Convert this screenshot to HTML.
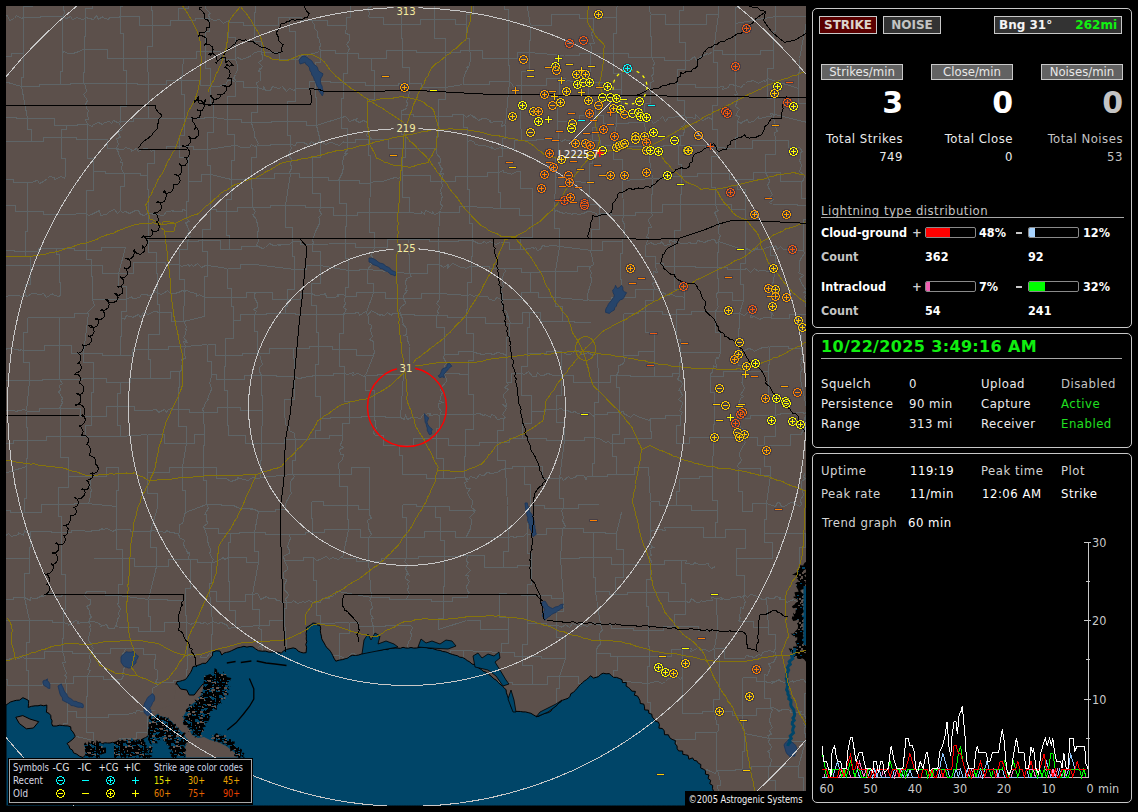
<!DOCTYPE html>
<html><head><meta charset="utf-8"><title>Lightning</title><style>
html,body{margin:0;padding:0;background:#000;width:1138px;height:812px;overflow:hidden}

.box{position:absolute;left:812px;width:318px;border:1px solid #c8c8c8;border-radius:5px;box-sizing:content-box}
.btn{position:absolute;border:1px solid #c8c8c8;white-space:nowrap;overflow:hidden}
.t{position:absolute;white-space:nowrap}
.bar{position:absolute;width:49px;height:9px;border:1px solid #8a8a8a;border-radius:2px;background:#000;overflow:hidden}
.bar div{height:9px}

</style></head><body>
<svg width="1138" height="812" viewBox="0 0 1138 812" style="position:absolute;left:0;top:0"><defs><clipPath id="mc"><rect x="6" y="6" width="800" height="800"/></clipPath><pattern id="marsh" width="24" height="24" patternUnits="userSpaceOnUse"><rect width="24" height="24" fill="#000"/><rect x="7" y="18" width="1" height="1" fill="#004568"/><rect x="15" y="20" width="1" height="2" fill="#004568"/><rect x="15" y="8" width="1" height="1" fill="#6a5a52"/><rect x="15" y="17" width="3" height="1" fill="#6a5a52"/><rect x="4" y="7" width="1" height="2" fill="#004568"/><rect x="23" y="0" width="1" height="1" fill="#5c504b"/><rect x="18" y="1" width="2" height="1" fill="#5c504b"/><rect x="8" y="15" width="3" height="2" fill="#5c504b"/><rect x="13" y="12" width="3" height="1" fill="#004568"/><rect x="3" y="1" width="1" height="1" fill="#004568"/><rect x="8" y="21" width="3" height="2" fill="#5c504b"/><rect x="9" y="13" width="3" height="2" fill="#004568"/><rect x="17" y="18" width="3" height="2" fill="#004568"/><rect x="10" y="21" width="1" height="1" fill="#004568"/><rect x="21" y="22" width="1" height="2" fill="#5c504b"/><rect x="10" y="17" width="1" height="2" fill="#6a5a52"/><rect x="6" y="20" width="2" height="1" fill="#004568"/><rect x="2" y="15" width="3" height="1" fill="#004568"/><rect x="2" y="13" width="1" height="1" fill="#004568"/><rect x="13" y="13" width="1" height="1" fill="#004568"/><rect x="19" y="1" width="3" height="2" fill="#004568"/><rect x="10" y="17" width="2" height="2" fill="#004568"/><rect x="1" y="9" width="1" height="1" fill="#004568"/><rect x="19" y="17" width="1" height="1" fill="#004568"/><rect x="9" y="19" width="2" height="1" fill="#6a5a52"/><rect x="1" y="10" width="2" height="1" fill="#004568"/><rect x="12" y="12" width="3" height="2" fill="#004568"/><rect x="20" y="19" width="1" height="2" fill="#5c504b"/><rect x="16" y="8" width="3" height="2" fill="#6a5a52"/><rect x="22" y="7" width="2" height="1" fill="#004568"/><rect x="16" y="9" width="2" height="1" fill="#5c504b"/><rect x="13" y="18" width="2" height="1" fill="#004568"/><rect x="19" y="18" width="1" height="1" fill="#6a5a52"/><rect x="20" y="10" width="3" height="1" fill="#6a5a52"/><rect x="11" y="19" width="2" height="2" fill="#004568"/><rect x="0" y="18" width="1" height="2" fill="#004568"/><rect x="11" y="8" width="3" height="1" fill="#004568"/><rect x="19" y="10" width="1" height="1" fill="#004568"/><rect x="10" y="11" width="2" height="1" fill="#5c504b"/><rect x="12" y="3" width="1" height="2" fill="#6a5a52"/><rect x="23" y="4" width="2" height="2" fill="#004568"/><rect x="20" y="8" width="1" height="1" fill="#004568"/><rect x="21" y="13" width="1" height="1" fill="#004568"/><rect x="10" y="10" width="1" height="1" fill="#5c504b"/><rect x="5" y="2" width="2" height="2" fill="#6a5a52"/><rect x="6" y="18" width="3" height="1" fill="#004568"/><rect x="3" y="1" width="1" height="1" fill="#5c504b"/><rect x="18" y="5" width="2" height="1" fill="#5c504b"/><rect x="20" y="2" width="2" height="2" fill="#004568"/><rect x="13" y="9" width="2" height="1" fill="#004568"/><rect x="20" y="13" width="2" height="1" fill="#004568"/><rect x="13" y="1" width="3" height="1" fill="#004568"/><rect x="0" y="15" width="3" height="2" fill="#6a5a52"/><rect x="7" y="1" width="3" height="2" fill="#6a5a52"/><rect x="16" y="9" width="2" height="1" fill="#5c504b"/><rect x="2" y="18" width="2" height="1" fill="#5c504b"/><rect x="7" y="1" width="1" height="2" fill="#004568"/><rect x="6" y="13" width="1" height="1" fill="#004568"/><rect x="23" y="3" width="1" height="2" fill="#004568"/><rect x="7" y="21" width="1" height="2" fill="#004568"/><rect x="13" y="1" width="1" height="1" fill="#004568"/><rect x="8" y="17" width="3" height="1" fill="#004568"/><rect x="7" y="6" width="1" height="2" fill="#5c504b"/><rect x="3" y="5" width="1" height="1" fill="#5c504b"/><rect x="4" y="0" width="3" height="2" fill="#004568"/><rect x="12" y="1" width="2" height="1" fill="#004568"/><rect x="19" y="16" width="3" height="1" fill="#004568"/><rect x="10" y="0" width="1" height="1" fill="#004568"/><rect x="3" y="1" width="1" height="1" fill="#004568"/><rect x="22" y="2" width="3" height="1" fill="#004568"/><rect x="10" y="2" width="2" height="1" fill="#6a5a52"/><rect x="12" y="18" width="2" height="1" fill="#004568"/><rect x="6" y="10" width="3" height="1" fill="#004568"/><rect x="17" y="0" width="3" height="1" fill="#004568"/><rect x="5" y="1" width="2" height="1" fill="#004568"/><rect x="20" y="17" width="3" height="2" fill="#5c504b"/><rect x="1" y="19" width="3" height="1" fill="#004568"/><rect x="20" y="15" width="2" height="1" fill="#6a5a52"/><rect x="13" y="14" width="1" height="1" fill="#004568"/><rect x="17" y="8" width="1" height="1" fill="#004568"/><rect x="13" y="4" width="1" height="1" fill="#004568"/><rect x="17" y="8" width="1" height="1" fill="#6a5a52"/><rect x="3" y="23" width="3" height="2" fill="#004568"/><rect x="23" y="10" width="1" height="2" fill="#6a5a52"/><rect x="0" y="15" width="1" height="1" fill="#5c504b"/><rect x="12" y="1" width="1" height="2" fill="#004568"/><rect x="21" y="12" width="1" height="1" fill="#004568"/><rect x="3" y="0" width="1" height="2" fill="#004568"/><rect x="22" y="9" width="2" height="1" fill="#004568"/><rect x="18" y="16" width="1" height="1" fill="#004568"/></pattern><pattern id="marsh2" width="24" height="24" patternUnits="userSpaceOnUse"><rect width="24" height="24" fill="#000"/><rect x="23" y="3" width="1" height="2" fill="#5c504b"/><rect x="18" y="5" width="1" height="1" fill="#004568"/><rect x="20" y="7" width="2" height="2" fill="#5c504b"/><rect x="11" y="19" width="2" height="2" fill="#5c504b"/><rect x="2" y="12" width="1" height="2" fill="#5c504b"/><rect x="23" y="5" width="2" height="1" fill="#5c504b"/><rect x="20" y="12" width="1" height="1" fill="#004568"/><rect x="15" y="23" width="2" height="1" fill="#5c504b"/><rect x="4" y="8" width="1" height="2" fill="#004568"/><rect x="7" y="22" width="2" height="2" fill="#5c504b"/><rect x="19" y="18" width="2" height="1" fill="#5c504b"/><rect x="9" y="0" width="2" height="2" fill="#5c504b"/><rect x="6" y="5" width="2" height="1" fill="#5c504b"/><rect x="10" y="15" width="2" height="2" fill="#004568"/><rect x="22" y="19" width="2" height="1" fill="#004568"/><rect x="15" y="23" width="2" height="1" fill="#004568"/><rect x="14" y="7" width="1" height="1" fill="#004568"/><rect x="8" y="7" width="2" height="1" fill="#004568"/><rect x="5" y="19" width="2" height="1" fill="#004568"/><rect x="1" y="10" width="2" height="1" fill="#004568"/><rect x="23" y="2" width="1" height="2" fill="#004568"/><rect x="9" y="1" width="2" height="2" fill="#5c504b"/><rect x="0" y="0" width="2" height="2" fill="#5c504b"/><rect x="12" y="15" width="1" height="2" fill="#004568"/><rect x="12" y="4" width="2" height="1" fill="#5c504b"/><rect x="8" y="2" width="1" height="2" fill="#5c504b"/><rect x="16" y="8" width="2" height="2" fill="#004568"/><rect x="14" y="9" width="1" height="2" fill="#5c504b"/><rect x="21" y="18" width="1" height="2" fill="#5c504b"/><rect x="16" y="11" width="2" height="1" fill="#004568"/><rect x="20" y="20" width="1" height="2" fill="#004568"/><rect x="20" y="14" width="1" height="1" fill="#004568"/><rect x="10" y="20" width="2" height="2" fill="#5c504b"/><rect x="20" y="5" width="2" height="2" fill="#5c504b"/><rect x="5" y="22" width="1" height="1" fill="#004568"/><rect x="17" y="17" width="2" height="2" fill="#5c504b"/><rect x="3" y="8" width="2" height="1" fill="#5c504b"/><rect x="4" y="1" width="2" height="1" fill="#5c504b"/><rect x="22" y="16" width="2" height="2" fill="#5c504b"/><rect x="14" y="17" width="2" height="2" fill="#004568"/></pattern><path id="sCp" d="M-1 -4h3v1h-3zM-3 -3h2v1h-2zM2 -3h2v1h-2zM-3 -2h1v1h-1zM0 -2h1v1h-1zM3 -2h1v1h-1zM-4 -1h1v1h-1zM0 -1h1v1h-1zM4 -1h1v1h-1zM-4 0h1v1h-1zM-2 0h5v1h-5zM4 0h1v1h-1zM-4 1h1v1h-1zM0 1h1v1h-1zM4 1h1v1h-1zM-3 2h1v1h-1zM0 2h1v1h-1zM3 2h1v1h-1zM-3 3h2v1h-2zM2 3h2v1h-2zM-1 4h3v1h-3z"/><path id="sCm" d="M-1 -4h3v1h-3zM-3 -3h2v1h-2zM2 -3h2v1h-2zM-3 -2h1v1h-1zM3 -2h1v1h-1zM-4 -1h1v1h-1zM4 -1h1v1h-1zM-4 0h1v1h-1zM-2 0h5v1h-5zM4 0h1v1h-1zM-4 1h1v1h-1zM4 1h1v1h-1zM-3 2h1v1h-1zM3 2h1v1h-1zM-3 3h2v1h-2zM2 3h2v1h-2zM-1 4h3v1h-3z"/><path id="sP" d="M0 -3h1v1h-1zM0 -2h1v1h-1zM0 -1h1v1h-1zM-3 0h7v1h-7zM0 1h1v1h-1zM0 2h1v1h-1zM0 3h1v1h-1z"/><path id="sM" d="M-3 0h7v1h-7z"/></defs><g clip-path="url(#mc)"><rect x="6" y="6" width="800" height="800" fill="#5c504b"/><path d="M-4.5 1.5L32.5 -0.5M-4.5 1.5L-4.5 7.5L-7.5 5.5L-8.5 9.5L-8.5 12.5L-8.5 17.5M-8.5 17.5L-6.5 16.5L-1.5 19.5L3.5 15.5L2.5 16.5L7.5 15.5L9.5 20.5L14.5 18.5L16.5 15.5L21.5 18.5L23.5 17.5M-8.5 17.5V34.5H-1.5V56.5M-1.5 56.5H11.5V53.5H23.5M-1.5 56.5V68.5H-9.5V77.5M-9.5 77.5L21.5 86.5M-3.5 117.5H16.5V118.5H27.5M-3.5 117.5V129.5H-6.5V141.5M-6.5 141.5H20.5V141.5H31.5M-6.5 141.5V165.5H-4.5V179.5M-4.5 179.5H13.5V182.5H27.5M-4.5 179.5V197.5H-8.5V205.5M-8.5 205.5H15.5V211.5H27.5M-8.5 205.5V234.5H-0.5V250.5M-0.5 250.5H14.5V251.5H25.5M-0.5 250.5V262.5H-12.5V268.5M-12.5 268.5H5.5V265.5H30.5M-12.5 268.5V281.5H-4.5V293.5M-4.5 293.5L-2.5 295.5L0.5 294.5L3.5 296.5L6.5 296.5L9.5 295.5L13.5 295.5L19.5 295.5L22.5 297.5L22.5 295.5L25.5 295.5M-4.5 293.5V307.5H-3.5V323.5M-3.5 323.5V339.5H-5.5V348.5M-5.5 348.5L0.5 350.5L-0.5 350.5L3.5 350.5L7.5 348.5L11.5 348.5L16.5 349.5L20.5 350.5L20.5 349.5L23.5 350.5M-5.5 348.5V362.5H-9.5V374.5M-9.5 374.5H4.5V380.5H29.5M-9.5 374.5L-10.5 407.5M-10.5 407.5L-4.5 409.5L-2.5 407.5L-0.5 407.5L0.5 407.5L3.5 410.5L7.5 410.5L12.5 410.5L14.5 410.5L15.5 411.5L19.5 410.5L24.5 409.5L26.5 411.5M-10.5 407.5V420.5H-9.5V443.5M-9.5 443.5H13.5V440.5H27.5M-9.5 443.5L-5.5 476.5M-5.5 476.5L26.5 466.5M-5.5 476.5V500.5H-1.5V510.5M-1.5 510.5H10.5V512.5H24.5M-1.5 510.5V526.5H-11.5V537.5M-11.5 537.5L-5.5 539.5L-3.5 535.5L-2.5 537.5L2.5 535.5L2.5 534.5L4.5 536.5L8.5 533.5L11.5 536.5L18.5 534.5L18.5 532.5L23.5 535.5L24.5 530.5L29.5 534.5L30.5 531.5M-11.5 537.5V548.5H-11.5V565.5M-11.5 565.5H3.5V558.5H29.5M-2.5 599.5H13.5V597.5H24.5M-2.5 599.5V615.5H-7.5V621.5M-7.5 621.5H4.5V620.5H29.5M-7.5 621.5V644.5H-11.5V655.5M-11.5 655.5L-5.5 655.5L-6.5 657.5L-1.5 656.5L3.5 657.5L5.5 659.5L6.5 659.5L12.5 658.5L15.5 657.5L19.5 658.5L22.5 656.5L24.5 658.5L26.5 658.5M-11.5 655.5L-9.5 679.5M-9.5 679.5H7.5V685.5H28.5M-9.5 708.5H0.5V717.5H22.5M-9.5 708.5L-8.5 739.5M-8.5 739.5H18.5V731.5H31.5M-6.5 766.5L-6.5 771.5L-5.5 774.5L-6.5 776.5L-6.5 781.5L-5.5 782.5L-8.5 787.5L-8.5 787.5L-5.5 793.5L-4.5 795.5L-6.5 798.5M-6.5 798.5H8.5V799.5H23.5M-6.5 798.5V818.5H-6.5V826.5M-6.5 826.5H13.5V830.5H31.5M32.5 -0.5L61.5 -8.5M32.5 -0.5V6.5H23.5V17.5M23.5 17.5H40.5V16.5H62.5M23.5 17.5V35.5H23.5V53.5M23.5 53.5V77.5H21.5V86.5M21.5 86.5H39.5V84.5H60.5M21.5 86.5L27.5 118.5M27.5 118.5H54.5V125.5H66.5M27.5 118.5V129.5H31.5V141.5M31.5 141.5H43.5V137.5H61.5M27.5 182.5L32.5 182.5L33.5 181.5L37.5 180.5L39.5 183.5L43.5 181.5L47.5 178.5L49.5 176.5L54.5 177.5L54.5 179.5L61.5 176.5L64.5 178.5L65.5 175.5M27.5 182.5V200.5H27.5V211.5M27.5 211.5H43.5V214.5H65.5M27.5 211.5V231.5H25.5V251.5M25.5 251.5H38.5V248.5H56.5M25.5 251.5V256.5H30.5V265.5M30.5 265.5H42.5V265.5H59.5M30.5 265.5V284.5H25.5V295.5M25.5 295.5L27.5 296.5L31.5 293.5L33.5 293.5L40.5 294.5L43.5 293.5L46.5 297.5L49.5 295.5L52.5 293.5L52.5 294.5L58.5 296.5L60.5 295.5M27.5 317.5H48.5V317.5H59.5M27.5 317.5V332.5H23.5V350.5M23.5 350.5H44.5V345.5H59.5M23.5 350.5V362.5H29.5V380.5M29.5 380.5H42.5V379.5H59.5M29.5 380.5L26.5 411.5M26.5 411.5H39.5V408.5H60.5M26.5 411.5V427.5H27.5V440.5M27.5 440.5H46.5V436.5H60.5M27.5 440.5V458.5H26.5V466.5M26.5 466.5V498.5H24.5V512.5M24.5 512.5H41.5V504.5H58.5M30.5 531.5H51.5V532.5H61.5M30.5 531.5V547.5H29.5V558.5M29.5 558.5V573.5H24.5V597.5M24.5 597.5L30.5 600.5L30.5 597.5L33.5 598.5L36.5 598.5L42.5 595.5L42.5 596.5L45.5 595.5L48.5 593.5L52.5 593.5L54.5 596.5L60.5 596.5L62.5 595.5L65.5 593.5M24.5 597.5L29.5 620.5M29.5 620.5H52.5V622.5H63.5M29.5 620.5V642.5H26.5V658.5M26.5 658.5H44.5V651.5H62.5M26.5 658.5V670.5H28.5V685.5M28.5 685.5H42.5V683.5H66.5M28.5 685.5V705.5H22.5V717.5M22.5 717.5V722.5H31.5V731.5M31.5 731.5H47.5V733.5H63.5M31.5 731.5V751.5H27.5V770.5M27.5 770.5L33.5 770.5L34.5 770.5L38.5 769.5L41.5 770.5L42.5 769.5L44.5 769.5L48.5 771.5L51.5 768.5L56.5 768.5L60.5 770.5L63.5 769.5L64.5 770.5M23.5 799.5H41.5V795.5H61.5M23.5 799.5L31.5 830.5M31.5 830.5H44.5V830.5H65.5M61.5 -8.5L92.5 -5.5M61.5 -8.5L60.5 -2.5L64.5 -2.5L59.5 0.5L62.5 2.5L63.5 9.5L64.5 11.5L64.5 13.5L62.5 16.5M62.5 16.5L66.5 18.5L70.5 16.5L72.5 19.5L77.5 17.5L78.5 18.5L83.5 19.5L85.5 17.5M62.5 16.5V29.5H62.5V52.5M62.5 52.5L64.5 51.5L67.5 53.5L73.5 53.5L75.5 52.5L79.5 51.5L82.5 49.5L84.5 49.5M62.5 52.5V71.5H60.5V84.5M60.5 84.5H70.5V83.5H83.5M66.5 125.5H77.5V124.5H87.5M66.5 125.5V129.5H61.5V137.5M61.5 137.5H76.5V139.5H87.5M61.5 137.5V158.5H65.5V175.5M65.5 214.5L86.5 213.5M56.5 248.5H74.5V250.5H86.5M56.5 248.5V254.5H59.5V265.5M59.5 265.5H80.5V265.5H91.5M59.5 265.5V282.5H60.5V295.5M59.5 317.5H74.5V313.5H88.5M59.5 317.5V330.5H59.5V345.5M59.5 345.5H71.5V353.5H83.5M59.5 345.5V358.5H59.5V379.5M59.5 379.5H82.5V378.5H93.5M59.5 379.5L62.5 383.5L59.5 385.5L60.5 390.5L58.5 391.5L62.5 398.5L61.5 400.5L62.5 402.5L59.5 408.5L60.5 408.5M60.5 408.5H80.5V416.5H91.5M60.5 408.5V424.5H60.5V436.5M60.5 436.5H76.5V436.5H85.5M60.5 436.5V457.5H68.5V476.5M68.5 476.5H82.5V476.5H92.5M68.5 476.5V487.5H58.5V504.5M58.5 504.5H74.5V503.5H87.5M58.5 504.5V516.5H61.5V532.5M61.5 532.5H71.5V530.5H83.5M61.5 532.5V546.5H61.5V562.5M61.5 562.5V574.5H65.5V593.5M65.5 593.5V609.5H63.5V622.5M63.5 622.5L69.5 624.5L68.5 625.5L75.5 620.5L78.5 621.5L77.5 623.5L83.5 622.5L87.5 622.5L89.5 621.5M63.5 622.5V638.5H62.5V651.5M62.5 651.5H72.5V653.5H90.5M62.5 651.5L64.5 657.5L64.5 658.5L65.5 662.5L62.5 662.5L64.5 668.5L66.5 673.5L64.5 675.5L66.5 676.5L65.5 682.5L66.5 683.5M66.5 683.5H73.5V676.5H87.5M66.5 683.5V695.5H67.5V711.5M67.5 711.5H76.5V717.5H86.5M67.5 711.5V723.5H63.5V733.5M63.5 733.5L93.5 740.5M63.5 733.5V753.5H64.5V770.5M64.5 770.5L66.5 770.5L72.5 770.5L72.5 769.5L77.5 765.5L78.5 765.5L80.5 766.5L85.5 764.5M64.5 770.5V779.5H61.5V795.5M61.5 795.5H73.5V801.5H86.5M61.5 795.5V807.5H65.5V830.5M65.5 830.5H74.5V823.5H93.5M92.5 -5.5L94.5 -5.5L96.5 -6.5L103.5 -5.5L103.5 -3.5L107.5 -6.5L112.5 -2.5L115.5 -6.5L118.5 -4.5L120.5 -3.5L122.5 -4.5M92.5 -5.5V8.5H85.5V17.5M85.5 17.5L89.5 18.5L93.5 19.5L96.5 15.5L98.5 19.5L102.5 16.5L102.5 17.5L108.5 19.5L109.5 17.5L115.5 17.5L118.5 17.5L120.5 16.5M85.5 17.5V36.5H84.5V49.5M84.5 49.5H107.5V58.5H123.5M84.5 49.5V72.5H83.5V83.5M83.5 83.5H111.5V83.5H126.5M83.5 83.5L85.5 85.5L86.5 91.5L84.5 93.5L83.5 94.5L87.5 100.5L85.5 104.5L85.5 103.5L86.5 108.5L88.5 110.5L87.5 113.5L88.5 119.5L85.5 119.5L87.5 124.5M87.5 124.5L92.5 126.5L92.5 125.5L95.5 123.5L98.5 122.5L102.5 124.5L104.5 122.5L109.5 121.5L111.5 123.5L113.5 120.5L117.5 122.5L120.5 121.5M87.5 124.5V130.5H87.5V139.5M87.5 139.5H107.5V148.5H116.5M87.5 139.5V158.5H93.5V171.5M93.5 171.5H105.5V173.5H124.5M93.5 171.5V190.5H86.5V213.5M86.5 213.5L88.5 215.5L91.5 214.5L95.5 212.5L99.5 210.5L100.5 215.5L106.5 214.5L107.5 213.5L109.5 211.5L114.5 209.5L117.5 213.5L120.5 210.5M86.5 213.5V232.5H86.5V250.5M86.5 250.5H101.5V247.5H125.5M86.5 250.5V259.5H91.5V265.5M91.5 265.5H102.5V273.5H118.5M91.5 265.5V276.5H92.5V299.5M92.5 299.5H114.5V299.5H126.5M92.5 299.5L94.5 305.5L92.5 307.5L87.5 312.5L88.5 313.5M88.5 313.5L83.5 353.5M83.5 353.5H102.5V355.5H120.5M83.5 353.5V362.5H93.5V378.5M93.5 378.5H106.5V382.5H120.5M93.5 378.5V392.5H91.5V416.5M91.5 416.5H106.5V406.5H117.5M91.5 416.5V425.5H85.5V436.5M85.5 436.5H106.5V436.5H120.5M92.5 476.5H106.5V467.5H118.5M92.5 476.5L90.5 481.5L90.5 485.5L89.5 485.5L90.5 488.5L91.5 489.5L90.5 493.5L90.5 496.5L88.5 503.5L87.5 503.5M87.5 503.5L116.5 506.5M83.5 530.5L86.5 531.5L90.5 531.5L92.5 530.5L95.5 530.5L98.5 530.5L102.5 528.5L102.5 529.5L107.5 528.5L112.5 531.5L116.5 529.5L116.5 529.5M93.5 558.5L122.5 558.5M86.5 591.5H105.5V595.5H118.5M86.5 591.5L84.5 595.5L88.5 599.5L90.5 599.5L90.5 604.5L86.5 606.5L89.5 610.5L89.5 613.5L91.5 617.5L89.5 618.5L89.5 621.5M89.5 621.5L92.5 621.5L97.5 622.5L101.5 625.5L100.5 626.5L106.5 624.5L108.5 628.5L114.5 628.5L115.5 625.5L118.5 627.5M89.5 621.5L90.5 626.5L89.5 626.5L90.5 629.5L89.5 634.5L88.5 637.5L88.5 640.5L92.5 645.5L91.5 646.5L93.5 648.5L90.5 653.5M90.5 653.5H110.5V648.5H124.5M90.5 653.5L89.5 656.5L90.5 660.5L89.5 666.5L87.5 669.5L90.5 670.5L87.5 675.5L87.5 676.5M87.5 676.5H103.5V679.5H121.5M87.5 676.5V696.5H86.5V717.5M86.5 717.5H108.5V714.5H126.5M86.5 717.5V732.5H93.5V740.5M93.5 740.5L92.5 743.5L92.5 748.5L90.5 748.5L90.5 754.5L88.5 753.5L89.5 758.5L86.5 761.5L85.5 764.5M85.5 764.5H100.5V772.5H125.5M85.5 764.5L87.5 767.5L87.5 769.5L86.5 773.5L87.5 775.5L84.5 779.5L87.5 785.5L87.5 784.5L88.5 787.5L87.5 790.5L86.5 795.5L85.5 800.5L86.5 801.5M86.5 801.5H108.5V792.5H124.5M86.5 801.5V811.5H93.5V823.5M93.5 823.5L96.5 822.5L101.5 823.5L103.5 827.5L104.5 823.5L112.5 828.5L111.5 827.5L114.5 828.5L119.5 826.5M122.5 -4.5V6.5H120.5V16.5M120.5 16.5H139.5V25.5H152.5M120.5 16.5V33.5H123.5V58.5M123.5 58.5L147.5 58.5M123.5 58.5V70.5H126.5V83.5M126.5 83.5H137.5V84.5H148.5M126.5 83.5V106.5H120.5V121.5M120.5 121.5H133.5V118.5H148.5M120.5 121.5L119.5 124.5L122.5 129.5L121.5 130.5L117.5 131.5L120.5 137.5L116.5 138.5L118.5 144.5L116.5 147.5L116.5 148.5M116.5 148.5L120.5 149.5L123.5 149.5L125.5 147.5L131.5 149.5L131.5 151.5L136.5 148.5L138.5 151.5L143.5 148.5L146.5 148.5L149.5 149.5L151.5 151.5L154.5 149.5M116.5 148.5L118.5 152.5L118.5 154.5L121.5 159.5L120.5 162.5L122.5 162.5L121.5 169.5L123.5 172.5L124.5 173.5M124.5 173.5H140.5V175.5H147.5M124.5 173.5V186.5H120.5V210.5M120.5 210.5L122.5 212.5L125.5 211.5L129.5 213.5L135.5 210.5L138.5 210.5L140.5 214.5L144.5 215.5L148.5 212.5L148.5 213.5M125.5 247.5L118.5 273.5M118.5 273.5H133.5V262.5H156.5M118.5 273.5V286.5H126.5V299.5M126.5 299.5L131.5 296.5L132.5 298.5L134.5 298.5L139.5 297.5L141.5 294.5L145.5 294.5L149.5 295.5L153.5 293.5L154.5 291.5L157.5 292.5M126.5 299.5V311.5H121.5V317.5M121.5 317.5L124.5 319.5L126.5 315.5L133.5 317.5L132.5 317.5L138.5 314.5L140.5 317.5L143.5 312.5L148.5 314.5L151.5 312.5L154.5 311.5L155.5 311.5L159.5 312.5M121.5 317.5V336.5H120.5V355.5M120.5 355.5H132.5V349.5H148.5M120.5 382.5H130.5V378.5H150.5M120.5 382.5V393.5H117.5V406.5M117.5 406.5H134.5V410.5H150.5M117.5 406.5V425.5H120.5V436.5M120.5 436.5L147.5 434.5M118.5 467.5V490.5H116.5V506.5M116.5 506.5V517.5H116.5V529.5M116.5 529.5H130.5V531.5H150.5M116.5 529.5V549.5H122.5V558.5M122.5 558.5H134.5V566.5H156.5M122.5 558.5V584.5H118.5V595.5M118.5 595.5L148.5 599.5M118.5 595.5L118.5 600.5L118.5 602.5L117.5 604.5L120.5 608.5L118.5 613.5L119.5 616.5L118.5 617.5L117.5 619.5L116.5 625.5L118.5 627.5M118.5 627.5H138.5V631.5H150.5M124.5 648.5H143.5V654.5H155.5M124.5 648.5L125.5 649.5L122.5 654.5L126.5 657.5L125.5 659.5L124.5 666.5L124.5 666.5L123.5 670.5L122.5 674.5L123.5 675.5L121.5 679.5M126.5 714.5L127.5 714.5L134.5 712.5L135.5 713.5L136.5 710.5L143.5 711.5L146.5 712.5L147.5 710.5M118.5 738.5H136.5V732.5H147.5M118.5 738.5V749.5H125.5V772.5M125.5 772.5H139.5V768.5H158.5M125.5 772.5L125.5 778.5L123.5 779.5L127.5 784.5L123.5 787.5L123.5 788.5L124.5 792.5M124.5 792.5L126.5 792.5L133.5 793.5L132.5 794.5L139.5 796.5L140.5 794.5L145.5 794.5L145.5 792.5L149.5 794.5M124.5 792.5V811.5H119.5V826.5M119.5 826.5H141.5V822.5H152.5M151.5 -0.5H169.5V-4.5H188.5M151.5 -0.5V10.5H152.5V25.5M152.5 25.5H170.5V20.5H178.5M152.5 25.5V46.5H147.5V58.5M147.5 58.5H166.5V58.5H183.5M147.5 58.5L148.5 84.5M148.5 84.5H166.5V80.5H181.5M148.5 84.5V101.5H148.5V118.5M148.5 118.5H161.5V118.5H184.5M154.5 149.5H166.5V146.5H179.5M154.5 149.5V163.5H147.5V175.5M147.5 175.5V189.5H148.5V213.5M148.5 213.5L150.5 213.5L154.5 214.5L156.5 214.5L163.5 215.5L166.5 211.5L168.5 211.5L173.5 210.5L172.5 211.5L177.5 211.5L182.5 211.5L182.5 209.5L186.5 210.5M148.5 213.5V228.5H148.5V241.5M148.5 241.5H176.5V241.5H187.5M148.5 241.5V252.5H156.5V262.5M156.5 262.5H165.5V264.5H179.5M156.5 262.5V273.5H157.5V292.5M157.5 292.5L160.5 294.5L163.5 293.5L167.5 290.5L170.5 293.5L172.5 293.5L174.5 293.5L178.5 292.5L182.5 290.5L184.5 291.5M157.5 292.5V304.5H159.5V312.5M159.5 312.5H171.5V321.5H183.5M159.5 312.5V334.5H148.5V349.5M148.5 349.5H168.5V346.5H185.5M148.5 349.5V359.5H150.5V378.5M150.5 378.5H170.5V371.5H179.5M150.5 410.5L155.5 409.5L157.5 410.5L158.5 412.5L164.5 409.5L166.5 412.5L167.5 410.5L170.5 408.5L174.5 409.5L178.5 409.5M147.5 434.5H164.5V443.5H186.5M147.5 434.5V457.5H147.5V472.5M147.5 472.5H169.5V467.5H182.5M147.5 472.5V493.5H157.5V507.5M157.5 507.5L150.5 531.5M150.5 531.5L152.5 530.5L157.5 531.5L159.5 531.5L165.5 532.5L166.5 530.5L170.5 532.5L173.5 532.5L175.5 533.5L178.5 533.5M150.5 531.5V547.5H156.5V566.5M156.5 566.5H168.5V559.5H190.5M156.5 566.5L148.5 599.5M148.5 599.5H167.5V600.5H185.5M148.5 599.5V616.5H150.5V631.5M150.5 631.5H164.5V622.5H186.5M155.5 654.5L155.5 657.5L154.5 661.5L154.5 663.5L154.5 668.5L157.5 670.5L157.5 674.5L157.5 677.5L157.5 678.5L155.5 682.5M155.5 682.5H173.5V680.5H186.5M155.5 682.5L157.5 685.5L152.5 688.5L152.5 692.5L152.5 695.5L151.5 696.5L150.5 700.5L148.5 702.5L149.5 707.5L147.5 710.5M147.5 710.5H174.5V713.5H188.5M147.5 710.5V725.5H147.5V732.5M147.5 732.5L151.5 734.5L156.5 734.5L156.5 731.5L158.5 732.5L162.5 731.5L166.5 733.5L169.5 734.5L169.5 733.5L177.5 731.5L176.5 731.5L182.5 733.5L183.5 732.5L187.5 734.5L189.5 732.5M147.5 732.5V754.5H158.5V768.5M158.5 768.5L160.5 770.5L164.5 765.5L166.5 767.5L170.5 763.5L174.5 763.5L178.5 763.5M158.5 768.5V779.5H149.5V794.5M149.5 794.5L184.5 799.5M149.5 794.5L151.5 797.5L148.5 801.5L149.5 805.5L153.5 807.5L150.5 811.5L153.5 813.5L153.5 815.5L154.5 819.5L152.5 822.5M152.5 822.5H176.5V821.5H189.5M188.5 -4.5H195.5V-4.5H201.5M188.5 -4.5V8.5H178.5V20.5M178.5 20.5H195.5V18.5H209.5M183.5 58.5H196.5V51.5H205.5M183.5 58.5L181.5 80.5M181.5 80.5H200.5V85.5H210.5M181.5 80.5V94.5H184.5V118.5M184.5 118.5H204.5V117.5H213.5M184.5 118.5V135.5H179.5V146.5M179.5 146.5H193.5V149.5H207.5M179.5 146.5V157.5H188.5V181.5M188.5 181.5H201.5V174.5H210.5M188.5 181.5V201.5H186.5V210.5M186.5 210.5L186.5 212.5L186.5 218.5L189.5 221.5L185.5 222.5L187.5 226.5L188.5 229.5L189.5 231.5L186.5 235.5L190.5 236.5L187.5 241.5M187.5 241.5H198.5V240.5H202.5M187.5 241.5V249.5H179.5V264.5M179.5 264.5L181.5 266.5L188.5 264.5L189.5 266.5L191.5 264.5L193.5 266.5L197.5 263.5L201.5 267.5L205.5 265.5L207.5 265.5M179.5 264.5V279.5H184.5V291.5M184.5 291.5L186.5 290.5L191.5 292.5L196.5 293.5L196.5 296.5L199.5 294.5L204.5 297.5M184.5 291.5L183.5 321.5M183.5 321.5L204.5 316.5M183.5 321.5L186.5 326.5L185.5 329.5L186.5 329.5L184.5 336.5L183.5 337.5L187.5 342.5L183.5 341.5L185.5 346.5M185.5 346.5L207.5 344.5M185.5 346.5L184.5 349.5L184.5 353.5L185.5 358.5L181.5 359.5L182.5 361.5L181.5 368.5L181.5 370.5L179.5 371.5M179.5 371.5V387.5H178.5V409.5M178.5 409.5H189.5V412.5H203.5M178.5 409.5V426.5H186.5V443.5M186.5 443.5H194.5V434.5H204.5M186.5 443.5L182.5 467.5M182.5 467.5H196.5V467.5H203.5M182.5 467.5V490.5H185.5V512.5M185.5 512.5L206.5 504.5M185.5 512.5L184.5 514.5L183.5 520.5L182.5 523.5L179.5 524.5L179.5 526.5L179.5 532.5L178.5 533.5M178.5 533.5L179.5 537.5L184.5 540.5L183.5 543.5L184.5 547.5L186.5 549.5L187.5 553.5L189.5 552.5L188.5 559.5L190.5 559.5M190.5 559.5H197.5V562.5H211.5M190.5 559.5V588.5H185.5V600.5M185.5 600.5V615.5H186.5V622.5M186.5 622.5L191.5 624.5L191.5 623.5L196.5 622.5L199.5 622.5L201.5 623.5L205.5 622.5L207.5 624.5L212.5 621.5M186.5 622.5V640.5H187.5V654.5M187.5 654.5L190.5 656.5L193.5 654.5L197.5 654.5L201.5 654.5L200.5 657.5L206.5 657.5L209.5 653.5L211.5 655.5M187.5 654.5V669.5H186.5V680.5M186.5 680.5L189.5 680.5L192.5 680.5L197.5 679.5L199.5 681.5L201.5 678.5L206.5 677.5M186.5 680.5V693.5H188.5V713.5M188.5 713.5L208.5 713.5M188.5 713.5L190.5 718.5L188.5 722.5L191.5 725.5L191.5 724.5L190.5 731.5L189.5 732.5M189.5 732.5H203.5V731.5H211.5M189.5 732.5V748.5H178.5V763.5M178.5 763.5H191.5V769.5H202.5M178.5 763.5V783.5H184.5V799.5M184.5 799.5H193.5V798.5H205.5M184.5 799.5L185.5 804.5L184.5 805.5L186.5 811.5L187.5 811.5L188.5 814.5L188.5 820.5L189.5 821.5M189.5 821.5L206.5 821.5M201.5 -4.5L202.5 -4.5L210.5 -2.5L211.5 -4.5L214.5 -2.5L219.5 -4.5L221.5 -5.5L223.5 -6.5L226.5 -4.5L230.5 -3.5L229.5 -6.5L234.5 -6.5M201.5 -4.5L202.5 -0.5L202.5 0.5L205.5 7.5L205.5 6.5L205.5 8.5L210.5 13.5L208.5 14.5L209.5 18.5M209.5 18.5L214.5 20.5L214.5 20.5L219.5 19.5L223.5 23.5L228.5 20.5L228.5 22.5M209.5 18.5V31.5H205.5V51.5M205.5 51.5H220.5V59.5H235.5M205.5 51.5V68.5H210.5V85.5M210.5 85.5L212.5 86.5L217.5 86.5L222.5 85.5L224.5 84.5L225.5 85.5L227.5 80.5L231.5 80.5L235.5 81.5M210.5 85.5V103.5H213.5V117.5M213.5 117.5L227.5 119.5M213.5 117.5V132.5H207.5V149.5M207.5 149.5L234.5 145.5M207.5 149.5V165.5H210.5V174.5M210.5 174.5L231.5 179.5M210.5 174.5V187.5H210.5V209.5M210.5 209.5H216.5V211.5H226.5M210.5 209.5V229.5H202.5V240.5M202.5 240.5H220.5V249.5H229.5M202.5 240.5V251.5H207.5V265.5M207.5 265.5L227.5 268.5M207.5 265.5V276.5H204.5V297.5M204.5 297.5L231.5 297.5M204.5 297.5V307.5H204.5V316.5M207.5 344.5H215.5V355.5H225.5M207.5 344.5V361.5H211.5V374.5M211.5 374.5H216.5V379.5H224.5M211.5 374.5L211.5 376.5L209.5 383.5L210.5 384.5L211.5 388.5L210.5 392.5L209.5 393.5L207.5 399.5L208.5 399.5L205.5 402.5L203.5 408.5L202.5 408.5L203.5 412.5M203.5 412.5H217.5V407.5H227.5M203.5 412.5L204.5 434.5M204.5 434.5V445.5H203.5V467.5M203.5 467.5H216.5V478.5H226.5M203.5 467.5V480.5H206.5V504.5M206.5 504.5H221.5V505.5H233.5M206.5 504.5L208.5 507.5L206.5 511.5L204.5 514.5L206.5 514.5L206.5 519.5L207.5 523.5L203.5 526.5L204.5 528.5M204.5 528.5H218.5V533.5H230.5M204.5 528.5L206.5 534.5L206.5 535.5L207.5 536.5L207.5 540.5L208.5 544.5L210.5 549.5L210.5 552.5L209.5 552.5L211.5 557.5L213.5 559.5L211.5 562.5M211.5 562.5L213.5 562.5L216.5 561.5L223.5 557.5L224.5 559.5L228.5 557.5M211.5 562.5V583.5H209.5V591.5M209.5 591.5H216.5V601.5H229.5M209.5 591.5L212.5 621.5M212.5 621.5L218.5 623.5L217.5 623.5L221.5 622.5L227.5 625.5L228.5 628.5L233.5 627.5L235.5 627.5M212.5 621.5V634.5H211.5V655.5M211.5 655.5H225.5V652.5H233.5M211.5 655.5V664.5H206.5V677.5M206.5 677.5H216.5V683.5H233.5M206.5 677.5V696.5H208.5V713.5M208.5 713.5H217.5V708.5H235.5M208.5 713.5V723.5H211.5V731.5M211.5 731.5H219.5V732.5H230.5M211.5 731.5V752.5H202.5V769.5M202.5 769.5L207.5 771.5L211.5 770.5L214.5 768.5L216.5 767.5L217.5 770.5L221.5 766.5L226.5 769.5L227.5 769.5L231.5 767.5M202.5 769.5L205.5 798.5M205.5 798.5L210.5 797.5L211.5 799.5L217.5 798.5L218.5 798.5L222.5 799.5L226.5 799.5L228.5 799.5L231.5 797.5M205.5 798.5V810.5H206.5V821.5M206.5 821.5H217.5V822.5H228.5M234.5 -6.5H247.5V0.5H255.5M228.5 22.5H243.5V25.5H254.5M228.5 22.5V37.5H235.5V59.5M235.5 59.5L237.5 57.5L241.5 59.5L247.5 57.5L249.5 56.5L251.5 55.5L254.5 52.5L260.5 51.5L261.5 52.5M235.5 59.5L237.5 65.5L237.5 63.5L237.5 69.5L235.5 74.5L233.5 78.5L234.5 77.5L235.5 81.5M235.5 81.5H243.5V87.5H257.5M235.5 81.5V96.5H227.5V119.5M227.5 119.5H241.5V122.5H251.5M227.5 119.5V134.5H234.5V145.5M234.5 145.5L237.5 145.5L240.5 147.5L242.5 147.5L249.5 147.5L251.5 144.5L254.5 146.5L256.5 145.5M234.5 145.5V160.5H231.5V179.5M231.5 179.5H245.5V178.5H251.5M231.5 179.5V199.5H226.5V211.5M226.5 211.5H237.5V207.5H252.5M226.5 211.5V235.5H229.5V249.5M229.5 249.5H241.5V246.5H258.5M227.5 268.5H240.5V264.5H255.5M227.5 268.5V288.5H231.5V297.5M231.5 297.5H246.5V292.5H255.5M231.5 297.5V306.5H233.5V320.5M233.5 320.5H240.5V314.5H254.5M233.5 320.5V338.5H225.5V355.5M225.5 355.5H242.5V353.5H257.5M225.5 355.5V366.5H224.5V379.5M224.5 379.5H244.5V375.5H261.5M224.5 379.5V390.5H227.5V407.5M227.5 407.5H240.5V410.5H262.5M227.5 407.5V425.5H228.5V435.5M228.5 435.5H245.5V443.5H261.5M226.5 478.5L230.5 481.5L234.5 480.5L238.5 478.5L237.5 477.5L243.5 479.5L248.5 480.5L249.5 479.5L252.5 477.5L256.5 478.5L259.5 478.5L260.5 477.5M233.5 505.5L237.5 507.5L240.5 508.5L244.5 508.5L247.5 508.5L252.5 508.5L250.5 509.5L254.5 509.5L258.5 511.5M230.5 533.5H239.5V532.5H254.5M230.5 533.5V542.5H228.5V557.5M228.5 557.5H246.5V562.5H258.5M228.5 557.5V581.5H229.5V601.5M229.5 601.5H245.5V594.5H252.5M229.5 601.5V610.5H235.5V627.5M235.5 627.5L259.5 625.5M233.5 652.5H243.5V656.5H260.5M233.5 683.5H242.5V675.5H258.5M233.5 683.5V691.5H235.5V708.5M235.5 708.5L234.5 712.5L234.5 716.5L235.5 716.5L232.5 722.5L232.5 722.5L232.5 727.5L232.5 732.5L230.5 732.5M230.5 732.5L233.5 730.5L236.5 732.5L239.5 730.5L245.5 732.5L244.5 734.5L249.5 732.5L253.5 733.5L255.5 732.5M230.5 732.5L231.5 767.5M231.5 767.5H251.5V765.5H260.5M231.5 767.5V781.5H231.5V797.5M231.5 797.5H247.5V797.5H253.5M231.5 797.5V813.5H228.5V822.5M228.5 822.5H247.5V827.5H262.5M255.5 0.5H272.5V-9.5H286.5M255.5 0.5V12.5H254.5V25.5M254.5 25.5H278.5V17.5H289.5M254.5 25.5V41.5H261.5V52.5M261.5 52.5H279.5V59.5H295.5M261.5 52.5L262.5 56.5L262.5 59.5L258.5 62.5L262.5 66.5L258.5 71.5L259.5 69.5L260.5 73.5L260.5 80.5L259.5 81.5L256.5 82.5L257.5 87.5M257.5 87.5L263.5 89.5L263.5 86.5L265.5 90.5L270.5 90.5L272.5 86.5L278.5 88.5L281.5 87.5L282.5 86.5L286.5 91.5L289.5 88.5L294.5 90.5L295.5 88.5M257.5 87.5V112.5H251.5V122.5M251.5 122.5H271.5V121.5H287.5M251.5 122.5L252.5 126.5L253.5 129.5L254.5 132.5L254.5 135.5L254.5 136.5L258.5 143.5L256.5 145.5M256.5 145.5H270.5V144.5H290.5M256.5 145.5V157.5H251.5V178.5M251.5 178.5H274.5V173.5H290.5M251.5 178.5V188.5H252.5V207.5M252.5 207.5H270.5V205.5H285.5M252.5 207.5L255.5 211.5L253.5 214.5L252.5 214.5L256.5 219.5L256.5 221.5L257.5 223.5L258.5 230.5L257.5 232.5L257.5 237.5L258.5 238.5L258.5 240.5L256.5 245.5L258.5 246.5M258.5 246.5L262.5 248.5L265.5 247.5L269.5 243.5L269.5 243.5L273.5 245.5L280.5 244.5L278.5 245.5L283.5 244.5L289.5 244.5L290.5 243.5L292.5 241.5M255.5 264.5L294.5 269.5M255.5 292.5H272.5V299.5H287.5M255.5 292.5L254.5 294.5L254.5 297.5L257.5 303.5L257.5 307.5L253.5 309.5L256.5 311.5L254.5 314.5M254.5 314.5H266.5V313.5H285.5M254.5 314.5V331.5H257.5V353.5M257.5 353.5H269.5V348.5H293.5M257.5 353.5L260.5 356.5L260.5 358.5L262.5 364.5L259.5 367.5L259.5 371.5L259.5 371.5L261.5 375.5M261.5 375.5H276.5V376.5H294.5M261.5 375.5V395.5H262.5V410.5M262.5 410.5L261.5 443.5M261.5 443.5H284.5V439.5H295.5M261.5 443.5V460.5H260.5V477.5M260.5 477.5L292.5 474.5M258.5 511.5H275.5V509.5H285.5M258.5 511.5L254.5 532.5M254.5 532.5H265.5V534.5H289.5M254.5 532.5V551.5H258.5V562.5M258.5 562.5L252.5 594.5M252.5 594.5L257.5 593.5L259.5 596.5L260.5 599.5L266.5 596.5L267.5 597.5L269.5 598.5L275.5 598.5L276.5 600.5L279.5 600.5L281.5 602.5L286.5 602.5M252.5 594.5V609.5H259.5V625.5M259.5 625.5H269.5V620.5H284.5M259.5 625.5L258.5 628.5L261.5 629.5L261.5 634.5L261.5 636.5L261.5 643.5L259.5 646.5L261.5 645.5L262.5 649.5L261.5 652.5L260.5 656.5M260.5 656.5L265.5 659.5L265.5 656.5L271.5 659.5L271.5 659.5L276.5 657.5L278.5 658.5L282.5 658.5L284.5 659.5L287.5 657.5M258.5 675.5H272.5V681.5H286.5M256.5 717.5L255.5 732.5M260.5 765.5H272.5V764.5H285.5M260.5 765.5V777.5H253.5V797.5M253.5 797.5H273.5V793.5H294.5M253.5 797.5V809.5H262.5V827.5M262.5 827.5L287.5 822.5M286.5 -9.5H296.5V1.5H315.5M289.5 17.5H301.5V20.5H311.5M289.5 17.5V31.5H295.5V59.5M295.5 59.5L298.5 59.5L300.5 55.5L306.5 56.5L308.5 54.5L313.5 53.5L316.5 52.5L319.5 51.5L320.5 50.5M295.5 59.5V71.5H295.5V88.5M295.5 88.5H309.5V81.5H315.5M295.5 88.5V101.5H287.5V121.5M287.5 121.5H306.5V125.5H316.5M287.5 121.5V135.5H290.5V144.5M290.5 144.5L295.5 145.5L296.5 142.5L300.5 142.5L303.5 142.5L307.5 144.5L308.5 145.5L311.5 141.5L315.5 144.5L319.5 140.5L320.5 141.5M290.5 144.5L291.5 148.5L289.5 151.5L289.5 157.5L291.5 158.5L291.5 161.5L290.5 162.5L291.5 168.5L289.5 172.5L290.5 173.5M290.5 173.5H299.5V177.5H312.5M290.5 173.5L285.5 205.5M285.5 205.5H305.5V207.5H320.5M285.5 205.5V227.5H292.5V241.5M292.5 241.5H300.5V244.5H312.5M292.5 241.5V256.5H294.5V269.5M294.5 269.5H306.5V265.5H320.5M294.5 269.5V289.5H287.5V299.5M287.5 299.5H300.5V293.5H311.5M287.5 299.5V306.5H285.5V313.5M285.5 313.5H295.5V314.5H316.5M293.5 348.5H309.5V346.5H318.5M293.5 348.5V358.5H294.5V376.5M294.5 376.5L298.5 378.5L298.5 378.5L304.5 377.5L307.5 376.5L312.5 376.5L312.5 375.5L315.5 375.5M294.5 376.5V399.5H284.5V417.5M284.5 417.5L285.5 418.5L285.5 424.5L286.5 425.5L289.5 427.5L289.5 430.5L294.5 433.5L294.5 436.5L295.5 439.5M295.5 439.5H309.5V438.5H315.5M295.5 439.5V460.5H292.5V474.5M292.5 474.5L314.5 474.5M292.5 474.5L294.5 476.5L290.5 481.5L290.5 482.5L290.5 490.5L291.5 493.5L289.5 495.5L289.5 496.5L286.5 501.5L286.5 501.5L285.5 504.5L285.5 509.5M289.5 534.5H305.5V532.5H312.5M289.5 534.5L290.5 538.5L289.5 540.5L287.5 546.5L289.5 550.5L289.5 553.5L284.5 555.5L283.5 556.5L284.5 560.5M284.5 560.5H303.5V557.5H313.5M284.5 560.5L285.5 563.5L287.5 566.5L287.5 569.5L283.5 572.5L283.5 578.5L286.5 579.5L286.5 580.5L284.5 584.5L284.5 590.5L284.5 589.5L288.5 594.5L287.5 597.5L285.5 598.5L286.5 602.5M286.5 602.5L291.5 602.5L293.5 600.5L293.5 600.5L297.5 603.5L303.5 601.5L304.5 602.5L309.5 600.5L312.5 602.5L315.5 601.5L316.5 602.5M286.5 602.5V608.5H284.5V620.5M284.5 620.5L287.5 657.5M287.5 657.5V670.5H286.5V681.5M286.5 681.5L289.5 683.5L295.5 680.5L296.5 679.5L299.5 679.5L304.5 679.5L304.5 676.5L309.5 678.5L309.5 677.5L312.5 675.5L316.5 673.5L319.5 674.5M286.5 681.5V698.5H293.5V713.5M293.5 713.5H305.5V710.5H315.5M293.5 713.5V732.5H288.5V740.5M288.5 740.5H306.5V742.5H321.5M288.5 740.5V757.5H285.5V764.5M285.5 764.5L290.5 766.5L290.5 767.5L293.5 766.5L295.5 770.5L300.5 771.5L302.5 769.5L305.5 771.5L309.5 771.5L312.5 773.5M285.5 764.5L286.5 766.5L289.5 772.5L288.5 773.5L289.5 775.5L289.5 778.5L290.5 780.5L289.5 785.5L292.5 786.5L295.5 791.5L294.5 793.5M294.5 793.5H303.5V794.5H311.5M294.5 793.5L287.5 822.5M287.5 822.5H310.5V825.5H320.5M315.5 1.5L320.5 3.5L320.5 2.5L323.5 0.5L330.5 -1.5L329.5 -1.5L333.5 -0.5L337.5 -0.5L339.5 -2.5L342.5 -0.5L347.5 -0.5L350.5 -2.5M311.5 20.5H327.5V25.5H346.5M311.5 20.5L313.5 23.5L314.5 24.5L314.5 28.5L317.5 31.5L317.5 37.5L318.5 37.5L319.5 40.5L320.5 44.5L319.5 48.5L320.5 50.5M320.5 50.5H335.5V53.5H347.5M320.5 50.5V62.5H315.5V81.5M315.5 81.5H330.5V82.5H343.5M315.5 81.5V97.5H316.5V125.5M316.5 125.5L341.5 117.5M316.5 125.5L320.5 141.5M320.5 141.5L324.5 143.5L325.5 144.5L330.5 142.5L331.5 142.5L336.5 144.5L339.5 145.5L343.5 141.5L343.5 142.5L347.5 142.5M320.5 141.5V157.5H312.5V177.5M312.5 177.5H328.5V180.5H339.5M312.5 177.5V193.5H320.5V207.5M320.5 207.5H333.5V215.5H346.5M320.5 207.5L319.5 210.5L321.5 214.5L318.5 217.5L319.5 218.5L319.5 223.5L317.5 227.5L315.5 231.5L315.5 231.5L314.5 234.5L312.5 240.5L313.5 242.5L312.5 244.5M312.5 244.5L345.5 243.5M312.5 244.5V251.5H320.5V265.5M320.5 265.5L348.5 270.5M320.5 265.5V283.5H311.5V293.5M311.5 293.5L315.5 295.5L316.5 295.5L323.5 294.5L325.5 293.5L326.5 297.5L331.5 297.5L333.5 297.5L338.5 296.5L337.5 294.5L343.5 294.5L345.5 296.5M311.5 293.5V305.5H316.5V314.5M316.5 314.5H333.5V314.5H343.5M316.5 314.5V332.5H318.5V346.5M318.5 346.5H332.5V349.5H339.5M318.5 346.5V364.5H315.5V375.5M315.5 375.5H333.5V373.5H344.5M315.5 375.5V396.5H320.5V418.5M320.5 418.5H330.5V417.5H349.5M320.5 418.5V430.5H315.5V438.5M315.5 438.5H329.5V435.5H342.5M314.5 474.5H327.5V474.5H339.5M311.5 501.5H323.5V505.5H347.5M311.5 501.5V518.5H312.5V532.5M312.5 532.5H324.5V529.5H348.5M313.5 557.5L316.5 560.5L320.5 559.5L321.5 558.5L326.5 556.5L329.5 559.5L332.5 557.5L338.5 559.5L341.5 556.5L342.5 558.5M313.5 557.5V580.5H316.5V602.5M316.5 602.5L320.5 602.5L320.5 601.5L322.5 598.5L329.5 598.5L328.5 597.5L334.5 595.5L336.5 592.5L338.5 591.5M316.5 602.5V615.5H320.5V623.5M320.5 623.5L349.5 622.5M320.5 623.5L320.5 624.5L317.5 627.5L318.5 634.5L317.5 634.5L316.5 639.5L318.5 639.5L316.5 641.5L313.5 649.5L315.5 651.5L314.5 650.5L311.5 655.5M311.5 655.5H326.5V655.5H339.5M311.5 655.5V668.5H319.5V674.5M319.5 674.5H335.5V679.5H342.5M319.5 674.5V692.5H315.5V710.5M315.5 710.5H323.5V707.5H338.5M315.5 710.5V725.5H321.5V742.5M321.5 742.5H331.5V742.5H344.5M321.5 742.5L322.5 746.5L320.5 748.5L320.5 752.5L320.5 755.5L315.5 758.5L318.5 759.5L313.5 763.5L314.5 765.5L315.5 770.5L312.5 773.5M312.5 773.5H324.5V763.5H340.5M312.5 773.5V784.5H311.5V794.5M311.5 794.5H325.5V800.5H347.5M311.5 794.5V816.5H320.5V825.5M350.5 -2.5H357.5V-6.5H369.5M350.5 -2.5V17.5H346.5V25.5M346.5 25.5L346.5 27.5L345.5 33.5L349.5 34.5L349.5 40.5L349.5 40.5L346.5 44.5L349.5 48.5L348.5 50.5L347.5 53.5M347.5 53.5H358.5V58.5H371.5M347.5 53.5V73.5H343.5V82.5M343.5 82.5H365.5V85.5H374.5M343.5 82.5V98.5H341.5V117.5M341.5 117.5L345.5 116.5L347.5 118.5L349.5 121.5L357.5 118.5L355.5 120.5L359.5 122.5L363.5 120.5L367.5 122.5M341.5 117.5V128.5H347.5V142.5M347.5 142.5H355.5V139.5H368.5M347.5 142.5L347.5 148.5L348.5 148.5L344.5 153.5L347.5 153.5L343.5 156.5L342.5 164.5L343.5 165.5L343.5 169.5L342.5 169.5L342.5 172.5L338.5 180.5L339.5 180.5M339.5 180.5H359.5V183.5H370.5M339.5 180.5V203.5H346.5V215.5M346.5 215.5H357.5V212.5H369.5M346.5 215.5V226.5H345.5V243.5M345.5 243.5H355.5V247.5H374.5M345.5 243.5V258.5H348.5V270.5M348.5 270.5H359.5V269.5H367.5M348.5 270.5V287.5H345.5V296.5M345.5 296.5H356.5V292.5H373.5M345.5 296.5L344.5 299.5L345.5 303.5L343.5 307.5L344.5 308.5L346.5 309.5L343.5 314.5M343.5 314.5L345.5 313.5L352.5 313.5L352.5 313.5L358.5 312.5L359.5 315.5L365.5 311.5L366.5 312.5M343.5 314.5V333.5H339.5V349.5M339.5 349.5H356.5V355.5H373.5M339.5 349.5V366.5H344.5V373.5M344.5 373.5L347.5 374.5L353.5 372.5L352.5 375.5L357.5 373.5L358.5 373.5L363.5 376.5L365.5 375.5M344.5 373.5V401.5H349.5V417.5M349.5 417.5H361.5V416.5H374.5M349.5 417.5V423.5H342.5V435.5M342.5 435.5L342.5 440.5L341.5 441.5L340.5 445.5L343.5 447.5L339.5 449.5L340.5 454.5L343.5 454.5L342.5 459.5L338.5 463.5L338.5 466.5L339.5 471.5L339.5 470.5L339.5 474.5M339.5 474.5H351.5V467.5H369.5M339.5 474.5V486.5H347.5V505.5M347.5 505.5H358.5V509.5H369.5M347.5 505.5V519.5H348.5V529.5M348.5 529.5H360.5V537.5H368.5M348.5 529.5L342.5 558.5M342.5 558.5H356.5V561.5H368.5M338.5 591.5L371.5 597.5M349.5 622.5H358.5V626.5H373.5M349.5 622.5V633.5H339.5V655.5M339.5 655.5L344.5 658.5L347.5 657.5L351.5 653.5L353.5 653.5L357.5 655.5L360.5 656.5L363.5 653.5L365.5 654.5L368.5 653.5L373.5 653.5L374.5 654.5M339.5 655.5V667.5H342.5V679.5M342.5 679.5H362.5V683.5H376.5M342.5 679.5V689.5H338.5V707.5M338.5 707.5L343.5 708.5L344.5 707.5L347.5 711.5L349.5 711.5L352.5 713.5L357.5 714.5L360.5 715.5L365.5 714.5L364.5 717.5L368.5 718.5L371.5 718.5L375.5 717.5M338.5 707.5V724.5H344.5V742.5M344.5 742.5L349.5 740.5L349.5 743.5L354.5 741.5L358.5 738.5L358.5 741.5L362.5 737.5L364.5 738.5L367.5 738.5L372.5 736.5M340.5 763.5H354.5V764.5H367.5M340.5 763.5L340.5 768.5L340.5 772.5L340.5 774.5L341.5 778.5L342.5 779.5L345.5 782.5L345.5 783.5L345.5 788.5L345.5 790.5L346.5 796.5L345.5 797.5L347.5 800.5M347.5 800.5L349.5 803.5L352.5 800.5L358.5 802.5L358.5 801.5L364.5 802.5L367.5 799.5L368.5 800.5L371.5 800.5M347.5 800.5V813.5H344.5V829.5M344.5 829.5H357.5V821.5H370.5M369.5 -6.5H382.5V-2.5H402.5M369.5 -6.5L368.5 -3.5L371.5 -2.5L369.5 2.5L371.5 6.5L367.5 8.5L368.5 11.5L369.5 12.5L368.5 17.5M368.5 17.5H383.5V24.5H401.5M371.5 58.5H386.5V50.5H402.5M371.5 58.5V70.5H374.5V85.5M374.5 85.5H398.5V83.5H409.5M374.5 85.5V99.5H367.5V122.5M367.5 122.5L367.5 124.5L368.5 129.5L366.5 135.5L371.5 138.5L368.5 139.5M368.5 139.5H388.5V148.5H405.5M368.5 139.5V155.5H370.5V183.5M370.5 183.5L373.5 181.5L376.5 181.5L380.5 181.5L382.5 181.5L388.5 179.5L391.5 178.5L395.5 177.5L398.5 178.5L401.5 176.5L402.5 175.5M370.5 183.5L369.5 212.5M369.5 212.5H390.5V212.5H409.5M369.5 212.5V232.5H374.5V247.5M374.5 247.5H387.5V239.5H408.5M374.5 247.5L372.5 252.5L370.5 255.5L372.5 256.5L373.5 261.5L369.5 261.5L371.5 264.5L367.5 269.5M367.5 269.5L409.5 273.5M367.5 269.5V283.5H373.5V292.5M373.5 292.5H385.5V298.5H403.5M373.5 292.5L366.5 312.5M366.5 312.5L367.5 315.5L371.5 310.5L376.5 313.5L380.5 315.5L380.5 314.5L384.5 315.5L387.5 312.5L391.5 315.5L392.5 313.5L399.5 313.5L400.5 314.5M366.5 312.5L368.5 317.5L368.5 318.5L368.5 323.5L371.5 325.5L371.5 326.5L370.5 330.5L372.5 336.5L369.5 339.5L373.5 341.5L373.5 341.5L373.5 344.5L373.5 347.5L374.5 351.5L373.5 355.5M373.5 355.5L365.5 375.5M365.5 375.5H377.5V374.5H403.5M365.5 375.5V390.5H374.5V416.5M374.5 416.5H385.5V417.5H400.5M374.5 416.5L374.5 417.5L375.5 423.5L375.5 424.5L376.5 428.5L373.5 431.5L374.5 435.5M374.5 435.5H383.5V445.5H399.5M369.5 467.5V489.5H369.5V509.5M369.5 509.5L369.5 514.5L371.5 518.5L370.5 518.5L367.5 520.5L368.5 525.5L368.5 528.5L370.5 532.5L371.5 534.5L368.5 537.5M368.5 537.5H387.5V537.5H406.5M368.5 537.5L368.5 561.5M368.5 561.5H381.5V558.5H406.5M368.5 561.5L371.5 597.5M371.5 597.5H389.5V599.5H406.5M371.5 597.5L369.5 600.5L371.5 602.5L372.5 608.5L370.5 609.5L370.5 614.5L373.5 618.5L371.5 618.5L372.5 624.5L373.5 626.5M373.5 626.5H385.5V625.5H410.5M373.5 626.5V643.5H374.5V654.5M374.5 654.5L376.5 656.5L380.5 652.5L385.5 653.5L387.5 655.5L389.5 653.5L393.5 652.5L396.5 652.5L399.5 651.5L403.5 655.5L407.5 652.5L409.5 653.5M374.5 654.5V673.5H376.5V683.5M376.5 683.5L375.5 717.5M375.5 717.5L381.5 717.5L382.5 717.5L382.5 716.5L388.5 715.5L389.5 717.5L396.5 716.5L394.5 718.5L399.5 714.5L402.5 715.5M375.5 717.5V724.5H372.5V736.5M372.5 736.5L409.5 732.5M372.5 736.5V755.5H367.5V764.5M367.5 764.5L371.5 764.5L372.5 764.5L374.5 765.5L382.5 765.5L383.5 764.5L383.5 765.5L390.5 768.5L390.5 764.5L393.5 764.5L395.5 766.5L401.5 766.5L403.5 767.5M371.5 800.5L374.5 801.5L378.5 801.5L382.5 803.5L383.5 801.5L387.5 802.5L393.5 804.5L393.5 802.5L398.5 801.5L401.5 804.5L404.5 804.5L405.5 804.5L409.5 802.5M371.5 800.5L369.5 801.5L370.5 808.5L372.5 811.5L372.5 812.5L370.5 814.5L371.5 816.5L370.5 821.5M370.5 821.5H384.5V828.5H401.5M402.5 -2.5L403.5 -2.5L411.5 -3.5L409.5 -0.5L412.5 -0.5L419.5 -2.5L421.5 -3.5L422.5 -4.5L426.5 -1.5L428.5 0.5L431.5 -1.5L433.5 0.5L439.5 -4.5L441.5 -2.5M402.5 -2.5L401.5 24.5M401.5 24.5H420.5V19.5H434.5M401.5 24.5V38.5H402.5V50.5M402.5 50.5H416.5V52.5H445.5M402.5 50.5V67.5H409.5V83.5M409.5 83.5H421.5V87.5H445.5M409.5 83.5L409.5 88.5L409.5 91.5L409.5 92.5L408.5 96.5L406.5 101.5L407.5 103.5L406.5 107.5L405.5 109.5L401.5 110.5L401.5 114.5M401.5 114.5H413.5V116.5H438.5M401.5 114.5V134.5H405.5V148.5M405.5 148.5H417.5V148.5H436.5M405.5 148.5V157.5H402.5V175.5M402.5 175.5H430.5V181.5H441.5M402.5 175.5V197.5H409.5V212.5M409.5 212.5L413.5 212.5L414.5 213.5L421.5 213.5L421.5 211.5L424.5 214.5L425.5 210.5L432.5 213.5L432.5 211.5L434.5 214.5L439.5 212.5M408.5 239.5H429.5V241.5H438.5M408.5 239.5V254.5H409.5V273.5M409.5 273.5H427.5V264.5H439.5M409.5 273.5L411.5 276.5L406.5 278.5L405.5 282.5L406.5 286.5L405.5 290.5L407.5 290.5L403.5 295.5L403.5 298.5M403.5 298.5H421.5V293.5H439.5M403.5 298.5L405.5 302.5L405.5 303.5L401.5 306.5L399.5 309.5L400.5 314.5M400.5 314.5H414.5V315.5H436.5M400.5 314.5L402.5 318.5L402.5 322.5L404.5 325.5L402.5 324.5L406.5 328.5L406.5 334.5L404.5 335.5L407.5 336.5L407.5 341.5L408.5 341.5L409.5 346.5M409.5 346.5V364.5H403.5V374.5M403.5 374.5L400.5 417.5M400.5 417.5L404.5 419.5L405.5 415.5L407.5 419.5L411.5 417.5L415.5 417.5L420.5 418.5L422.5 415.5L423.5 414.5L430.5 413.5L429.5 415.5L436.5 414.5L439.5 415.5L439.5 414.5M399.5 445.5H413.5V438.5H436.5M399.5 445.5V455.5H402.5V474.5M402.5 474.5H426.5V478.5H443.5M402.5 504.5H416.5V506.5H435.5M402.5 504.5V517.5H406.5V537.5M406.5 537.5H424.5V531.5H440.5M406.5 537.5L406.5 558.5M406.5 558.5H418.5V556.5H444.5M406.5 558.5L404.5 561.5L407.5 564.5L405.5 568.5L408.5 574.5L406.5 573.5L405.5 578.5L409.5 581.5L407.5 583.5L408.5 586.5L407.5 590.5L409.5 593.5L408.5 594.5L406.5 599.5M406.5 599.5H431.5V601.5H443.5M410.5 625.5L412.5 627.5L410.5 632.5L411.5 634.5L410.5 639.5L408.5 641.5L407.5 646.5L408.5 648.5L407.5 651.5L409.5 653.5M409.5 653.5H423.5V652.5H443.5M409.5 653.5V670.5H410.5V680.5M410.5 680.5H422.5V676.5H435.5M410.5 680.5L402.5 715.5M402.5 715.5L405.5 715.5L408.5 715.5L410.5 713.5L413.5 712.5L419.5 715.5L422.5 713.5L425.5 712.5L428.5 714.5L430.5 713.5L434.5 714.5L437.5 712.5L438.5 713.5L442.5 711.5L445.5 710.5M402.5 715.5V721.5H409.5V732.5M409.5 732.5L412.5 735.5L415.5 733.5L420.5 732.5L421.5 734.5L426.5 734.5L429.5 733.5L429.5 733.5L433.5 734.5L436.5 733.5L443.5 730.5L443.5 732.5M409.5 732.5L407.5 734.5L409.5 739.5L405.5 740.5L407.5 746.5L405.5 749.5L406.5 753.5L404.5 754.5L405.5 760.5L405.5 760.5L404.5 765.5L403.5 767.5M403.5 767.5V780.5H409.5V802.5M409.5 802.5H428.5V794.5H442.5M409.5 802.5V813.5H401.5V828.5M401.5 828.5H425.5V829.5H442.5M441.5 -2.5H454.5V-6.5H473.5M441.5 -2.5V5.5H434.5V19.5M434.5 19.5H455.5V24.5H466.5M434.5 19.5V38.5H445.5V52.5M445.5 52.5H460.5V50.5H469.5M445.5 52.5V71.5H445.5V87.5M445.5 87.5L462.5 84.5M445.5 87.5V99.5H438.5V116.5M438.5 116.5H452.5V114.5H463.5M438.5 116.5V136.5H436.5V148.5M436.5 148.5L436.5 150.5L436.5 153.5L440.5 158.5L440.5 162.5L438.5 162.5L441.5 168.5L442.5 168.5L439.5 174.5L443.5 173.5L441.5 179.5L441.5 181.5M441.5 181.5H455.5V176.5H467.5M441.5 181.5L442.5 186.5L440.5 189.5L441.5 193.5L440.5 193.5L442.5 196.5L441.5 198.5L440.5 204.5L442.5 205.5L440.5 210.5L439.5 212.5M439.5 212.5H459.5V206.5H469.5M439.5 212.5L438.5 241.5M438.5 241.5H458.5V240.5H472.5M438.5 241.5V250.5H439.5V264.5M439.5 264.5L443.5 267.5L448.5 264.5L447.5 268.5L452.5 263.5L457.5 265.5L460.5 267.5L464.5 267.5L465.5 268.5L470.5 266.5L471.5 266.5M439.5 264.5V283.5H439.5V293.5M439.5 293.5L467.5 295.5M439.5 293.5L439.5 297.5L439.5 299.5L436.5 303.5L439.5 306.5L437.5 311.5L438.5 313.5L436.5 315.5M436.5 315.5H447.5V317.5H466.5M436.5 315.5V327.5H444.5V354.5M444.5 354.5H458.5V351.5H473.5M444.5 354.5L443.5 357.5L446.5 363.5L447.5 362.5L444.5 365.5L443.5 372.5L444.5 373.5M444.5 373.5H459.5V374.5H468.5M444.5 373.5L444.5 375.5L446.5 378.5L446.5 381.5L441.5 387.5L440.5 390.5L442.5 392.5L441.5 394.5L439.5 401.5L443.5 402.5L438.5 403.5L438.5 407.5L441.5 411.5L439.5 414.5M439.5 414.5H455.5V414.5H473.5M439.5 414.5V428.5H436.5V438.5M436.5 438.5H448.5V445.5H465.5M436.5 438.5V458.5H443.5V478.5M443.5 478.5H455.5V477.5H464.5M435.5 506.5H449.5V510.5H473.5M435.5 506.5V517.5H440.5V531.5M440.5 531.5H455.5V537.5H465.5M440.5 531.5V540.5H444.5V556.5M444.5 556.5H459.5V555.5H467.5M444.5 556.5V586.5H443.5V601.5M443.5 601.5H452.5V597.5H467.5M443.5 601.5V618.5H438.5V629.5M438.5 629.5L466.5 620.5M443.5 652.5H450.5V650.5H463.5M443.5 652.5V668.5H435.5V676.5M435.5 676.5H452.5V676.5H465.5M435.5 676.5V689.5H445.5V710.5M445.5 710.5L447.5 713.5L454.5 710.5L455.5 711.5L461.5 713.5L464.5 714.5L468.5 712.5L468.5 715.5M445.5 710.5V718.5H443.5V732.5M443.5 732.5H451.5V737.5H468.5M443.5 732.5V750.5H443.5V764.5M443.5 764.5H456.5V766.5H464.5M443.5 764.5V780.5H442.5V794.5M442.5 794.5H450.5V796.5H465.5M442.5 794.5V816.5H442.5V829.5M442.5 829.5H450.5V832.5H465.5M473.5 -6.5H489.5V-4.5H504.5M473.5 -6.5V14.5H466.5V24.5M466.5 24.5V38.5H469.5V50.5M469.5 50.5H482.5V58.5H508.5M469.5 50.5L470.5 53.5L470.5 58.5L470.5 59.5L469.5 65.5L466.5 67.5L468.5 67.5L465.5 72.5L463.5 78.5L463.5 78.5L463.5 84.5L462.5 84.5M462.5 84.5H489.5V81.5H509.5M463.5 114.5L466.5 117.5L470.5 114.5L475.5 118.5L474.5 116.5L478.5 120.5L482.5 118.5L485.5 118.5L490.5 120.5L489.5 121.5L491.5 122.5L494.5 121.5L502.5 121.5L501.5 126.5L505.5 124.5M463.5 114.5V127.5H467.5V141.5M467.5 141.5L470.5 140.5L473.5 141.5L475.5 144.5L480.5 145.5L484.5 145.5L487.5 146.5L492.5 148.5L491.5 146.5L494.5 149.5L500.5 147.5L502.5 148.5M467.5 141.5V158.5H467.5V176.5M467.5 176.5H487.5V172.5H498.5M467.5 176.5V189.5H469.5V206.5M469.5 206.5L500.5 208.5M469.5 206.5V223.5H472.5V240.5M472.5 240.5L478.5 243.5L481.5 243.5L482.5 242.5L484.5 241.5L486.5 243.5L489.5 241.5L496.5 244.5L497.5 243.5L500.5 242.5M472.5 240.5V256.5H471.5V266.5M471.5 266.5H489.5V268.5H504.5M471.5 266.5V282.5H467.5V295.5M467.5 295.5L470.5 294.5L473.5 296.5L476.5 295.5L481.5 296.5L482.5 296.5L487.5 296.5L489.5 299.5L494.5 300.5L495.5 299.5L496.5 297.5L501.5 299.5M467.5 295.5V309.5H466.5V317.5M466.5 317.5H485.5V323.5H509.5M466.5 317.5V333.5H473.5V351.5M473.5 351.5L474.5 352.5L482.5 354.5L482.5 354.5L487.5 353.5L487.5 353.5L489.5 353.5L493.5 354.5L497.5 352.5L502.5 353.5L502.5 353.5L506.5 355.5M473.5 351.5V360.5H468.5V374.5M468.5 374.5V394.5H473.5V414.5M473.5 414.5L478.5 413.5L479.5 413.5L483.5 415.5L485.5 414.5L490.5 417.5L491.5 414.5L494.5 415.5L497.5 419.5L502.5 418.5L503.5 418.5M473.5 414.5V429.5H465.5V445.5M465.5 445.5H479.5V442.5H497.5M465.5 445.5V456.5H464.5V477.5M464.5 477.5L468.5 479.5L470.5 476.5L476.5 478.5L479.5 474.5L482.5 475.5L484.5 475.5L485.5 473.5L487.5 472.5L491.5 473.5L497.5 472.5L501.5 469.5L503.5 469.5L505.5 468.5M464.5 477.5L467.5 481.5L464.5 482.5L466.5 488.5L470.5 488.5L467.5 492.5L469.5 497.5L472.5 500.5L472.5 502.5L471.5 507.5L475.5 510.5L473.5 510.5M473.5 510.5L474.5 512.5L469.5 517.5L471.5 519.5L471.5 522.5L470.5 527.5L469.5 531.5L469.5 530.5L466.5 536.5L465.5 537.5M465.5 537.5H480.5V537.5H508.5M467.5 555.5H484.5V567.5H503.5M467.5 555.5L466.5 561.5L468.5 562.5L467.5 563.5L466.5 566.5L470.5 570.5L465.5 575.5L468.5 575.5L467.5 578.5L469.5 581.5L466.5 586.5L467.5 591.5L469.5 592.5L467.5 595.5L467.5 597.5M466.5 620.5H480.5V629.5H508.5M463.5 650.5L501.5 652.5M463.5 650.5V661.5H465.5V676.5M465.5 676.5L502.5 682.5M465.5 676.5V696.5H468.5V715.5M468.5 715.5H480.5V713.5H498.5M468.5 715.5L466.5 717.5L468.5 719.5L466.5 725.5L469.5 728.5L467.5 733.5L471.5 735.5L468.5 737.5M468.5 737.5V751.5H464.5V766.5M464.5 766.5H483.5V764.5H498.5M464.5 766.5V782.5H465.5V796.5M465.5 796.5H476.5V796.5H500.5M465.5 832.5L505.5 827.5M504.5 -4.5H517.5V-4.5H525.5M504.5 -4.5V9.5H508.5V21.5M508.5 21.5V34.5H508.5V58.5M508.5 58.5H517.5V52.5H529.5M508.5 58.5V65.5H509.5V81.5M509.5 81.5L511.5 83.5L513.5 86.5L518.5 85.5L521.5 85.5M509.5 81.5L505.5 124.5M505.5 124.5V138.5H502.5V148.5M502.5 148.5H514.5V140.5H521.5M502.5 148.5V156.5H498.5V172.5M498.5 172.5L503.5 170.5L503.5 172.5L510.5 173.5L511.5 174.5L514.5 172.5L517.5 171.5L520.5 171.5M498.5 172.5V192.5H500.5V208.5M500.5 208.5H519.5V215.5H532.5M500.5 242.5H509.5V249.5H520.5M504.5 268.5H521.5V272.5H530.5M504.5 268.5L505.5 271.5L503.5 273.5L502.5 279.5L503.5 282.5L502.5 282.5L503.5 286.5L500.5 289.5L502.5 294.5L502.5 298.5L501.5 299.5M501.5 299.5H521.5V292.5H530.5M501.5 299.5L502.5 303.5L502.5 304.5L503.5 309.5L506.5 311.5L508.5 317.5L506.5 315.5L510.5 322.5L509.5 323.5M509.5 323.5H522.5V312.5H529.5M509.5 323.5V337.5H506.5V355.5M506.5 355.5V373.5H506.5V382.5M506.5 382.5H511.5V373.5H521.5M506.5 382.5L508.5 384.5L504.5 387.5L508.5 389.5L503.5 394.5L503.5 397.5L505.5 399.5L506.5 406.5L502.5 404.5L506.5 408.5L502.5 414.5L505.5 417.5L503.5 418.5M503.5 418.5V430.5H497.5V442.5M497.5 442.5H509.5V438.5H522.5M497.5 442.5V460.5H505.5V468.5M505.5 468.5H512.5V466.5H524.5M505.5 468.5L507.5 505.5M507.5 505.5V528.5H508.5V537.5M508.5 537.5L511.5 536.5L515.5 537.5L517.5 536.5L523.5 536.5L526.5 533.5L527.5 534.5M508.5 537.5V551.5H503.5V567.5M503.5 567.5H517.5V565.5H531.5M499.5 593.5L527.5 595.5M499.5 593.5V617.5H508.5V629.5M508.5 629.5V643.5H501.5V652.5M501.5 652.5H514.5V656.5H522.5M502.5 682.5H512.5V684.5H532.5M502.5 682.5V694.5H498.5V713.5M498.5 713.5L504.5 714.5L507.5 714.5L508.5 714.5L512.5 715.5L516.5 714.5L518.5 717.5L521.5 715.5M498.5 713.5V730.5H505.5V739.5M505.5 739.5V752.5H498.5V764.5M498.5 764.5H516.5V767.5H525.5M498.5 764.5V777.5H500.5V796.5M500.5 796.5L503.5 797.5L507.5 794.5L512.5 793.5L515.5 796.5L513.5 796.5L517.5 793.5L520.5 792.5L522.5 795.5L527.5 796.5L530.5 793.5M500.5 796.5V812.5H505.5V827.5M505.5 827.5H513.5V822.5H524.5M525.5 -4.5H547.5V-5.5H561.5M525.5 -4.5L530.5 25.5M530.5 25.5H551.5V14.5H563.5M530.5 25.5V40.5H529.5V52.5M529.5 52.5L564.5 55.5M529.5 52.5V71.5H521.5V85.5M521.5 85.5H546.5V78.5H559.5M521.5 85.5L520.5 116.5M520.5 116.5L521.5 140.5M521.5 140.5H536.5V139.5H558.5M520.5 171.5V188.5H532.5V215.5M532.5 215.5V237.5H520.5V249.5M520.5 249.5L523.5 249.5L529.5 248.5L532.5 247.5L534.5 248.5L535.5 247.5L537.5 250.5L540.5 249.5L542.5 245.5L546.5 246.5L551.5 245.5L553.5 245.5L559.5 246.5L559.5 246.5M530.5 272.5H539.5V271.5H555.5M530.5 272.5V283.5H530.5V292.5M530.5 292.5H538.5V297.5H555.5M529.5 312.5H540.5V321.5H562.5M529.5 312.5V327.5H527.5V353.5M527.5 353.5H546.5V351.5H561.5M527.5 353.5V366.5H521.5V373.5M521.5 373.5L524.5 374.5L528.5 371.5L532.5 376.5L536.5 376.5L537.5 372.5L540.5 375.5L543.5 375.5L547.5 373.5L551.5 374.5L552.5 375.5L553.5 375.5L561.5 375.5L561.5 375.5M521.5 373.5V395.5H531.5V411.5M531.5 411.5H545.5V409.5H556.5M531.5 411.5V423.5H522.5V438.5M522.5 438.5H546.5V440.5H564.5M524.5 466.5H542.5V478.5H559.5M524.5 466.5V484.5H530.5V505.5M530.5 505.5H544.5V508.5H563.5M530.5 505.5V523.5H527.5V534.5M527.5 534.5H546.5V528.5H562.5M527.5 534.5V553.5H531.5V565.5M531.5 565.5V584.5H527.5V595.5M527.5 595.5H551.5V598.5H563.5M527.5 595.5V607.5H527.5V623.5M527.5 623.5H546.5V625.5H556.5M527.5 623.5V644.5H522.5V656.5M522.5 656.5H541.5V658.5H565.5M522.5 656.5V665.5H532.5V684.5M532.5 684.5H547.5V676.5H559.5M521.5 715.5L523.5 717.5L526.5 713.5L531.5 716.5L534.5 716.5L539.5 715.5L543.5 714.5L544.5 712.5L547.5 714.5L552.5 712.5L556.5 713.5L556.5 712.5M521.5 715.5L522.5 720.5L526.5 720.5L523.5 725.5L524.5 727.5L528.5 733.5L525.5 736.5L530.5 736.5L529.5 740.5M529.5 740.5H541.5V737.5H555.5M529.5 740.5V759.5H525.5V767.5M525.5 767.5H540.5V767.5H560.5M525.5 767.5V777.5H530.5V793.5M530.5 793.5H545.5V795.5H563.5M530.5 793.5V811.5H524.5V822.5M524.5 822.5L525.5 824.5L528.5 823.5L532.5 824.5L536.5 823.5L540.5 824.5L544.5 823.5L546.5 825.5L546.5 824.5L552.5 823.5L553.5 823.5L559.5 826.5L561.5 825.5L563.5 824.5M561.5 -5.5H582.5V-3.5H597.5M563.5 14.5H579.5V18.5H593.5M564.5 55.5H579.5V53.5H590.5M559.5 78.5L565.5 78.5L565.5 81.5L568.5 80.5L575.5 82.5L576.5 80.5L577.5 80.5L580.5 81.5L583.5 82.5L588.5 82.5M559.5 78.5V107.5H557.5V121.5M557.5 121.5H579.5V115.5H595.5M557.5 121.5L558.5 139.5M558.5 139.5L561.5 141.5L565.5 139.5L566.5 140.5L572.5 141.5L572.5 140.5L579.5 141.5L580.5 140.5L583.5 143.5L584.5 139.5L588.5 139.5L592.5 140.5M558.5 139.5V157.5H555.5V177.5M555.5 177.5L589.5 183.5M555.5 177.5L554.5 211.5M554.5 211.5L556.5 210.5L560.5 212.5L564.5 213.5L565.5 212.5L572.5 214.5L572.5 213.5L575.5 213.5L578.5 214.5L583.5 213.5L583.5 213.5L587.5 211.5L590.5 211.5L596.5 213.5L597.5 216.5L599.5 213.5M554.5 211.5V228.5H559.5V246.5M559.5 246.5L591.5 250.5M559.5 246.5L555.5 271.5M555.5 271.5H577.5V266.5H590.5M555.5 271.5L555.5 297.5M555.5 297.5L588.5 300.5M555.5 297.5V306.5H562.5V321.5M562.5 321.5H574.5V322.5H590.5M561.5 351.5L566.5 354.5L569.5 354.5L572.5 353.5L574.5 350.5L578.5 350.5L581.5 354.5L585.5 353.5L586.5 353.5L587.5 352.5L593.5 355.5L592.5 355.5L597.5 353.5M561.5 351.5V363.5H561.5V375.5M561.5 375.5H573.5V382.5H598.5M561.5 375.5V395.5H556.5V409.5M556.5 409.5L561.5 408.5L563.5 410.5L567.5 410.5L571.5 412.5L575.5 411.5L575.5 412.5L581.5 414.5L583.5 414.5L583.5 412.5L589.5 412.5L593.5 416.5L594.5 414.5M556.5 409.5V422.5H564.5V440.5M564.5 440.5H584.5V437.5H594.5M564.5 440.5L559.5 478.5M559.5 478.5L561.5 477.5L563.5 480.5L568.5 476.5L570.5 478.5L575.5 477.5L576.5 475.5L583.5 475.5L586.5 479.5L585.5 479.5L587.5 476.5L592.5 476.5M559.5 478.5V498.5H563.5V508.5M563.5 508.5H578.5V504.5H598.5M563.5 508.5L561.5 510.5L563.5 517.5L562.5 520.5L562.5 520.5L565.5 526.5L562.5 528.5M562.5 528.5H583.5V532.5H593.5M562.5 528.5L560.5 558.5M560.5 558.5H579.5V557.5H593.5M560.5 558.5L563.5 598.5M563.5 598.5V611.5H556.5V625.5M556.5 625.5L561.5 626.5L561.5 627.5L565.5 624.5L569.5 627.5L572.5 623.5L575.5 624.5L581.5 626.5L579.5 623.5L587.5 626.5L589.5 624.5L591.5 624.5L593.5 622.5L595.5 624.5L600.5 624.5M556.5 625.5V637.5H565.5V658.5M565.5 658.5L559.5 676.5M559.5 676.5H578.5V683.5H596.5M559.5 676.5V688.5H556.5V712.5M556.5 712.5L560.5 712.5L562.5 711.5L567.5 710.5L568.5 711.5L572.5 708.5L576.5 710.5L579.5 711.5L582.5 710.5L581.5 709.5L584.5 711.5L589.5 708.5M556.5 712.5L559.5 717.5L558.5 717.5L556.5 723.5L554.5 725.5L557.5 726.5L556.5 729.5L555.5 732.5L555.5 737.5M555.5 737.5V749.5H560.5V767.5M560.5 767.5L591.5 769.5M560.5 767.5V786.5H563.5V795.5M563.5 795.5L567.5 794.5L572.5 797.5L572.5 797.5L575.5 797.5L577.5 796.5L580.5 796.5L584.5 797.5L586.5 794.5L590.5 796.5M563.5 795.5V810.5H563.5V824.5M563.5 824.5L567.5 827.5L571.5 823.5L574.5 827.5L575.5 825.5L577.5 826.5L583.5 828.5L584.5 828.5L589.5 830.5L591.5 831.5L594.5 829.5M597.5 -3.5H606.5V-2.5H617.5M593.5 18.5H601.5V17.5H616.5M593.5 18.5L593.5 23.5L593.5 22.5L593.5 29.5L591.5 33.5L592.5 37.5L592.5 37.5L594.5 43.5L589.5 43.5L591.5 46.5L591.5 49.5L590.5 53.5M590.5 53.5H603.5V53.5H613.5M590.5 53.5V71.5H588.5V82.5M588.5 82.5H608.5V89.5H621.5M588.5 82.5V100.5H595.5V115.5M595.5 115.5H603.5V123.5H616.5M595.5 115.5V127.5H592.5V140.5M592.5 140.5H600.5V145.5H613.5M592.5 140.5V163.5H589.5V183.5M589.5 183.5V204.5H599.5V213.5M599.5 213.5H611.5V215.5H623.5M599.5 213.5V229.5H591.5V250.5M591.5 250.5H602.5V241.5H622.5M591.5 250.5L590.5 251.5L592.5 258.5L592.5 259.5L593.5 264.5L590.5 266.5M590.5 266.5L589.5 268.5L591.5 273.5L590.5 274.5L591.5 280.5L591.5 281.5L589.5 287.5L589.5 288.5L588.5 290.5L587.5 295.5L587.5 298.5L588.5 300.5M588.5 300.5H611.5V297.5H621.5M597.5 353.5L598.5 382.5M598.5 382.5H610.5V375.5H616.5M598.5 382.5V402.5H594.5V414.5M594.5 414.5H607.5V412.5H619.5M594.5 414.5L594.5 437.5M594.5 437.5L597.5 438.5L599.5 438.5L605.5 442.5L608.5 441.5L610.5 443.5L612.5 443.5M594.5 437.5V463.5H592.5V476.5M592.5 476.5H607.5V474.5H616.5M593.5 532.5H605.5V533.5H616.5M593.5 532.5V543.5H593.5V557.5M593.5 557.5H611.5V564.5H623.5M593.5 557.5V577.5H595.5V591.5M595.5 591.5H609.5V594.5H615.5M595.5 591.5L600.5 624.5M600.5 624.5H611.5V628.5H619.5M600.5 624.5L602.5 630.5L600.5 631.5L599.5 634.5L599.5 637.5L600.5 641.5L600.5 644.5L598.5 645.5L596.5 649.5L596.5 653.5M596.5 653.5H610.5V656.5H617.5M596.5 653.5V673.5H596.5V683.5M596.5 683.5H606.5V680.5H613.5M589.5 708.5L623.5 711.5M589.5 708.5V729.5H599.5V741.5M599.5 741.5V760.5H591.5V769.5M591.5 769.5H602.5V764.5H618.5M591.5 769.5V788.5H590.5V796.5M590.5 796.5L615.5 794.5M594.5 829.5L598.5 826.5L599.5 827.5L602.5 825.5L605.5 827.5L607.5 824.5L613.5 826.5L614.5 822.5M617.5 -2.5H629.5V2.5H648.5M617.5 -2.5L616.5 17.5M616.5 17.5V33.5H613.5V53.5M613.5 53.5H628.5V57.5H651.5M613.5 53.5V73.5H621.5V89.5M621.5 89.5V112.5H616.5V123.5M616.5 123.5H628.5V122.5H644.5M616.5 123.5L613.5 145.5M613.5 145.5H624.5V146.5H647.5M613.5 145.5V159.5H622.5V180.5M622.5 180.5L652.5 178.5M622.5 180.5L623.5 215.5M623.5 215.5H635.5V212.5H651.5M623.5 215.5L622.5 220.5L624.5 224.5L624.5 226.5L623.5 231.5L624.5 230.5L624.5 237.5L622.5 239.5L622.5 241.5M622.5 241.5V253.5H620.5V270.5M620.5 270.5V279.5H621.5V297.5M621.5 297.5H635.5V289.5H653.5M623.5 313.5H638.5V311.5H645.5M623.5 313.5V329.5H623.5V355.5M623.5 355.5H638.5V351.5H654.5M623.5 355.5L624.5 360.5L623.5 363.5L619.5 365.5L618.5 365.5L618.5 370.5L618.5 371.5L616.5 375.5M616.5 375.5H630.5V376.5H654.5M616.5 375.5V387.5H619.5V412.5M619.5 412.5L623.5 411.5L623.5 413.5L627.5 415.5L630.5 417.5L633.5 414.5L640.5 417.5L643.5 418.5L646.5 419.5L649.5 420.5L650.5 418.5M619.5 412.5V434.5H612.5V443.5M612.5 443.5H624.5V438.5H651.5M612.5 443.5V456.5H616.5V474.5M616.5 474.5H634.5V467.5H648.5M621.5 512.5L616.5 533.5M616.5 533.5V549.5H623.5V564.5M623.5 564.5H634.5V564.5H650.5M623.5 564.5V577.5H615.5V594.5M615.5 594.5H627.5V592.5H646.5M619.5 628.5H633.5V630.5H648.5M617.5 656.5H629.5V656.5H649.5M617.5 656.5V670.5H613.5V680.5M613.5 680.5L647.5 683.5M613.5 680.5V697.5H623.5V711.5M623.5 711.5H634.5V714.5H650.5M623.5 711.5L622.5 715.5L620.5 717.5L622.5 722.5L618.5 723.5L618.5 730.5L619.5 732.5L616.5 733.5L615.5 735.5L615.5 739.5M615.5 739.5H634.5V733.5H651.5M618.5 764.5L623.5 766.5L627.5 763.5L626.5 762.5L631.5 766.5L634.5 764.5L638.5 765.5L641.5 764.5L644.5 764.5L647.5 763.5M618.5 764.5L616.5 769.5L616.5 770.5L615.5 772.5L618.5 776.5L617.5 782.5L618.5 782.5L618.5 788.5L617.5 789.5L615.5 790.5L615.5 794.5M615.5 794.5L620.5 794.5L622.5 797.5L627.5 794.5L626.5 792.5L633.5 795.5L632.5 791.5L637.5 792.5L640.5 792.5L644.5 792.5L647.5 792.5L648.5 794.5L651.5 792.5M615.5 794.5V814.5H614.5V822.5M614.5 822.5L617.5 823.5L620.5 824.5L621.5 827.5L627.5 826.5L627.5 828.5L633.5 828.5L636.5 831.5L639.5 831.5L642.5 828.5L642.5 833.5L645.5 832.5L649.5 832.5M648.5 2.5L649.5 -0.5L656.5 1.5L657.5 -0.5L660.5 -2.5L664.5 -0.5L666.5 -1.5L669.5 -3.5L674.5 -5.5L673.5 -4.5L677.5 -5.5L680.5 -8.5L683.5 -7.5M648.5 2.5L650.5 14.5M650.5 14.5H665.5V24.5H679.5M650.5 14.5V36.5H651.5V57.5M651.5 57.5H664.5V60.5H685.5M651.5 57.5L654.5 62.5L653.5 66.5L652.5 68.5L653.5 68.5L653.5 74.5L651.5 75.5L653.5 81.5L650.5 82.5M650.5 82.5V103.5H644.5V122.5M644.5 122.5L646.5 122.5L651.5 120.5L653.5 123.5L659.5 119.5L659.5 119.5L662.5 116.5L665.5 121.5L668.5 117.5L672.5 117.5L677.5 116.5L679.5 116.5L683.5 115.5L684.5 114.5M644.5 122.5L647.5 146.5M647.5 146.5H663.5V145.5H678.5M647.5 146.5L652.5 178.5M652.5 178.5H663.5V176.5H681.5M652.5 178.5V194.5H651.5V212.5M651.5 212.5H662.5V204.5H680.5M651.5 212.5L652.5 215.5L648.5 219.5L648.5 220.5L651.5 227.5L648.5 227.5L648.5 232.5L646.5 237.5L648.5 237.5L647.5 241.5L645.5 244.5M645.5 244.5L647.5 244.5L650.5 242.5L654.5 244.5L660.5 243.5L661.5 241.5L664.5 245.5L670.5 244.5L669.5 240.5L674.5 241.5M645.5 244.5V256.5H655.5V263.5M655.5 263.5H663.5V266.5H674.5M655.5 263.5L655.5 266.5L657.5 272.5L653.5 271.5L652.5 278.5L656.5 281.5L652.5 283.5L654.5 288.5L653.5 289.5M653.5 289.5L657.5 289.5L661.5 292.5L665.5 293.5L665.5 295.5L667.5 295.5L672.5 294.5L675.5 296.5L681.5 296.5L684.5 297.5L684.5 299.5M653.5 289.5V300.5H645.5V311.5M645.5 311.5H662.5V314.5H676.5M645.5 311.5V332.5H654.5V351.5M654.5 351.5V365.5H654.5V376.5M654.5 376.5H672.5V373.5H679.5M650.5 418.5H665.5V415.5H680.5M650.5 418.5V431.5H651.5V438.5M648.5 467.5L650.5 501.5M650.5 501.5H659.5V505.5H676.5M650.5 501.5V518.5H650.5V531.5M650.5 531.5L652.5 530.5L658.5 529.5L659.5 529.5L665.5 530.5L664.5 527.5L671.5 527.5L674.5 527.5L676.5 527.5M650.5 531.5L650.5 535.5L650.5 539.5L649.5 541.5L651.5 546.5L653.5 547.5L649.5 548.5L651.5 555.5L650.5 554.5L649.5 557.5L651.5 561.5L650.5 564.5M650.5 564.5H664.5V560.5H681.5M650.5 564.5V579.5H646.5V592.5M646.5 592.5H668.5V601.5H685.5M646.5 592.5V606.5H648.5V630.5M648.5 630.5H663.5V626.5H674.5M648.5 630.5V646.5H649.5V656.5M649.5 656.5H671.5V649.5H682.5M649.5 656.5V666.5H647.5V683.5M647.5 683.5L653.5 682.5L654.5 681.5L657.5 681.5L662.5 683.5L665.5 681.5L668.5 678.5L671.5 678.5L674.5 677.5L678.5 677.5L680.5 679.5L682.5 676.5M647.5 683.5V702.5H650.5V714.5M650.5 714.5V722.5H651.5V733.5M651.5 733.5H659.5V739.5H674.5M651.5 733.5V745.5H647.5V763.5M647.5 763.5L653.5 766.5L653.5 767.5L659.5 766.5L660.5 767.5L664.5 771.5L665.5 770.5L671.5 770.5L671.5 772.5L675.5 772.5M647.5 763.5L650.5 767.5L647.5 768.5L650.5 775.5L647.5 779.5L650.5 779.5L652.5 785.5L650.5 787.5L649.5 788.5L651.5 792.5M651.5 792.5H669.5V791.5H682.5M651.5 792.5V819.5H649.5V832.5M649.5 832.5H662.5V824.5H674.5M683.5 -7.5L689.5 -4.5L688.5 -7.5L694.5 -5.5L697.5 -8.5L699.5 -5.5L700.5 -5.5L704.5 -5.5L706.5 -4.5L710.5 -6.5L714.5 -4.5L716.5 -6.5M683.5 -7.5V10.5H679.5V24.5M679.5 24.5H706.5V14.5H718.5M679.5 24.5V42.5H685.5V60.5M685.5 60.5L689.5 60.5L694.5 56.5L696.5 60.5L699.5 57.5L703.5 55.5L707.5 53.5L708.5 54.5L712.5 51.5L713.5 50.5M685.5 60.5V69.5H677.5V84.5M677.5 84.5H695.5V87.5H717.5M677.5 84.5V100.5H684.5V114.5M684.5 114.5L685.5 117.5L690.5 117.5L695.5 118.5L695.5 114.5L700.5 119.5L703.5 120.5L704.5 119.5L708.5 117.5L712.5 119.5M684.5 114.5L686.5 119.5L685.5 121.5L684.5 125.5L681.5 126.5L684.5 129.5L683.5 135.5L679.5 135.5L680.5 137.5L680.5 144.5L678.5 145.5M678.5 145.5H705.5V147.5H717.5M678.5 145.5V164.5H681.5V176.5M681.5 176.5H697.5V173.5H711.5M681.5 176.5V194.5H680.5V204.5M680.5 204.5H702.5V204.5H715.5M680.5 204.5V230.5H674.5V241.5M674.5 241.5L678.5 242.5L681.5 243.5L683.5 243.5L687.5 243.5L688.5 242.5L692.5 243.5L696.5 243.5L697.5 240.5L701.5 241.5L704.5 242.5L708.5 240.5L714.5 239.5L716.5 243.5L718.5 241.5M674.5 241.5V250.5H674.5V266.5M674.5 266.5H695.5V267.5H717.5M674.5 266.5V289.5H684.5V299.5M684.5 299.5V309.5H676.5V314.5M676.5 314.5H691.5V311.5H715.5M676.5 314.5V339.5H680.5V352.5M680.5 352.5H704.5V352.5H720.5M680.5 352.5V362.5H679.5V373.5M679.5 373.5L679.5 375.5L677.5 379.5L681.5 381.5L682.5 384.5L678.5 390.5L679.5 389.5L682.5 395.5L680.5 397.5L678.5 399.5L682.5 402.5L681.5 407.5L679.5 410.5L682.5 412.5L680.5 415.5M680.5 415.5V425.5H676.5V443.5M676.5 443.5H689.5V437.5H713.5M679.5 478.5H699.5V476.5H712.5M679.5 478.5V491.5H676.5V505.5M676.5 505.5H691.5V510.5H717.5M676.5 527.5H703.5V537.5H715.5M681.5 560.5L686.5 560.5L685.5 563.5L693.5 564.5L694.5 562.5L696.5 563.5L699.5 564.5L703.5 564.5L708.5 563.5L708.5 565.5L711.5 568.5L715.5 566.5M681.5 560.5V583.5H685.5V601.5M685.5 601.5L689.5 602.5L691.5 598.5L696.5 602.5L699.5 602.5L701.5 600.5L702.5 601.5L709.5 600.5L712.5 600.5L711.5 597.5L716.5 598.5M685.5 601.5V614.5H674.5V626.5M674.5 626.5H698.5V630.5H717.5M682.5 649.5L684.5 649.5L691.5 648.5L690.5 651.5L697.5 648.5L698.5 647.5L700.5 650.5L704.5 649.5L709.5 651.5L712.5 649.5L714.5 648.5M682.5 649.5V666.5H682.5V676.5M682.5 676.5V698.5H682.5V713.5M682.5 713.5H702.5V711.5H713.5M674.5 739.5H695.5V732.5H716.5M674.5 739.5L676.5 743.5L672.5 748.5L674.5 747.5L673.5 751.5L675.5 752.5L675.5 758.5L676.5 760.5L678.5 762.5L677.5 767.5L677.5 772.5L675.5 772.5M675.5 772.5L679.5 774.5L684.5 773.5L686.5 772.5L687.5 772.5L692.5 770.5L693.5 772.5L699.5 773.5L701.5 773.5L704.5 773.5L706.5 769.5L710.5 771.5L715.5 773.5L716.5 770.5M675.5 772.5V784.5H682.5V791.5M682.5 791.5L720.5 795.5M682.5 791.5V809.5H674.5V824.5M674.5 824.5H690.5V830.5H715.5M716.5 -6.5L720.5 -5.5L723.5 -7.5L728.5 -7.5L727.5 -7.5L734.5 -2.5L736.5 -5.5L739.5 -4.5M716.5 -6.5V4.5H718.5V14.5M718.5 14.5L713.5 50.5M713.5 50.5H722.5V54.5H735.5M713.5 50.5V62.5H717.5V87.5M717.5 87.5L723.5 86.5L722.5 89.5L728.5 87.5L729.5 84.5L731.5 84.5L735.5 85.5M717.5 87.5V105.5H712.5V119.5M712.5 119.5V129.5H717.5V147.5M717.5 147.5H724.5V148.5H735.5M717.5 147.5V156.5H711.5V173.5M711.5 173.5H729.5V179.5H737.5M711.5 173.5V187.5H715.5V204.5M715.5 204.5H731.5V209.5H745.5M715.5 204.5L717.5 210.5L718.5 210.5L714.5 212.5L716.5 216.5L718.5 222.5L719.5 225.5L718.5 227.5L718.5 229.5L718.5 233.5L720.5 235.5L719.5 237.5L718.5 241.5M718.5 241.5L745.5 250.5M718.5 241.5V252.5H717.5V267.5M717.5 267.5H727.5V269.5H740.5M717.5 267.5V278.5H718.5V292.5M718.5 292.5H732.5V300.5H743.5M718.5 292.5L716.5 293.5L717.5 301.5L717.5 301.5L717.5 305.5L718.5 306.5L715.5 311.5M715.5 311.5H725.5V313.5H739.5M715.5 311.5V332.5H720.5V352.5M720.5 352.5L718.5 358.5L716.5 357.5L715.5 360.5L716.5 367.5L713.5 365.5L712.5 372.5L710.5 373.5L710.5 376.5M710.5 376.5H723.5V371.5H744.5M710.5 376.5V392.5H714.5V413.5M714.5 413.5V424.5H713.5V437.5M713.5 437.5H726.5V437.5H743.5M713.5 437.5L712.5 476.5M712.5 476.5V500.5H717.5V510.5M717.5 510.5V522.5H715.5V537.5M715.5 537.5H725.5V529.5H745.5M716.5 598.5L722.5 599.5L720.5 597.5L725.5 599.5L729.5 599.5L731.5 597.5L734.5 597.5L739.5 596.5L741.5 597.5L744.5 594.5M716.5 598.5L717.5 630.5M717.5 630.5L714.5 648.5M714.5 648.5H724.5V658.5H744.5M714.5 648.5V658.5H719.5V674.5M719.5 674.5V699.5H713.5V711.5M713.5 711.5H732.5V715.5H742.5M713.5 711.5L714.5 712.5L715.5 717.5L716.5 722.5L716.5 724.5L718.5 724.5L718.5 730.5L716.5 732.5M716.5 732.5V759.5H716.5V770.5M716.5 770.5H735.5V769.5H742.5M716.5 770.5L718.5 772.5L719.5 778.5L720.5 781.5L720.5 785.5L717.5 785.5L718.5 791.5L719.5 793.5L720.5 795.5M720.5 795.5L715.5 830.5M715.5 830.5H731.5V824.5H737.5M739.5 -4.5L744.5 -5.5L745.5 -3.5L751.5 -4.5L752.5 -6.5L756.5 -6.5L757.5 -6.5L763.5 -4.5L767.5 -4.5L768.5 -7.5L770.5 -7.5L774.5 -8.5M739.5 -4.5V7.5H735.5V23.5M735.5 23.5L775.5 16.5M735.5 23.5V42.5H735.5V54.5M735.5 54.5H760.5V50.5H773.5M735.5 54.5L735.5 85.5M735.5 85.5L741.5 87.5L742.5 85.5L745.5 83.5L747.5 81.5L749.5 81.5L753.5 80.5L758.5 83.5L763.5 80.5L765.5 81.5L767.5 78.5M735.5 85.5L735.5 89.5L737.5 94.5L734.5 94.5L737.5 97.5L737.5 100.5L736.5 102.5L735.5 106.5L739.5 109.5L738.5 110.5L735.5 115.5L739.5 116.5L737.5 121.5M737.5 121.5L741.5 123.5L741.5 122.5L747.5 119.5L748.5 122.5L753.5 121.5L758.5 116.5L758.5 118.5L760.5 118.5L767.5 116.5L771.5 116.5L770.5 113.5L774.5 114.5M737.5 121.5V137.5H735.5V148.5M735.5 148.5H752.5V140.5H775.5M737.5 179.5H753.5V172.5H765.5M737.5 179.5V189.5H745.5V209.5M745.5 209.5V231.5H745.5V250.5M745.5 250.5L746.5 248.5L752.5 251.5L757.5 247.5L756.5 249.5L763.5 249.5L766.5 247.5L767.5 247.5L770.5 246.5M745.5 250.5V263.5H740.5V269.5M740.5 269.5L744.5 269.5L746.5 268.5L750.5 272.5L754.5 268.5L758.5 271.5L759.5 270.5L763.5 270.5L768.5 271.5L770.5 270.5L772.5 269.5L775.5 269.5M740.5 269.5V284.5H743.5V300.5M743.5 300.5L739.5 313.5M739.5 313.5L744.5 315.5L747.5 312.5L751.5 313.5L750.5 317.5L754.5 316.5L759.5 319.5L761.5 318.5L764.5 317.5L770.5 317.5L771.5 318.5M739.5 313.5V328.5H738.5V350.5M738.5 350.5L742.5 350.5L744.5 350.5L748.5 348.5L752.5 349.5L754.5 351.5L759.5 348.5L759.5 348.5L763.5 347.5L766.5 347.5L769.5 346.5M738.5 350.5V365.5H744.5V371.5M744.5 371.5H757.5V371.5H768.5M744.5 371.5L743.5 374.5L742.5 376.5L742.5 382.5L741.5 382.5L744.5 387.5L743.5 390.5L740.5 394.5L743.5 396.5L740.5 398.5L738.5 405.5L741.5 406.5L737.5 408.5L738.5 413.5L737.5 415.5L737.5 418.5M737.5 418.5H750.5V415.5H775.5M737.5 418.5L739.5 424.5L740.5 423.5L740.5 427.5L743.5 429.5L744.5 433.5L743.5 437.5M743.5 437.5H757.5V445.5H764.5M743.5 437.5L743.5 440.5L745.5 442.5L741.5 448.5L741.5 448.5L739.5 453.5L739.5 455.5L741.5 460.5L741.5 460.5L737.5 465.5L738.5 468.5M738.5 468.5H760.5V475.5H770.5M738.5 468.5V491.5H742.5V511.5M742.5 511.5H752.5V503.5H766.5M745.5 529.5V548.5H736.5V558.5M736.5 558.5H761.5V558.5H772.5M736.5 558.5V575.5H744.5V594.5M744.5 594.5L747.5 597.5L750.5 594.5L755.5 595.5L760.5 598.5L762.5 599.5L765.5 599.5L766.5 597.5M744.5 594.5L743.5 598.5L745.5 601.5L744.5 603.5L743.5 608.5L740.5 607.5L740.5 611.5L739.5 617.5L740.5 617.5L738.5 621.5M738.5 621.5H753.5V627.5H768.5M744.5 658.5L746.5 655.5L750.5 656.5L754.5 657.5L758.5 654.5L761.5 655.5L762.5 652.5L765.5 651.5L770.5 650.5L773.5 652.5L775.5 648.5M742.5 677.5H756.5V681.5H764.5M742.5 677.5V700.5H742.5V715.5M742.5 715.5H756.5V708.5H770.5M742.5 715.5L744.5 733.5M744.5 733.5L769.5 738.5M744.5 733.5V751.5H742.5V769.5M742.5 769.5H751.5V766.5H768.5M738.5 796.5H757.5V792.5H775.5M738.5 796.5V807.5H737.5V824.5M774.5 -8.5H790.5V0.5H799.5M774.5 -8.5V5.5H775.5V16.5M775.5 16.5H787.5V16.5H807.5M775.5 16.5V31.5H773.5V50.5M773.5 50.5V68.5H767.5V78.5M767.5 78.5L798.5 88.5M767.5 78.5V98.5H774.5V114.5M774.5 114.5L807.5 122.5M774.5 114.5L773.5 116.5L774.5 122.5L774.5 122.5L776.5 129.5L777.5 131.5L774.5 132.5L775.5 139.5L775.5 140.5M775.5 140.5H788.5V147.5H799.5M775.5 140.5V154.5H765.5V172.5M765.5 172.5H780.5V181.5H801.5M765.5 172.5L766.5 174.5L769.5 180.5L768.5 184.5L767.5 184.5L768.5 187.5L772.5 194.5L769.5 197.5L773.5 199.5L769.5 202.5L772.5 204.5M772.5 204.5H797.5V205.5H807.5M770.5 246.5L772.5 247.5L775.5 245.5L777.5 249.5L780.5 246.5L783.5 249.5L790.5 249.5L790.5 248.5L792.5 251.5L800.5 250.5L801.5 250.5L803.5 250.5M770.5 246.5V255.5H775.5V269.5M775.5 269.5L771.5 290.5M771.5 290.5L770.5 296.5L773.5 294.5L770.5 299.5L772.5 304.5L774.5 305.5L769.5 310.5L773.5 315.5L771.5 313.5L771.5 318.5M771.5 318.5H789.5V314.5H808.5M769.5 346.5H788.5V348.5H801.5M769.5 346.5V364.5H768.5V371.5M768.5 371.5V394.5H775.5V415.5M775.5 415.5L778.5 414.5L782.5 413.5L786.5 413.5L788.5 413.5L794.5 413.5L794.5 414.5L796.5 412.5L803.5 412.5L803.5 413.5L807.5 412.5M775.5 415.5V436.5H764.5V445.5M764.5 445.5H790.5V434.5H801.5M764.5 445.5V466.5H770.5V475.5M770.5 475.5L766.5 503.5M766.5 503.5L772.5 505.5L775.5 506.5L777.5 502.5L779.5 502.5L781.5 506.5L784.5 506.5L790.5 502.5L792.5 502.5L796.5 504.5L799.5 506.5L801.5 504.5M766.5 503.5V519.5H764.5V533.5M764.5 533.5H778.5V533.5H805.5M764.5 533.5V542.5H772.5V558.5M766.5 597.5L770.5 598.5L774.5 598.5L775.5 596.5L780.5 597.5L779.5 599.5L785.5 599.5L786.5 602.5L791.5 600.5L793.5 599.5L799.5 603.5L799.5 601.5L802.5 601.5M766.5 597.5L768.5 627.5M768.5 627.5V634.5H775.5V648.5M775.5 648.5L774.5 650.5L776.5 656.5L775.5 658.5L773.5 662.5L768.5 663.5L770.5 667.5L770.5 667.5L767.5 675.5L764.5 674.5L764.5 680.5L764.5 681.5M764.5 681.5L768.5 682.5L773.5 681.5L771.5 683.5L779.5 679.5L779.5 680.5L781.5 681.5L787.5 683.5L787.5 683.5L792.5 680.5L793.5 682.5L796.5 680.5L803.5 679.5L806.5 683.5L808.5 679.5L810.5 681.5M764.5 681.5V698.5H770.5V708.5M770.5 708.5L772.5 707.5L777.5 709.5L778.5 711.5L782.5 709.5L787.5 709.5L790.5 710.5L790.5 712.5L796.5 712.5L801.5 711.5L799.5 714.5L804.5 714.5M770.5 708.5L772.5 709.5L770.5 714.5L770.5 715.5L769.5 720.5L770.5 724.5L772.5 727.5L769.5 730.5L771.5 734.5L767.5 735.5L769.5 738.5M769.5 738.5H791.5V741.5H805.5M769.5 738.5L768.5 742.5L771.5 746.5L770.5 749.5L767.5 751.5L769.5 752.5L769.5 757.5L771.5 759.5L770.5 765.5L768.5 766.5M768.5 766.5H780.5V766.5H798.5M768.5 766.5V780.5H775.5V792.5M775.5 792.5H790.5V801.5H803.5M775.5 792.5V816.5H767.5V830.5M767.5 830.5L805.5 829.5M807.5 16.5L799.5 58.5M799.5 58.5V72.5H798.5V88.5M798.5 88.5V103.5H807.5V122.5M799.5 147.5L802.5 151.5L800.5 152.5L800.5 158.5L799.5 160.5L800.5 162.5L801.5 165.5L799.5 171.5L803.5 174.5L804.5 175.5L803.5 180.5L801.5 181.5M801.5 181.5V198.5H807.5V205.5M807.5 205.5V219.5H803.5V250.5M803.5 250.5L804.5 253.5L801.5 257.5L799.5 261.5L799.5 265.5L799.5 266.5M799.5 266.5L799.5 271.5L798.5 272.5L803.5 275.5L799.5 278.5L800.5 280.5L801.5 283.5L806.5 290.5L803.5 292.5L807.5 293.5L804.5 296.5L805.5 299.5M805.5 299.5V306.5H808.5V314.5M808.5 314.5V325.5H801.5V348.5M801.5 348.5L802.5 354.5L803.5 355.5L800.5 359.5L802.5 359.5L800.5 365.5L802.5 368.5L800.5 372.5L800.5 374.5L800.5 374.5L800.5 379.5M800.5 379.5L807.5 412.5M807.5 412.5L804.5 418.5L807.5 418.5L803.5 420.5L806.5 425.5L804.5 429.5L802.5 430.5L801.5 434.5M804.5 473.5L803.5 477.5L805.5 478.5L801.5 481.5L801.5 484.5L801.5 487.5L803.5 494.5L802.5 497.5L801.5 497.5L800.5 500.5L801.5 504.5M805.5 533.5V547.5H799.5V556.5M799.5 556.5V586.5H802.5V601.5M802.5 601.5L805.5 629.5M805.5 629.5V643.5H808.5V650.5M810.5 681.5V693.5H804.5V714.5M804.5 714.5L804.5 715.5L806.5 719.5L803.5 723.5L806.5 727.5L804.5 727.5L804.5 731.5L805.5 735.5L806.5 739.5L805.5 741.5M805.5 741.5L798.5 766.5M798.5 766.5V777.5H803.5V801.5M803.5 801.5V819.5H805.5V829.5" fill="none" stroke="#5f6567" stroke-width="1" shape-rendering="crispEdges"/><polygon points="6.0,705.0 8.2,703.6 10.4,702.0 13.3,701.1 16.3,700.3 19.5,700.1 22.9,697.7 26.0,699.1 28.7,700.6 28.5,703.7 28.2,707.4 31.6,706.3 35.1,705.8 38.0,705.8 40.8,705.1 43.8,705.8 46.8,705.0 46.8,708.5 46.4,712.2 49.1,713.4 50.8,715.6 50.9,718.3 52.1,720.8 51.7,723.5 52.7,726.0 56.3,726.0 59.8,725.2 62.4,725.5 65.1,725.8 67.8,725.9 70.7,726.8 71.0,729.8 72.9,731.9 74.3,734.2 75.2,736.3 72.8,739.2 70.0,741.4 67.0,743.6 68.9,745.7 69.8,748.5 72.4,750.0 73.6,752.9 76.7,754.1 79.4,756.1 83.0,757.5 84.9,755.6 86.6,753.2 88.7,751.6 91.3,750.5 93.7,749.2 95.3,746.8 97.8,745.5 99.9,743.4 102.5,743.5 104.9,742.8 107.5,743.0 110.0,743.0 112.5,742.3 115.0,742.9 117.4,741.6 120.0,741.6 122.5,741.4 125.0,741.4 127.5,741.6 130.0,740.8 132.5,741.0 135.1,741.1 137.4,739.7 140.2,740.5 142.7,738.8 145.5,737.6 148.1,736.0 148.4,733.5 148.4,730.9 149.0,728.4 149.5,726.0 149.8,723.0 150.0,720.0 150.3,717.0 151.0,714.1 154.1,713.4 157.1,712.4 160.1,711.5 162.3,709.7 165.1,709.9 167.4,708.3 169.5,707.6 171.3,705.8 173.1,704.1 174.0,701.6 175.6,700.0 176.1,697.5 176.9,695.0 176.6,692.5 176.9,690.0 176.8,687.3 176.3,684.6 177.0,681.5 179.9,681.2 182.7,680.4 185.4,679.6 187.3,677.2 189.0,674.7 190.7,672.3 191.9,669.7 192.9,666.8 197.1,665.5 200.0,664.6 202.7,663.3 206.0,663.3 208.2,660.8 210.1,658.1 212.4,656.0 212.7,652.1 216.2,650.8 219.9,651.0 221.8,655.1 223.8,653.1 226.4,652.4 229.1,651.8 231.5,650.7 233.9,649.6 237.3,647.9 240.8,647.2 243.9,646.3 246.9,647.1 249.9,646.5 252.9,646.8 255.6,648.9 258.4,650.7 261.9,651.2 265.4,651.1 268.9,652.1 272.5,652.0 275.3,652.0 278.2,652.2 281.3,653.2 283.6,650.8 286.6,649.4 290.1,648.6 293.2,647.9 296.2,648.8 298.1,651.1 300.6,652.2 303.2,652.9 306.1,652.7 306.3,650.0 306.6,647.2 305.8,644.5 306.8,641.7 306.2,639.0 306.4,636.2 306.1,633.5 306.7,630.7 306.3,627.5 308.7,626.1 311.0,624.7 312.8,623.1 315.4,623.3 317.5,625.0 320.1,625.5 320.7,628.1 320.3,630.8 320.7,633.5 321.4,636.1 321.7,638.7 322.9,641.0 324.2,643.1 325.4,645.4 326.7,647.6 328.8,649.3 330.4,651.3 331.7,653.5 332.8,655.7 333.9,658.1 335.8,661.2 339.2,660.1 342.7,659.6 345.2,658.7 347.8,658.0 349.8,656.3 352.5,655.3 355.5,655.4 358.3,655.1 361.1,654.2 363.6,653.1 366.2,652.3 368.9,652.2 371.4,651.2 374.0,650.7 376.7,650.6 379.5,650.6 382.0,649.9 384.6,649.2 387.3,649.7 389.8,648.4 392.5,648.2 395.1,648.0 397.8,648.1 400.4,648.3 403.0,647.3 405.7,648.0 408.4,648.1 411.0,647.5 413.7,648.1 416.4,648.0 419.0,647.5 421.7,647.0 424.5,646.9 427.1,647.7 429.7,648.5 432.4,648.4 434.9,649.4 437.5,650.1 440.2,650.4 442.7,651.5 445.4,651.8 447.8,652.6 450.2,653.7 452.6,654.5 455.1,655.2 457.6,655.8 459.8,657.2 462.6,657.5 465.1,658.9 467.3,660.6 469.8,661.9 471.9,664.0 474.8,664.7 477.0,666.4 479.0,668.2 481.3,669.4 483.1,671.3 485.8,672.1 487.8,673.6 489.9,675.2 491.9,676.9 493.9,678.8 496.3,680.2 498.1,682.3 500.1,684.2 502.2,685.9 504.1,687.7 506.1,689.9 506.4,692.8 507.4,695.5 508.3,698.1 510.0,700.4 511.0,702.9 510.9,705.7 511.9,708.2 513.0,710.2 515.5,711.4 518.0,711.4 520.5,711.5 523.0,711.9 525.5,711.9 528.2,712.6 530.9,713.3 533.2,714.7 535.6,716.1 538.0,716.6 540.6,715.3 543.1,714.0 545.9,713.2 548.7,712.5 551.2,710.9 552.3,708.5 554.5,707.1 556.6,705.7 557.8,703.3 560.2,702.4 562.4,700.3 565.2,699.3 568.1,698.3 570.0,696.3 570.9,693.6 573.5,692.3 575.3,690.3 577.1,688.3 578.7,686.3 580.4,684.4 582.4,682.8 584.3,681.0 586.5,679.7 588.3,677.9 590.6,675.8 593.6,678.1 596.1,677.3 598.6,676.6 600.8,674.3 603.2,673.2 606.1,673.8 609.2,673.6 611.4,675.5 613.7,677.4 616.6,677.4 619.2,678.4 622.0,679.6 622.5,682.6 626.3,682.4 626.1,686.1 628.4,687.4 630.3,689.0 631.7,691.1 635.4,691.4 634.4,695.2 637.6,696.1 638.8,698.3 640.0,700.6 640.3,703.5 643.8,704.1 644.5,706.8 644.7,709.9 648.5,710.2 648.8,713.2 651.8,714.2 652.2,717.1 654.1,718.9 655.3,721.2 658.4,722.1 659.4,724.6 658.9,728.1 662.4,728.5 664.2,730.8 664.5,734.7 668.4,734.8 669.7,737.7 672.1,739.4 675.4,740.5 675.1,744.0 677.0,745.7 677.2,748.7 678.6,750.9 682.7,751.0 682.8,754.3 685.5,754.8 688.1,755.4 688.9,759.2 692.6,757.9 694.1,760.4 696.8,760.9 698.3,763.2 700.9,764.5 700.6,767.9 703.3,769.1 705.6,770.7 705.4,774.1 709.0,775.0 708.0,778.4 710.7,780.3 709.8,783.7 712.7,785.5 712.5,788.6 713.4,791.0 714.0,793.5 712.7,796.0 713.8,798.5 715.0,801.0 713.9,803.5 714.0,806.0 711.5,806.0 709.0,806.0 706.5,806.0 704.0,806.0 701.5,806.0 699.0,806.0 696.5,806.0 694.0,806.0 691.5,806.0 689.0,806.0 686.5,806.0 684.0,806.0 681.5,806.0 679.0,806.0 676.5,806.0 674.0,806.0 671.5,806.0 669.0,806.0 666.5,806.0 664.0,806.0 661.5,806.0 659.0,806.0 656.5,806.0 654.0,806.0 651.5,806.0 649.0,806.0 646.5,806.0 644.0,806.0 641.4,806.0 638.9,806.0 636.4,806.0 633.9,806.0 631.4,806.0 628.9,806.0 626.4,806.0 623.9,806.0 621.4,806.0 618.9,806.0 616.4,806.0 613.9,806.0 611.4,806.0 608.9,806.0 606.4,806.0 603.9,806.0 601.4,806.0 598.9,806.0 596.4,806.0 593.9,806.0 591.4,806.0 588.9,806.0 586.4,806.0 583.9,806.0 581.4,806.0 578.9,806.0 576.4,806.0 573.9,806.0 571.4,806.0 568.9,806.0 566.4,806.0 563.9,806.0 561.4,806.0 558.9,806.0 556.4,806.0 553.9,806.0 551.4,806.0 548.9,806.0 546.4,806.0 543.9,806.0 541.4,806.0 538.9,806.0 536.4,806.0 533.9,806.0 531.4,806.0 528.9,806.0 526.4,806.0 523.9,806.0 521.4,806.0 518.9,806.0 516.4,806.0 513.9,806.0 511.4,806.0 508.9,806.0 506.4,806.0 503.9,806.0 501.3,806.0 498.8,806.0 496.3,806.0 493.8,806.0 491.3,806.0 488.8,806.0 486.3,806.0 483.8,806.0 481.3,806.0 478.8,806.0 476.3,806.0 473.8,806.0 471.3,806.0 468.8,806.0 466.3,806.0 463.8,806.0 461.3,806.0 458.8,806.0 456.3,806.0 453.8,806.0 451.3,806.0 448.8,806.0 446.3,806.0 443.8,806.0 441.3,806.0 438.8,806.0 436.3,806.0 433.8,806.0 431.3,806.0 428.8,806.0 426.3,806.0 423.8,806.0 421.3,806.0 418.8,806.0 416.3,806.0 413.8,806.0 411.3,806.0 408.8,806.0 406.3,806.0 403.8,806.0 401.3,806.0 398.8,806.0 396.3,806.0 393.8,806.0 391.3,806.0 388.8,806.0 386.3,806.0 383.8,806.0 381.3,806.0 378.8,806.0 376.3,806.0 373.8,806.0 371.3,806.0 368.8,806.0 366.3,806.0 363.8,806.0 361.3,806.0 358.7,806.0 356.2,806.0 353.7,806.0 351.2,806.0 348.7,806.0 346.2,806.0 343.7,806.0 341.2,806.0 338.7,806.0 336.2,806.0 333.7,806.0 331.2,806.0 328.7,806.0 326.2,806.0 323.7,806.0 321.2,806.0 318.7,806.0 316.2,806.0 313.7,806.0 311.2,806.0 308.7,806.0 306.2,806.0 303.7,806.0 301.2,806.0 298.7,806.0 296.2,806.0 293.7,806.0 291.2,806.0 288.7,806.0 286.2,806.0 283.7,806.0 281.2,806.0 278.7,806.0 276.2,806.0 273.7,806.0 271.2,806.0 268.7,806.0 266.2,806.0 263.7,806.0 261.2,806.0 258.7,806.0 256.2,806.0 253.7,806.0 251.2,806.0 248.7,806.0 246.2,806.0 243.7,806.0 241.2,806.0 238.7,806.0 236.2,806.0 233.7,806.0 231.2,806.0 228.7,806.0 226.2,806.0 223.7,806.0 221.2,806.0 218.7,806.0 216.1,806.0 213.6,806.0 211.1,806.0 208.6,806.0 206.1,806.0 203.6,806.0 201.1,806.0 198.6,806.0 196.1,806.0 193.6,806.0 191.1,806.0 188.6,806.0 186.1,806.0 183.6,806.0 181.1,806.0 178.6,806.0 176.1,806.0 173.6,806.0 171.1,806.0 168.6,806.0 166.1,806.0 163.6,806.0 161.1,806.0 158.6,806.0 156.1,806.0 153.6,806.0 151.1,806.0 148.6,806.0 146.1,806.0 143.6,806.0 141.1,806.0 138.6,806.0 136.1,806.0 133.6,806.0 131.1,806.0 128.6,806.0 126.1,806.0 123.6,806.0 121.1,806.0 118.6,806.0 116.1,806.0 113.6,806.0 111.1,806.0 108.6,806.0 106.1,806.0 103.6,806.0 101.1,806.0 98.6,806.0 96.1,806.0 93.6,806.0 91.1,806.0 88.6,806.0 86.1,806.0 83.6,806.0 81.1,806.0 78.6,806.0 76.0,806.0 73.5,806.0 71.0,806.0 68.5,806.0 66.0,806.0 63.5,806.0 61.0,806.0 58.5,806.0 56.0,806.0 53.5,806.0 51.0,806.0 48.5,806.0 46.0,806.0 43.5,806.0 41.0,806.0 38.5,806.0 36.0,806.0 33.5,806.0 31.0,806.0 28.5,806.0 26.0,806.0 23.5,806.0 21.0,806.0 18.5,806.0 16.0,806.0 13.5,806.0 11.0,806.0 8.5,806.0 6.0,806.0" fill="#004568" stroke="#000" stroke-width="1"/><polygon points="362.0,654.0 364.0,640.0 368.0,634.0 371.0,640.0 375.0,633.0 380.0,636.0 378.0,644.0 386.0,641.0 394.0,644.0 398.0,647.0 382.0,650.0" fill="#004568" stroke="#000" stroke-width="0.8"/><polygon points="418.0,647.0 421.0,639.0 426.0,643.0 432.0,641.0 440.0,644.0 446.0,640.0 452.0,641.0 456.0,646.0 448.0,649.0 430.0,648.0" fill="#004568" stroke="#000" stroke-width="0.8"/><polygon points="475.0,667.0 473.0,656.0 478.0,653.0 482.0,658.0 488.0,654.0 494.0,656.0 499.0,652.0 500.0,658.0 495.0,662.0 500.0,670.0 506.0,680.0 509.0,684.0 503.0,686.0 496.0,676.0 488.0,670.0" fill="#004568" stroke="#000" stroke-width="0.8"/><polygon points="508.0,699.0 511.0,690.0 514.0,700.0 516.0,712.0 513.0,712.0" fill="#004568" stroke="#000" stroke-width="0.8"/><polygon points="536.0,717.0 540.0,712.0 548.0,708.0 556.0,704.0 562.0,700.0 556.0,706.0 548.0,712.0" fill="#004568" stroke="#000" stroke-width="0.8"/><polygon points="149.0,712.5 159.0,709.0 169.0,706.0 174.5,699.0 175.5,690.0 175.5,684.0 177.0,684.0 180.6,689.0 186.8,690.0 189.2,695.0 194.2,695.0 198.0,690.0 202.0,685.0 204.0,683.0 203.6,688.0 199.0,699.0 188.8,706.5 183.0,717.0 186.0,724.0 188.8,728.7 192.0,735.0 198.0,738.0 204.0,737.0 210.0,740.0 218.0,742.0 226.0,746.0 234.0,752.0 238.0,757.5 186.0,757.5 185.0,748.0 187.0,740.0 184.0,734.0 176.0,726.0 168.0,718.0 160.0,716.0 151.0,716.0" fill="#5c504b"/><polyline points="175.5,684.0 177.0,684.0 180.6,689.0 186.8,690.0 189.2,695.0 194.2,695.0 198.0,690.0 202.0,685.0 204.0,683.0 203.6,688.0" fill="none" stroke="#000" stroke-width="1"/><polygon points="15.8,717.3 22.8,715.6 29.9,719.0 38.7,721.7 33.4,728.0 26.4,728.8 19.3,723.5" fill="#5c504b" stroke="#000" stroke-width="1"/><polygon points="204.0,676.0 205.9,675.5 207.7,675.0 209.4,674.3 210.6,674.2 212.1,672.7 214.1,673.1 214.6,668.1 217.1,669.8 217.3,672.8 219.4,672.3 220.2,674.2 223.6,671.5 224.1,673.9 226.1,674.0 226.4,676.2 227.5,677.3 231.5,678.0 230.5,679.6 230.1,681.2 226.8,682.8 227.6,684.4 230.7,686.6 227.0,687.1 229.6,689.9 226.6,690.6 228.4,693.1 228.3,695.2 223.5,694.7 225.8,697.9 224.9,699.5 220.6,699.3 220.5,700.7 221.6,704.1 217.8,703.2 218.2,706.1 216.5,707.0 217.1,710.1 213.1,708.6 212.8,710.8 210.5,711.0 209.3,712.8 210.9,716.0 209.6,717.2 209.4,719.2 208.5,720.7 208.0,722.0 206.1,723.1 203.9,724.1 206.1,726.4 202.4,727.5 203.9,729.5 203.8,731.2 200.9,732.4 202.4,734.3 202.2,736.9 200.0,736.4 197.8,735.6 194.3,738.5 196.7,734.0 191.7,735.8 193.4,732.0 192.6,730.2 187.9,731.4 190.2,727.7 187.4,727.4 187.3,725.3 183.7,725.0 183.1,723.2 183.0,721.2 185.9,717.8 181.6,716.2 185.0,716.1 186.6,715.1 187.5,713.6 185.6,710.6 186.5,709.1 188.1,708.1 189.6,707.7 189.0,703.8 192.5,705.4 194.1,704.5 195.7,703.7 194.7,699.2 198.9,701.9 197.0,698.3 198.8,697.1 200.7,695.9 202.8,694.9 200.5,692.2 204.0,691.6 202.7,689.3 202.1,687.3 203.6,686.0" fill="url(#marsh)"/><polygon points="149.0,716.0 150.8,717.5 152.7,717.7 154.5,715.9 156.3,714.8 158.2,713.4 159.8,716.8 161.6,716.2 162.9,718.1 165.0,716.6 166.1,719.0 168.8,717.2 168.0,720.3 169.4,721.1 171.7,721.1 172.4,722.7 173.0,724.4 176.0,723.7 175.8,726.2 176.0,728.3 179.1,727.4 178.3,730.5 179.9,731.3 180.4,733.0 183.5,732.3 185.9,733.1 183.4,736.2 184.1,737.7 186.5,738.4 189.0,740.5 188.1,742.0 185.5,743.0 186.9,745.1 183.1,745.8 184.5,748.0 186.7,749.7 184.6,751.9 186.3,753.6 183.6,755.8 186.0,755.4 184.2,757.4 182.5,756.7 180.8,756.5 179.0,755.9 177.2,755.0 175.5,760.0 173.8,758.2 172.5,757.4 170.7,756.1 171.8,754.2 168.9,753.2 172.6,750.8 170.5,749.6 168.2,748.9 170.0,746.0 167.5,745.2 166.2,743.9 166.7,741.6 165.4,741.8 163.5,740.8 162.6,736.9 159.3,737.2 160.3,741.1 156.4,739.2 157.7,743.4 155.2,743.3 151.9,742.3 151.4,744.9 152.7,746.9 152.1,748.7 151.7,750.4 152.8,752.4 148.0,753.5 152.6,756.1 150.0,757.9 148.3,757.6 146.5,755.9 149.6,754.4 145.9,752.6 149.8,751.2 149.4,749.6 148.3,747.9 149.5,746.3 147.3,744.6 149.4,743.1 149.3,741.5 147.9,739.8 147.7,738.2 149.0,736.7 148.0,735.0" fill="url(#marsh)"/><polygon points="210.0,740.0 211.8,739.5 213.6,739.0 214.6,742.0 216.9,739.4 217.9,742.2 219.9,742.2 222.2,741.5 222.8,744.4 225.5,743.0 226.2,745.7 228.7,745.2 229.9,746.3 230.2,748.7 230.3,751.4 233.8,749.4 235.2,751.2 234.5,753.8 234.1,756.1 236.7,756.4 238.0,757.0 239.6,760.0 241.2,755.1 242.8,759.4 244.4,756.4 244.4,758.5 243.5,757.2 243.4,755.3 244.8,752.6 241.2,753.0 242.1,750.5 241.5,749.0 239.5,748.5 239.0,746.7 236.1,747.3 235.0,746.2 234.3,744.5 234.9,741.6 232.9,741.4 231.6,740.9 230.5,738.8 228.6,738.6 226.5,738.4 226.0,735.3 224.1,734.9 222.0,736.3 220.3,734.6 218.7,734.9 217.0,733.0 215.3,733.8 213.7,736.1 212.0,735.0" fill="url(#marsh)"/><polygon points="84.0,744.0 85.3,742.3 87.6,745.8 88.4,741.2 90.6,743.8 91.6,740.4 93.4,740.9 95.7,744.5 96.5,740.1 98.5,742.0 100.2,740.9 101.0,742.4 101.7,744.0 103.9,744.7 101.8,747.8 106.0,747.5 106.1,750.8 106.0,752.9 104.0,753.5 102.4,754.5 99.3,754.4 100.0,757.6 98.2,759.0 96.5,758.3 94.8,754.4 93.0,759.3 91.2,756.4 89.5,757.6 87.8,756.2 86.0,757.0" fill="url(#marsh)"/><polygon points="114.0,742.0 115.6,741.6 117.1,740.9 118.6,739.5 120.6,743.1 121.7,738.5 123.6,740.8 125.5,742.7 126.5,738.2 128.4,740.5 130.0,740.6 131.7,737.7 133.2,739.6 134.7,741.4 136.4,740.2 137.9,741.7 139.7,738.8 141.3,739.3 142.9,738.8 144.4,740.9 143.8,741.3 145.7,742.7 145.0,744.4 147.2,745.7 145.5,747.6 149.1,748.7 148.3,750.5 146.5,752.3 146.4,753.9 148.2,755.3 148.0,759.1 146.4,758.2 144.8,758.5 143.1,758.1 141.5,755.4 139.9,758.6 138.3,755.0 136.7,755.0 135.0,759.3 133.4,757.6 131.8,757.0 130.2,759.5 128.6,757.4 127.0,754.9 125.3,759.0 123.7,756.5 122.1,759.0 120.5,756.6 118.9,754.9 117.2,758.5 115.6,759.6 114.0,757.0" fill="url(#marsh)"/><polygon points="797.0,572.0 798.3,570.7 798.7,568.8 800.3,567.7 799.7,565.2 803.4,565.4 803.5,564.6 805.2,562.0 807.8,563.6 805.9,565.3 806.9,566.9 807.3,568.6 803.6,570.2 803.4,571.9 808.4,573.5 804.1,575.2 805.5,576.8 806.6,578.5 807.1,580.1 805.1,581.8 806.2,583.4 805.0,585.1 805.2,586.7 807.9,588.4 806.0,588.6 800.5,590.0 800.6,591.6 802.4,593.3 805.4,594.9 805.6,596.6 804.9,598.2 800.7,599.9 804.0,601.5 803.7,603.2 800.9,604.8 804.0,606.5 802.7,608.1 803.3,609.7 805.3,611.4 802.6,613.0 801.2,614.7 804.8,616.3 804.4,618.0 803.5,619.6 805.4,621.3 803.0,622.9 801.3,624.5 802.2,626.2 802.8,627.8 801.2,629.5 804.8,631.1 802.7,632.8 803.7,634.4 802.5,636.1 805.0,637.7 801.6,639.4 803.0,638.9 807.7,641.0 804.4,642.7 803.7,644.5 806.3,646.2 806.4,647.9 807.3,649.6 807.2,651.4 805.4,653.1 807.7,654.8 808.0,656.5 806.2,658.3 806.0,661.7 804.0,659.2 802.0,658.3 801.0,659.0 798.7,658.9 797.0,658.2 796.2,656.6 793.4,657.0 794.8,653.2 792.0,653.3 790.7,652.0 788.6,648.3 791.1,648.8 792.8,648.3 793.4,646.6 796.8,646.6 796.5,644.3 795.1,641.6 797.1,639.9 797.3,637.2 794.6,637.4 793.6,635.9 790.4,633.4 793.2,633.7 794.4,632.4 795.4,630.9 796.6,629.9 797.8,628.5 798.0,626.8 798.1,625.2 796.9,623.2 798.8,622.3 798.9,619.0 795.8,620.4 793.2,621.0 790.8,616.6 794.2,616.6 793.1,613.7 794.2,612.3 795.6,613.4 795.6,610.9 796.3,607.7 793.2,608.3 791.8,606.8 793.0,605.5 794.5,604.5 795.6,603.1 798.0,601.3 797.7,599.4 795.9,598.4 793.7,597.7 793.5,596.6 795.6,596.7 794.4,592.6 795.9,591.9 798.6,591.8 798.1,589.9 797.2,588.2 796.2,586.6 796.6,585.5 795.4,583.2 797.5,581.9 798.8,580.4 796.8,578.3 796.3,575.4 794.3,575.0 792.0,575.0" fill="url(#marsh2)"/><polygon points="299.0,60.0 300.8,57.8 303.0,56.1 305.0,56.3 306.9,57.1 308.6,58.8 310.7,60.0 312.4,61.6 313.7,64.3 316.2,65.8 317.6,67.8 318.2,70.3 320.0,72.0 323.0,73.8 322.3,76.0 321.0,77.9 320.4,79.9 320.5,82.1 320.9,84.1 322.0,86.0 322.4,88.6 323.2,90.9 323.2,93.6 322.3,95.9 321.1,94.0 319.8,92.1 318.5,90.3 318.4,87.8 317.0,86.0 316.2,83.9 315.4,81.6 314.2,79.4 313.5,77.0 311.9,75.0 311.3,72.5 309.9,70.4 309.4,67.7 308.0,65.7 305.9,64.3 305.2,62.4 302.6,63.3 300.0,64.0" fill="#26446a" stroke="#1d375a" stroke-width="0.9"/><polygon points="369.0,258.0 371.6,258.2 374.0,259.0 376.1,260.2 377.9,261.8 379.9,263.1 382.2,263.5 384.3,264.5 385.8,266.3 388.2,267.1 390.2,268.4 391.7,270.5 394.5,271.5 396.7,272.8 395.0,276.0 393.1,274.9 390.8,274.4 389.1,272.9 387.5,271.6 385.5,271.0 383.9,269.7 382.1,268.8 380.0,268.5 378.7,266.7 376.8,265.9 374.9,265.2 372.7,264.5 371.2,262.6 369.0,262.0" fill="#26446a" stroke="#1d375a" stroke-width="0.9"/><polygon points="605.6,310.0 606.3,308.0 607.5,306.3 608.3,304.4 609.5,302.7 611.1,301.0 612.3,298.9 613.7,297.7 614.3,295.1 613.1,292.7 612.7,290.1 614.8,288.0 615.5,285.3 617.0,288.4 619.2,287.8 621.5,285.3 622.8,287.6 622.9,290.3 624.5,291.8 626.6,292.7 625.1,295.0 624.0,297.4 622.5,299.2 620.2,299.8 618.5,301.8 616.9,303.9 616.4,306.1 614.7,307.8 614.3,310.0 612.5,311.0 610.8,312.0 609.5,313.4 605.6,312.4" fill="#26446a" stroke="#1d375a" stroke-width="0.9"/><polygon points="449.5,363.4 451.8,366.2 450.0,367.3 448.6,368.7 446.3,371.6 444.7,373.2 443.7,374.7 444.4,377.6 442.1,376.8 439.8,377.7 438.2,375.8 440.4,374.2 441.2,371.7 442.3,369.0 444.3,368.0 446.6,367.5 447.4,363.9" fill="#26446a" stroke="#1d375a" stroke-width="0.9"/><polygon points="424.4,413.6 426.6,416.4 428.6,417.8 427.9,420.0 426.9,422.0 427.9,424.7 429.3,426.8 432.3,429.3 431.3,431.4 431.8,433.8 429.4,434.7 428.2,432.3 427.2,430.3 427.3,428.1 426.5,426.0 426.2,424.0 425.1,422.1 425.0,420.0" fill="#26446a" stroke="#1d375a" stroke-width="0.9"/><polygon points="541.0,603.0 542.9,601.7 545.0,601.0 546.6,603.4 547.9,606.1 550.4,607.6 552.7,608.6 555.2,607.0 558.2,606.4 560.4,604.7 563.3,604.0 562.4,606.0 563.0,608.0 561.0,608.6 559.5,610.0 557.7,610.9 556.2,612.3 553.9,613.2 551.8,614.3 550.0,616.0 548.2,617.1 546.5,618.5 544.6,620.3 543.7,617.8 542.1,616.0 542.8,613.9 543.5,611.7 545.0,610.0" fill="#26446a" stroke="#1d375a" stroke-width="0.9"/><polygon points="525.0,503.0 527.3,502.9 527.7,505.3 528.6,507.5 529.1,509.8 529.9,512.1 531.5,513.8 532.5,515.7 532.6,518.1 533.8,519.9 534.3,521.9 533.9,524.1 535.0,526.0 534.8,528.1 535.5,530.0 535.6,532.0 536.3,534.3 534.4,535.4 533.4,536.9 532.3,534.7 531.8,532.4 530.9,530.2 529.5,528.1 529.8,525.9 529.1,524.0 528.3,522.1 527.5,520.1 527.9,517.7 527.0,515.5 526.8,513.2 526.0,511.0" fill="#26446a" stroke="#1d375a" stroke-width="0.9"/><polygon points="121.0,657.0 122.4,655.1 124.4,653.7 126.0,651.8 128.3,652.1 130.7,652.2 133.3,651.6 135.0,652.9 136.1,655.0 138.3,656.1 137.6,658.4 136.1,660.5 136.0,663.0 134.0,664.4 132.7,666.4 131.0,667.8 128.6,668.1 126.4,667.2 124.4,666.8 122.5,664.5 121.0,662.0" fill="#26446a" stroke="#1d375a" stroke-width="0.9"/><polygon points="43.0,681.0 44.9,680.2 47.0,680.0 48.6,681.9 49.9,684.0 49.8,686.0 49.9,688.5 47.9,688.1 46.3,686.7 44.3,685.7 43.0,684.0" fill="#26446a" stroke="#1d375a" stroke-width="0.9"/><polygon points="58.0,686.0 61.3,683.9 62.0,686.0 63.1,687.9 63.9,690.1 64.9,692.1 66.5,693.8 67.4,695.5 68.4,697.6 70.5,698.4 72.1,699.7 73.8,701.2 76.0,701.3 77.9,702.4 80.5,703.0 82.8,704.0 83.4,706.0 83.0,707.8 80.7,707.2 78.3,707.3 76.1,706.7 73.7,705.8 71.1,705.5 69.2,703.7 67.1,702.6 64.9,701.5 62.5,700.3 62.4,697.8 61.0,696.0 60.0,694.0" fill="#26446a" stroke="#1d375a" stroke-width="0.9"/><polygon points="144.0,705.0 144.7,702.9 146.0,701.0 146.9,698.9 148.1,697.1 150.1,695.6 152.4,693.6 153.9,695.1 154.6,696.9 154.6,699.1 154.0,701.1 152.5,702.7 151.5,705.5 149.6,708.1 150.7,710.0 151.2,712.1 152.2,714.4 149.4,714.8 147.4,715.7 145.5,714.0 144.0,712.0" fill="#26446a" stroke="#1d375a" stroke-width="0.9"/><polygon points="784.0,745.0 785.1,743.1 786.7,741.7 788.1,739.9 789.9,741.1 791.9,742.1 794.1,743.7 795.8,745.6 796.6,747.9 796.8,750.1 796.3,752.1 794.9,753.9 795.0,756.0 792.4,756.1 790.0,757.0 788.8,755.2 787.0,753.9 786.0,752.0" fill="#26446a" stroke="#1d375a" stroke-width="0.9"/><polygon points="46.0,680.0 48.0,679.0" fill="#26446a" stroke="#1d375a" stroke-width="0.9"/><polygon points="803.5,586.0 806.0,586.0 806.0,645.0 803.5,645.0" fill="#004568"/><polyline points="795.0,648.0 794.6,650.2 794.3,652.5 794.0,654.6 791.6,655.9 792.8,658.6 790.9,660.1 789.2,661.7 790.3,664.3 788.5,665.8 787.5,667.8 788.7,670.1 787.7,672.2 786.7,674.3 787.1,676.5 786.2,678.6 787.3,680.9 786.9,682.9 787.7,685.0 787.2,687.4 786.6,689.8 787.9,691.9 787.9,694.2 789.2,696.2 788.8,698.7 790.9,700.2 791.0,702.2 790.7,704.4 791.2,706.4 792.5,708.1 793.8,709.8 794.0,711.9 794.7,714.1 794.3,716.1 792.9,718.0 794.2,720.2 792.4,722.1 792.2,724.1 794.0,726.4 793.0,728.3 792.6,730.4 793.5,732.8 791.9,734.4 790.2,736.0 791.3,738.5 789.6,740.1 790.0,742.4 788.3,744.0 787.8,746.0" fill="none" stroke="#004568" stroke-width="3"/><polyline points="226.8,663.0 235.6,661.5" fill="none" stroke="#000" stroke-width="1.3"/><polyline points="240.8,662.5 251.4,661.0" fill="none" stroke="#000" stroke-width="1.3"/><polyline points="256.7,661.0 266.0,663.0 275.0,664.0 286.5,665.5" fill="none" stroke="#000" stroke-width="1.3"/><polyline points="249.4,678.4 253.8,688.8 253.8,699.0 249.4,706.5 243.5,714.0 236.0,722.8 227.2,730.0" fill="none" stroke="#000" stroke-width="1.3"/><g fill="none" stroke="#86740a" stroke-width="1" shape-rendering="crispEdges"><polyline points="240.6,6.6 237.0,10.5 233.7,14.7 230.5,18.6 228.9,22.4 228.3,26.4 228.1,30.7 227.8,35.0 227.4,39.2 226.9,43.4 226.1,48.3 224.3,53.0 223.1,57.8 221.7,62.1 219.9,66.2 218.0,70.8 215.5,75.2 213.9,80.0 211.6,83.8 209.6,87.8 208.0,92.0"/><polyline points="641.6,450.0 645.6,447.6 650.2,445.6 654.0,447.6 657.9,449.6 662.1,450.8 666.1,452.5 670.1,454.3 673.9,456.3 678.1,457.4 681.9,459.5 686.0,460.6 690.1,461.3 694.0,462.9 698.0,463.9 702.0,464.7 705.9,466.1 710.1,466.1 714.1,466.8 718.0,468.2 722.0,468.1 726.0,468.3 730.0,468.8 734.0,469.6 737.9,470.9 742.1,471.0 746.1,471.7 750.0,472.9 754.0,473.7 757.9,474.9 761.9,475.6 766.0,476.3 770.1,477.4 773.9,479.1 777.8,480.5 782.2,481.2 785.9,483.5 789.9,485.2 793.9,486.6 798.1,487.7 801.9,489.8 806.0,491.0"/><polyline points="5.7,257.0 10.1,256.4 14.6,256.4 19.0,256.3 23.5,256.7 27.9,256.1 32.4,256.2 36.7,255.4 41.1,254.8 45.4,254.2 49.6,252.9 53.9,252.4 58.1,251.3 62.3,249.9 66.7,248.1 71.5,247.4 75.8,245.4 80.3,243.9 85.1,243.2 89.2,241.9 93.2,240.5 97.3,239.1 101.1,237.0 105.1,235.5 109.1,234.1 113.5,233.4 116.9,231.2 120.7,229.9 124.5,228.3 128.3,227.0 132.1,225.6 136.0,224.5 140.2,223.9 144.5,223.6 148.8,223.8 153.1,222.7 157.2,224.1 161.5,224.8 166.2,224.1 170.9,223.6 175.7,223.2 179.4,221.5 183.1,219.5 186.9,218.0 190.6,216.3 194.5,214.8 198.6,213.7 201.5,210.4 204.5,207.3 208.0,204.8 211.5,202.2 214.5,199.1 217.9,196.5 220.8,193.2 224.3,191.0 228.1,189.4 231.3,186.7 234.9,184.8 239.0,183.5 242.9,181.9 246.8,180.4 250.8,178.9 255.2,178.4 258.8,176.0 262.6,174.2 266.1,171.6 270.0,169.9 273.6,167.7 277.2,165.4 280.8,163.2 285.2,162.3 289.5,161.2 294.0,160.4 298.4,159.9 302.7,158.5 307.3,158.2 311.6,157.0 315.6,156.2 319.7,155.5 323.6,154.4 327.5,153.0 331.5,152.2 335.5,151.0 339.5,150.1 343.7,150.1 347.6,148.8 351.7,148.3 355.9,147.1 360.0,145.7 364.4,145.3 368.6,144.3 372.8,142.9 376.9,141.5 381.2,140.8 385.4,139.7 390.1,138.7 394.7,137.3 399.4,136.8 404.1,136.0 408.3,134.3 412.8,134.0 417.2,132.9 421.5,131.9 426.0,131.5 430.3,130.1 434.7,129.6 439.1,128.8 443.5,129.8 447.9,129.0 452.3,128.8 456.7,129.7 461.1,129.5 465.5,129.5 469.8,130.4 474.3,131.0 478.8,131.6 483.1,132.7 487.4,134.2 491.8,135.1 496.4,135.2 500.7,136.3 505.1,137.2 509.4,138.5 513.9,138.5 518.2,140.2 522.7,140.5 527.0,141.6 530.7,143.8 534.2,146.3 537.3,149.4 541.0,151.6 544.2,154.5 547.9,157.0 552.0,157.7 556.3,157.9 560.3,159.3 564.8,158.8 569.2,157.5 573.5,156.1 578.0,155.4 582.4,155.8 586.7,155.3 591.0,154.2 595.4,153.8 599.8,153.3 604.2,152.2 608.5,151.0 613.0,150.9 617.4,150.1 621.8,149.4 626.2,148.6 630.6,148.7 634.7,149.5 638.9,149.5 642.8,150.0 647.0,148.4 651.1,146.4 654.7,143.7 658.7,141.6 662.7,139.5 666.6,137.2 670.4,134.7 674.4,132.6 678.2,130.3 682.1,128.1 685.9,125.8 690.0,124.0"/><polyline points="161.5,224.6 163.0,221.9 167.5,221.9 171.8,222.1 175.8,224.0 174.0,231.5 169.5,231.3 165.3,231.4 161.5,228.0"/><polyline points="182.6,5.9 184.9,9.4 187.2,12.9 189.3,16.5 191.5,20.0 193.8,24.8 196.4,29.4 198.1,34.4 199.5,38.9 200.6,43.5 200.9,47.9 200.6,52.3 201.1,56.7 201.1,61.2 200.9,65.6 200.8,70.0 200.2,74.0 200.3,78.1 199.7,82.1 198.9,86.0 197.9,90.0 196.4,94.9 195.2,99.8 192.8,103.5 190.7,107.5 188.3,111.3 187.2,115.4 185.7,119.5 184.4,123.6 182.7,127.6 181.2,131.7 179.8,135.7 178.5,139.9 177.1,143.9 175.8,148.1 173.2,151.8 171.3,155.8 169.0,159.6 166.8,163.5 165.2,167.7 163.2,171.7 160.9,175.5 158.2,179.1 156.5,182.8 155.1,186.6 152.9,190.1 151.5,193.9 149.2,197.4 148.1,201.3 145.7,204.9 146.8,209.7 148.7,214.2 150.0,219.0 154.0,220.5 157.8,222.5 161.5,224.6"/><polyline points="164.3,230.3 165.0,235.2 165.5,240.2 166.2,245.1 166.7,250.0 167.8,254.2 167.6,258.6 168.5,262.8 168.8,267.1 169.3,271.4 169.6,275.6 170.5,280.1 170.7,284.7 170.6,289.2 171.0,293.8 171.2,298.3 172.2,302.5 172.2,306.7 173.7,310.8 173.7,315.1 174.6,319.2 175.9,323.4 176.1,327.8 177.6,331.9 178.3,336.2 179.1,340.5 180.2,344.7 181.1,349.0 182.0,353.2 182.2,357.6 182.9,361.7 182.8,365.9 182.9,370.0 182.1,374.1 182.5,378.2 182.2,382.4 182.1,386.3 180.7,390.4 179.0,394.4 177.3,398.3 175.6,402.2 173.5,406.0 171.4,409.8 170.1,413.9 168.0,417.7 166.1,421.6 164.9,426.1 163.7,430.6 162.6,435.1 161.7,439.7 160.1,444.0 158.8,448.1 158.3,452.3 157.1,456.3 156.6,460.6 155.4,464.6 154.9,468.8 153.4,472.8 150.2,479.2 149.0,483.4 146.5,486.9 145.1,491.0 142.4,494.5 141.2,498.6 140.0,502.9 138.0,507.0 137.0,511.4 136.2,515.8 134.5,520.0 133.5,524.4 133.5,528.9 132.3,533.2 132.0,537.6 131.2,542.0 130.6,546.4 130.7,550.8 130.2,555.2 129.8,559.5 129.5,563.9 129.4,568.3 129.5,572.7 128.8,577.0 128.7,581.3 127.8,585.5 128.3,589.9 127.2,594.1 127.6,598.5 126.8,602.7 126.6,607.0 126.9,611.1 127.1,615.3 127.4,619.5 128.5,623.5 128.0,627.7 128.7,631.9 129.6,635.9 130.3,640.0 131.6,644.0 133.3,647.8 134.1,651.7 134.2,655.8 133.2,659.7 132.7,663.7 131.5,667.8 134.6,671.4 137.0,675.5"/><polyline points="6.4,460.0 10.4,460.5 14.3,461.7 18.3,462.3 22.3,462.9 26.4,463.4 30.3,464.1 34.5,463.9 38.4,465.1 42.7,465.2 46.9,466.2 51.2,466.4 55.5,467.1 59.7,467.5 64.0,468.1 68.2,469.6 72.4,471.1 76.9,471.9 81.0,473.6 85.3,475.0 89.7,475.9 93.9,475.1 98.2,475.0 102.5,474.8 106.5,474.3 110.5,473.8 114.5,474.1 118.5,473.6 122.5,473.9 126.5,473.0 130.5,473.3 134.6,472.9 138.3,475.4 142.7,476.7 146.3,479.3 150.5,480.9 154.6,480.4 158.7,479.8 162.8,479.6 167.0,479.5 171.1,479.1 175.2,478.6 179.3,477.8 183.6,477.2 187.8,477.2 192.1,477.1 196.4,476.5 200.7,477.0 204.9,475.8 209.2,475.7 213.4,475.4 217.7,475.2 222.0,475.0 226.2,475.0 230.5,475.0 234.8,475.5 239.1,475.0 243.4,475.0 247.6,474.6 251.9,474.3 256.2,474.6 260.5,473.4 264.6,471.4 269.0,470.6 273.2,468.9 277.6,468.0 281.7,466.4 285.2,461.6 288.3,458.4 291.8,455.8 294.8,452.5 297.6,449.0 301.3,446.5 303.9,443.0 307.0,439.9 308.9,435.9 311.2,432.3 313.6,428.6 315.9,424.9 317.6,420.7 321.2,418.5 324.5,415.7 328.4,413.8 331.7,411.1 335.3,408.7 338.7,406.2 342.5,404.3 346.4,403.6 350.2,401.9 354.2,401.3 358.1,400.1 362.2,399.8 366.1,399.1 369.8,397.5 373.8,395.8 377.3,393.3 381.1,391.3 384.8,389.2 388.4,386.9 392.0,384.0 395.2,380.7 398.7,377.8 402.0,374.6 405.5,371.6"/><polyline points="405.5,371.6 409.2,369.7 412.5,367.2 416.3,365.6 420.4,365.3 424.5,364.8 428.6,364.0 432.7,363.6 436.8,362.8 440.9,362.4 445.3,362.0 449.7,362.6 454.1,362.5 458.5,362.2 462.9,362.3 467.3,362.6 471.7,362.3 475.8,362.2 479.8,361.6 483.8,360.9 487.6,359.5 491.6,358.9 495.7,358.5 499.7,357.9 503.7,357.6 507.8,357.1 511.7,356.3 516.0,356.1 520.3,355.7 524.6,354.9 529.0,355.1 533.2,354.5 537.6,354.5 541.9,353.8 546.2,354.2 550.3,354.1 554.3,352.9 558.5,353.0 562.5,352.1 566.6,352.1 570.7,351.6 574.9,351.9 578.9,351.5 582.9,351.3 587.0,351.2 591.0,352.3 595.0,352.9 599.0,353.4 602.9,354.4 607.0,354.7 611.0,355.0 615.0,356.0 619.0,356.4 623.1,356.7 627.4,358.0 631.9,358.3 636.3,359.6 640.7,360.6 645.2,360.9 649.5,362.5 654.1,362.8 658.4,364.0 662.8,364.4 667.2,364.7 671.5,366.3 676.0,366.1 680.4,366.8 684.7,367.8 689.1,367.8 693.5,368.3 697.9,368.4 702.3,368.7 706.7,368.9 711.1,368.9 715.5,369.0 719.9,369.5 724.3,369.2 728.7,369.3 733.1,369.7 737.5,368.8 741.9,369.1 746.3,369.4 750.0,367.3 754.1,366.5 757.8,364.6 761.6,363.0 765.4,361.3 769.5,360.5 773.0,358.1 777.1,357.3 781.0,355.3 784.9,353.5 788.7,351.4 792.4,349.2 796.3,347.4 800.4,345.8 803.8,343.1 807.9,341.6"/><polyline points="405.5,371.6 408.3,368.6 410.8,365.4 413.8,362.5 416.0,359.0 419.9,356.8 423.3,353.9 426.9,351.5 430.2,348.5 433.8,346.0 437.2,343.3 440.8,340.7 444.1,337.9 447.0,334.6 450.5,331.9 453.3,328.6 456.1,325.2 459.4,322.4 462.4,319.3 465.2,316.0 467.8,312.4 469.7,308.2 472.3,304.6 474.8,300.8 477.2,297.0 479.8,293.3 481.8,289.3 483.6,285.2 486.0,281.3 487.9,277.1 490.4,273.2 492.6,269.2 493.9,264.7 496.6,260.9 497.8,256.6 499.5,252.4 501.5,248.3 503.2,244.1 504.9,239.8 509.9,238.3 515.0,237.0"/><polyline points="256.2,474.5 254.7,478.5 252.8,482.4 251.2,486.4 249.3,490.3 247.4,494.1 245.6,498.0 244.2,502.1 242.4,506.0 240.8,510.0 238.5,513.6 237.2,517.8 234.4,521.1 232.8,525.1 230.6,528.7 228.0,532.1 225.7,535.7 223.1,539.1 220.8,542.6 218.8,546.4 218.6,550.8 217.7,555.1 217.5,559.6 217.3,564.0 216.8,568.3 216.7,572.9 214.4,576.8 213.5,581.3 211.8,585.5 209.8,589.5 208.2,593.8 206.6,597.5 205.0,601.1 203.3,604.8 201.6,608.4 200.0,612.1 198.4,616.6 196.3,620.8 194.4,625.1 192.0,629.2 190.1,633.5 188.3,637.8 187.5,642.3 186.9,646.9 185.5,651.3 184.6,655.8"/><polyline points="471.7,5.0 471.7,12.3 470.4,16.2 470.4,20.3 469.3,24.2 467.7,28.0 467.1,32.0 466.7,36.1 465.6,40.1 462.2,42.3 459.4,45.2 456.6,48.1 452.9,50.0 450.3,53.1 446.9,55.3 443.1,58.4 439.3,61.6 435.2,64.3 431.9,67.8 429.6,71.5 428.1,75.6 425.4,79.0 424.3,83.3 422.0,86.9 419.8,90.7 417.9,94.5 416.7,98.6 414.4,102.4 412.9,106.5 411.8,110.8 409.9,114.7 408.8,119.0 407.3,123.1 406.3,127.2 405.2,131.4 404.0,135.5"/><polyline points="404.0,135.5 403.8,139.6 403.6,143.7 403.3,147.8 402.2,151.9 402.2,156.0 401.7,160.1 401.5,164.2 401.4,168.3 400.7,172.4 400.5,176.7 400.0,181.0 399.8,185.3 399.3,189.6 399.4,194.0 399.4,198.3 399.1,202.6 398.2,206.9 398.4,211.2 397.6,215.5 397.7,219.8 398.2,224.1 397.5,228.4 398.3,232.8 397.4,237.1 397.5,241.4 398.1,245.7 397.6,250.0 396.8,255.4 396.6,260.8 396.2,265.0 396.9,269.2 396.2,273.4 396.6,277.6 396.4,281.8 397.5,286.0 397.4,290.2 397.2,294.4 397.4,298.6 398.0,302.8 397.4,307.0 397.8,311.0 398.6,315.0 399.1,319.0 398.9,323.0 399.4,327.0 399.5,331.0 400.0,335.0 400.4,339.0 401.1,343.0 401.3,346.9 401.7,351.1 402.2,355.2 403.3,359.3 403.7,363.4 404.7,367.5 405.1,371.6 405.6,376.2 406.2,380.8 406.6,385.4 406.9,390.0 407.2,394.7 406.7,399.4 408.0,403.4 409.4,407.3 411.4,411.0 412.2,415.2 414.0,419.0 414.6,423.2 416.2,427.1 418.8,431.5 421.5,435.7 424.4,440.0 425.9,444.0 427.8,448.0 430.4,451.5 432.2,455.5 433.9,459.5 435.9,463.4 438.1,467.2 437.1,471.8 435.7,476.2 435.4,481.0 433.6,485.1 431.4,489.0 430.0,493.2 427.6,497.1 426.3,501.4 423.9,505.2 422.1,509.1 419.4,512.5 417.3,516.2 415.0,519.8 413.2,523.7 411.0,527.4 408.4,531.3 405.5,535.0 402.4,538.5 400.2,542.7 397.3,546.4 393.8,549.4 390.8,553.0 387.4,556.2 384.3,559.5 380.7,562.5 377.4,565.6 373.2,567.7 369.8,570.7 366.1,573.4 362.6,576.2 359.0,579.0 354.9,580.9 351.0,583.3 347.1,585.7 343.6,588.7 339.5,590.6 335.4,592.6 331.6,595.2 327.9,596.9 324.0,598.4 320.4,600.5 316.4,601.6 312.5,603.2 310.8,607.3 308.1,610.7 305.7,614.3 305.9,619.8 305.8,625.2"/><polyline points="240.6,6.6 243.1,10.2 246.2,13.3 248.7,17.0 251.4,20.9 253.6,25.2 256.2,29.1 258.6,33.1 260.7,37.2 261.7,41.6 263.5,45.9 264.0,50.7 264.4,55.4 268.6,56.9 272.3,59.0 277.5,59.9 282.8,60.2 287.9,60.3 293.3,58.1 298.6,55.7 302.9,54.4 307.4,54.8 311.7,54.2 316.3,56.5 320.8,59.0 324.6,62.2 327.6,66.3 330.3,70.5 333.3,73.1 335.9,76.2 339.2,78.6 342.1,81.3 345.3,83.8 348.5,86.2 351.9,89.1 356.0,91.0 359.6,93.6 363.1,96.3 366.9,98.6 370.5,101.3 374.4,103.5 378.0,106.1 382.1,108.0 385.6,110.6 389.3,113.1 393.1,115.3 396.7,117.9 400.5,120.2 404.0,123.0"/><polyline points="404.0,135.5 407.3,137.9 409.8,141.2 413.1,143.5 415.8,146.5 418.6,149.4 421.5,152.3 424.6,154.8 427.1,158.1 430.0,161.2 432.1,164.7 434.7,168.0 436.8,171.6 439.5,174.8 441.8,178.2 444.6,181.3 447.3,184.5 449.4,188.4 452.0,191.9 455.0,195.2 457.9,198.6 460.2,202.4 462.9,205.9 465.3,209.6 468.5,212.8 471.7,216.0 474.7,219.4 478.0,222.6 481.2,225.6 485.2,227.6 488.8,230.4 492.8,232.3 497.1,233.8 501.0,236.4 505.7,236.4 510.4,236.3 515.0,237.0"/><polyline points="515.0,237.0 518.5,234.8 522.2,232.8 525.9,230.9 529.1,228.2 532.7,226.1 536.2,223.7 539.7,221.7 542.6,218.7 545.6,215.8 548.8,213.0 552.1,210.3 554.8,207.1 557.5,203.9 559.6,200.4 562.0,197.1 563.8,193.4 565.7,189.7 568.5,186.6 570.4,183.0 572.1,179.2 574.5,175.9 576.9,172.6 580.1,169.8 581.8,166.0 584.7,163.1 587.3,160.1 590.9,156.5 595.4,154.0"/><polyline points="595.4,154.0 596.7,149.3 598.5,144.7 599.6,140.1 598.7,135.8 597.3,131.6 596.1,127.4 595.2,122.9 596.5,118.8 598.2,114.7 600.0,110.8 600.8,106.4 602.9,102.5 603.9,98.5 602.7,93.6 601.0,89.0 598.7,84.3 600.5,79.8 601.5,75.1 602.1,70.3 602.7,66.2 603.3,62.1 603.8,58.0 603.3,53.9 603.7,49.8 604.4,45.5 601.6,41.8 598.0,38.8 595.1,35.2 593.4,31.4 590.9,28.1 588.8,24.6 587.1,21.0 587.5,15.8 588.0,10.6 588.4,5.3"/><polyline points="515.0,237.0 517.7,241.0 521.1,244.4 523.9,248.3 526.7,252.2 530.0,255.8 532.5,260.0 535.2,264.0 537.6,268.2 540.3,271.5 542.1,275.2 543.7,279.0 545.1,282.9 546.9,286.7 549.4,290.0 550.5,294.1 552.7,297.6 554.8,301.2 557.3,304.4 560.4,307.2 562.1,311.0 565.0,314.0 567.7,317.2 569.1,322.2 571.1,327.0 572.2,332.1 574.5,335.8 577.0,339.4 579.0,343.2 580.9,347.1 582.7,351.0 584.4,355.1 585.7,359.2 586.7,363.5 588.1,367.7 589.0,372.0 589.7,376.3 591.5,380.4 592.5,384.6 595.3,388.0 598.8,390.7 601.9,393.7 604.9,396.9 607.7,400.2 610.7,403.4 613.8,406.4 617.3,409.1 620.2,412.9 623.5,416.5 626.2,420.5 629.4,424.0 632.2,427.9 633.9,431.5 635.4,435.2 637.3,438.8 638.5,442.6 640.5,446.1 642.0,450.1 640.5,454.2 640.4,458.6 639.8,462.8 638.3,467.0 638.0,471.3 637.1,475.5 636.1,479.7 635.0,483.9 635.1,488.3 633.7,492.5 633.5,496.8 632.0,501.1 633.4,505.0 634.7,509.0 635.4,513.1 636.2,517.2 637.7,521.1 638.5,525.2 639.1,529.3 640.1,533.4 641.2,537.4 642.4,541.4 643.9,546.1 646.2,550.6 647.7,555.3 649.5,560.0 650.2,564.1 650.8,568.1 651.3,572.2 650.9,576.5 652.0,580.5 652.6,584.5 654.0,588.6 655.7,592.6 657.3,596.6 659.1,600.6 661.6,604.2 663.2,608.2 664.8,612.2 667.5,615.3 669.9,618.5 672.8,621.4 675.0,624.9 678.0,627.6 680.3,631.1 682.9,634.2 686.8,637.1 690.7,639.9 694.5,642.8 697.6,646.6 701.2,649.5 703.3,653.1 705.4,656.7 706.5,660.7 708.6,664.3 710.2,668.1 711.4,672.1 713.2,675.8 715.0,679.6 717.4,683.0 719.1,686.8 721.3,690.3 723.4,693.9 726.2,697.0 727.7,701.0 730.5,704.1 732.8,707.6 734.3,712.0 736.3,716.1 738.4,720.2 741.0,724.0 742.9,728.2 744.7,732.4 745.1,736.5 745.5,740.6 746.7,744.6 746.6,748.8 747.6,752.9 748.0,757.0 749.0,761.3 749.6,765.8 750.7,770.2 751.2,774.6 752.4,779.0 753.5,783.3 754.2,787.8 754.7,792.3 755.2,796.9 755.0,801.5 756.0,806.0"/><polyline points="583.0,350.9 586.0,347.7 589.2,344.7 592.3,341.6 595.3,338.5 598.5,335.5 601.5,332.3 605.3,329.8 609.5,327.9 613.2,325.4 617.2,323.3 621.3,321.2 625.6,319.6 629.3,317.0 632.9,314.8 636.6,313.0 640.1,310.7 643.5,308.3 646.8,305.8 650.5,303.8 653.9,301.5 658.0,300.1 661.5,297.3 665.5,295.7 669.4,294.1 673.2,292.1 677.1,290.1 681.0,288.4 684.6,286.0 688.7,284.6 692.6,282.7 696.0,280.0 700.0,278.4 703.9,276.5 707.7,274.5 711.7,272.8 715.4,270.6 719.4,269.0 723.4,267.3 727.2,265.4 731.1,263.4 734.6,260.9 738.7,259.5 742.6,257.6 746.4,255.5 749.6,252.8 752.4,249.8 755.9,247.4 758.7,244.2 762.0,241.7 765.9,239.4 770.0,237.5 773.8,234.9 777.9,233.1 782.1,231.4 785.9,228.8 790.0,227.9 793.9,226.7 797.7,225.2 801.6,223.9 805.4,222.5"/><polyline points="583.0,350.9 580.3,354.3 577.9,358.1 574.8,361.2 572.5,364.9 569.3,367.9 567.2,371.9 564.1,375.0 561.9,378.8 558.7,381.9 556.2,385.5 554.2,389.5 551.2,392.8 549.0,396.6 546.2,400.0 545.1,404.1 545.1,408.4 544.3,412.6 543.7,416.8 542.7,421.3 538.8,423.4 535.3,426.1 531.6,428.6 527.6,430.6 524.1,433.4 520.1,435.1 516.2,436.9 512.0,438.2 508.3,440.4 504.2,441.9 500.1,443.3 496.2,445.5 494.0,448.8 491.7,452.1 488.8,454.9 486.7,458.4 484.0,461.4 481.4,464.2 477.6,465.6 474.0,467.4 470.1,468.7 466.4,470.1 462.5,471.5 458.4,471.1 454.3,471.2 450.2,471.0 446.1,470.8 442.1,470.4 438.0,470.0"/><polyline points="682.0,130.0 685.3,127.6 689.1,125.9 692.5,123.7 696.3,122.2 699.8,120.0 703.1,117.6 706.7,115.6 710.6,114.2 713.8,111.7 718.1,110.2 722.1,108.1 726.0,106.0 730.2,104.3 734.0,102.1 738.0,100.1 742.0,97.9 745.9,95.8 749.5,93.9 753.2,92.4 756.8,90.5 760.6,89.1 764.0,86.9 767.7,85.2 771.6,83.9 775.0,81.8 779.4,80.5 783.7,79.1 788.1,77.9 792.2,75.9 796.7,75.0 800.8,73.0 805.3,72.0"/><polyline points="650.0,142.4 652.6,145.6 655.4,148.7 657.7,152.1 660.6,155.0 663.0,158.4 665.2,161.9 668.5,164.5 670.9,167.9 674.3,171.4 678.3,174.1 681.8,177.4 685.1,181.2 689.0,183.3 693.3,184.7 697.3,186.6 701.2,189.4 705.2,188.7 709.2,189.0 713.3,189.0 717.3,189.0 721.9,188.3 726.4,187.4 730.8,186.1 735.3,185.3 739.8,184.3 744.2,183.2 748.6,182.1 753.0,180.9 757.5,180.0 762.1,179.7 766.1,178.3 769.9,176.5 774.1,176.1 778.0,174.3 782.0,174.3 786.0,173.7 790.0,173.1 794.1,172.6 799.7,174.2 805.4,175.3"/><polyline points="715.7,188.9 718.0,192.5 719.9,196.3 722.3,199.8 724.7,203.4 728.0,206.2 730.7,209.6 733.3,213.1 736.5,215.9 741.1,218.1 745.8,219.4 748.6,222.5 751.1,225.8 753.7,229.0 756.5,232.0 758.5,235.4 760.1,239.5 760.5,243.9 761.7,248.1 764.4,252.3 766.1,257.0 767.8,261.6 770.3,265.2 773.5,268.2 775.9,271.9 778.9,275.2 781.3,278.9 783.9,282.4 786.8,285.7 790.0,288.8 792.3,292.6 795.9,295.0 799.0,298.0 802.6,300.3 806.0,303.0"/><polyline points="5.3,661.0 9.7,660.2 13.6,658.0 18.0,657.3 22.2,655.8 26.5,654.9 30.8,653.1 35.3,652.2 39.5,650.2 44.1,649.6 48.3,647.8 52.6,646.2 56.6,645.6 60.6,645.1 64.5,643.7 68.5,643.3 73.2,643.4 77.8,643.9 82.4,644.4 86.9,644.9 91.6,644.0 96.3,643.5 100.9,642.2 105.5,641.7 110.0,641.5 114.5,641.3 119.0,641.2 123.5,640.6 128.0,640.5 132.5,640.6 137.0,640.0 141.3,640.4 145.5,641.6 149.7,642.4 154.0,642.9 158.4,643.6 162.3,645.7 166.0,648.1 169.9,650.1 173.9,651.9 179.3,653.7 184.6,655.3 189.8,654.9 195.1,655.1 200.4,654.5 205.0,653.1 209.5,651.5 214.1,650.2 218.7,648.9 222.7,647.7 226.8,647.1 230.6,645.7 234.7,644.9 238.6,643.6 242.6,642.6 246.8,642.6 251.0,642.4 255.2,641.5 259.4,642.0 263.6,641.7 267.8,641.4 272.0,640.7 276.3,641.0 280.5,640.6 284.6,639.8 288.7,638.3 292.8,636.6 296.7,634.6 300.7,632.9 304.5,630.7 308.2,628.6 311.5,625.8 315.4,624.1 319.5,623.9 323.5,624.8 327.6,625.3 331.7,625.1 335.7,626.0 339.6,627.1 343.4,628.7 347.4,629.6 351.1,631.3 355.1,632.3 359.0,633.4 363.0,634.6 367.2,635.1 371.2,636.4 375.1,637.1 379.0,635.3 382.7,633.2 386.0,630.4 390.4,628.8 394.6,627.0 398.3,624.4 402.4,622.2 406.8,621.4 411.3,621.2 415.5,619.6 420.0,619.5 424.3,618.2 428.4,619.0 432.5,619.5 436.6,619.8 440.7,619.5 445.3,619.4 449.8,618.7 454.4,618.8 458.9,617.7 463.4,617.1 468.0,616.9 472.5,616.4 477.1,616.3 481.6,616.6 486.1,616.0 490.7,615.6 495.2,616.1 499.8,615.9 504.2,616.9 508.8,617.2 513.3,617.6 517.9,618.1 522.4,618.5 526.2,619.9 530.1,620.9 534.1,621.7 537.9,623.2 541.8,624.3 545.6,625.8 549.7,626.2 554.8,628.8 559.9,631.4 564.0,631.7 567.6,633.5 571.4,634.8 575.4,635.6 579.4,636.2 583.0,638.0 587.0,638.6 590.8,640.0 595.2,640.5 599.6,640.3 604.0,640.4 608.4,640.5 612.8,641.0 617.2,641.0 621.5,641.8 625.4,643.1 629.4,643.5 633.1,645.1 636.9,646.5 640.8,647.6 644.8,648.3 648.5,649.7 652.4,651.0 656.8,651.5 661.1,652.6 665.5,653.2 669.9,653.9 674.5,653.7 678.9,654.3 683.2,655.5 687.6,656.4 692.0,656.9 696.5,657.8 700.7,659.2 705.1,660.1 709.7,660.2 714.0,661.2 718.4,661.8 722.8,661.5 727.2,661.3 731.5,662.0 735.9,661.4 740.3,661.2 744.7,661.5 749.1,660.6 753.5,660.0 758.0,659.2 762.2,657.6 766.7,657.1 771.2,656.7 775.5,655.4 779.6,655.8 783.7,655.8 787.9,655.7 792.4,654.2 796.8,652.3 801.6,651.8 806.0,650.0"/><polyline points="87.0,646.5 89.5,650.3 92.0,654.1 95.0,657.6 97.4,661.4 100.0,665.4 104.1,667.0 108.0,669.2 111.9,671.2 116.0,673.4 120.3,673.0 124.4,673.7 128.5,675.0 132.8,675.2 137.1,675.3 141.1,677.6 145.6,678.9 149.8,681.0 154.0,682.9 158.1,684.6 161.5,682.3 165.2,680.4 168.8,678.3 171.2,674.4 174.1,670.8 177.0,667.3 178.9,663.0 181.8,659.4 184.6,655.8"/><polyline points="806.0,490.0 805.4,494.1 806.0,498.3 805.4,502.5 805.3,506.7 804.6,510.8 805.0,515.0 804.8,519.2 804.5,523.3 804.5,527.5 803.8,531.6 803.6,535.8 803.6,540.0 803.8,544.3 802.4,548.4 802.4,552.7 801.9,557.0 800.7,561.4 799.5,565.7 797.8,570.0 797.2,574.6 795.2,578.1 792.4,581.1 791.0,584.9 788.9,588.4 786.7,591.7 785.8,596.0 785.8,600.4 785.7,604.7 785.0,609.0 785.5,613.2 786.2,617.4 785.8,621.8 786.4,626.0 787.8,631.2 788.5,636.7 786.2,640.4 784.8,644.4 783.4,648.5 781.6,652.4 782.1,656.9 783.7,661.1 784.2,665.6 785.7,669.9 786.1,674.4 787.2,678.7 787.9,683.1 789.4,687.0 790.9,690.9 792.0,694.9 794.0,698.6 795.9,702.3 796.6,706.4 798.1,710.3 799.7,714.2 802.2,717.6 804.1,721.3 806.0,725.0"/><polyline points="6.6,617.5 9.6,621.3 11.4,625.5 12.3,630.1 11.7,634.8 11.6,639.4 11.7,644.1 13.1,648.0 14.0,652.0 14.6,656.1 15.8,660.0"/><polyline points="367.0,101.6 371.6,101.2 376.0,99.9 380.5,98.9 385.0,98.0 389.3,98.0 393.5,98.0 397.7,97.2 402.0,96.7 406.5,97.6 411.1,98.1 415.5,99.4 419.7,100.4 423.7,102.3 426.8,105.2 430.7,107.3 433.6,110.1 434.9,114.5 436.1,119.0 437.5,123.4 438.3,128.0 437.2,132.0 437.5,136.0 436.7,140.0 436.3,144.0 436.0,148.0 433.8,151.4 432.3,155.2 429.9,158.4 428.1,162.4 423.6,163.5 419.0,164.3 414.6,166.0 410.0,167.4 405.5,166.5 401.0,165.9 396.4,166.0 392.1,164.8 388.3,163.2 384.3,162.0 380.8,159.7 376.6,158.2 374.7,153.6 372.4,149.3 369.9,145.0 369.4,140.8 369.3,136.5 368.2,132.3 368.0,128.0 367.8,123.6 367.2,119.2 367.9,114.8 367.0,110.4 367.5,106.0 367.0,101.6"/><ellipse cx="585.5" cy="348.5" rx="10" ry="12"/></g><g fill="none" stroke="#000" stroke-width="1" shape-rendering="crispEdges"><polyline points="6.0,105.3 155.0,105.3"/><polyline points="155.0,105.3 156.2,109.5 158.1,112.2 161.6,114.7 160.9,117.2 158.8,119.3 158.3,121.8 157.9,124.3 158.0,126.9 156.9,129.1 155.0,131.0 153.2,132.9 151.9,135.3 149.7,136.8 147.9,138.7 145.5,140.0 143.3,141.5 141.5,143.4 140.3,145.8 138.5,147.7"/><polyline points="138.5,149.0 187.0,149.0"/><polyline points="201.7,7.1 199.3,7.3 199.3,9.4 200.8,9.9 202.7,11.3 204.0,13.5 204.6,15.5 204.2,17.2 203.9,18.0 204.4,18.6 205.6,19.2 207.6,20.0 209.3,22.1 209.9,24.1 209.4,26.3 208.9,27.9 207.1,27.8 206.8,27.7 207.1,29.2 205.9,31.6 202.8,33.0 199.7,32.6 199.0,36.2 198.5,36.0 200.3,35.5 203.3,36.2 206.4,38.3 207.0,42.4 206.2,44.6 204.4,45.1 204.9,44.0 206.8,43.9 209.3,44.5 212.3,46.8 213.1,49.8 212.6,53.0 210.2,55.2 208.9,54.3 210.3,53.7 214.5,54.1 216.3,56.8 217.2,61.1 216.8,63.2 215.7,62.9 217.7,61.7 219.5,59.1 222.3,57.6 225.3,57.9 225.7,61.4 225.3,62.3 225.9,62.7 226.9,61.6 229.0,60.7 232.9,65.5 229.5,66.1 227.0,64.7 225.8,65.0 226.3,65.5 225.0,67.4 227.5,68.4 229.6,70.8 230.2,73.6 229.4,76.5 228.4,78.2 227.8,78.8 228.0,79.0 231.3,78.2 231.9,80.3 231.8,83.8 229.5,86.2 226.3,86.8 224.1,86.1 223.2,85.5 225.1,85.5 226.4,88.1 226.0,91.0 224.1,93.4 221.0,94.8 218.5,94.8 217.5,94.8 221.2,94.4 220.4,96.3 218.6,98.2 215.4,99.4 212.7,98.7 211.5,95.7 210.0,95.8 211.2,96.3 213.1,98.8 213.2,102.5 210.3,105.5 204.8,104.3 204.4,100.9 205.1,99.7 205.4,100.7 204.3,102.7 199.4,104.0 197.9,100.4 198.2,97.3 194.7,101.8 194.4,101.1 197.2,99.7 200.8,100.5 203.6,103.1 204.5,106.2 202.0,110.7 199.4,110.9 197.8,110.1 197.8,109.8 199.8,110.6 200.9,113.6 199.1,117.5 195.2,118.5 192.5,117.9 191.4,117.0 191.6,117.4 192.9,119.2 193.0,121.7 195.0,124.9 195.4,126.9 194.9,128.5 194.8,128.9 196.5,127.6 197.7,129.2 199.0,132.6 198.2,135.6 195.6,138.0 192.5,138.5 189.8,138.1 188.6,136.4 189.4,136.5 190.9,138.5 190.8,141.7 188.3,145.1 184.7,146.6 182.8,146.8 182.7,145.9 185.2,146.2 187.4,148.0 189.6,151.3 189.2,155.0 187.7,157.2 184.8,157.6 184.1,157.3 185.0,157.3 186.7,158.6 187.7,162.1 185.1,165.3 181.4,165.5 179.6,164.6 179.7,164.3 180.6,165.2 181.6,167.4 182.0,170.6 180.8,173.8 178.1,175.7 175.3,174.5 175.9,174.2 177.9,175.3 179.7,177.8 180.2,180.8 178.8,183.8 175.5,184.7 173.7,184.7 173.0,183.8 173.2,184.3 173.5,185.8 173.4,187.9 172.3,190.8 170.0,192.9 165.9,193.1 163.7,192.5 164.2,190.8 165.7,192.1 166.4,194.8 165.8,198.9 164.0,201.4 161.5,202.8 158.9,202.8 157.3,201.5 157.0,202.1 158.4,202.0 160.7,203.6 161.7,207.7 160.1,210.3 157.6,212.1 154.3,212.1 153.6,213.6 154.3,213.3 156.4,214.3 157.7,216.5 158.4,218.9 158.0,221.4 157.0,222.7 156.9,221.5 157.4,222.3 158.3,223.7 159.5,226.7 158.4,230.1 155.8,231.8 152.8,231.8 151.2,230.5 151.5,229.9 153.1,231.8 152.4,234.5 150.0,236.8 145.8,237.0 143.5,235.7 142.2,237.3 143.7,236.8 146.6,238.9 147.5,242.4 146.3,245.8 143.9,247.6 142.5,248.2 142.8,246.0 144.2,247.6 144.1,251.5 140.7,254.2 137.1,253.8 134.6,251.2 134.2,249.5 134.4,249.4 133.9,250.7 134.2,252.9 133.6,256.1 130.8,258.8 127.9,259.4 126.0,258.8 125.9,258.4 129.0,259.0 130.9,262.4 130.4,265.9 128.4,268.2 126.0,268.9 124.4,268.0 124.9,267.7 125.9,268.8 127.7,272.0 127.4,274.5 124.9,277.4 121.6,278.2 119.9,276.7 120.6,277.0 122.7,278.5 123.6,281.3 123.0,284.0 120.8,286.3 118.9,287.2 118.1,286.6 121.1,286.1 122.8,289.5 122.1,293.2 119.1,295.2 116.0,295.1 114.4,293.6 115.2,293.0 117.1,294.4 118.1,297.7 116.0,301.6 111.6,302.8 108.0,301.9 106.0,299.6 107.0,299.0 108.0,300.5 109.2,304.5 108.2,307.9 105.1,310.1 102.5,310.2 101.4,310.1 101.9,309.6 103.0,310.7 104.8,313.7 103.9,317.5 101.2,319.3 98.0,319.6 96.2,319.7 95.3,318.2 97.7,318.6 98.9,321.4 97.7,325.4 94.4,327.5 90.4,327.2 89.0,325.5 90.7,325.3 93.2,327.7 94.2,331.7 92.6,335.0 89.9,336.2 88.1,336.0 88.1,335.5 89.8,336.2 91.4,338.7 91.2,341.6 89.5,344.0 86.8,345.2 84.4,345.4 82.6,344.7 82.5,344.5 83.2,345.9 83.3,348.6 82.0,351.1 80.2,352.7 78.2,353.4 77.4,352.6 78.2,353.4 80.3,355.4 80.9,358.3 80.8,359.9 79.5,362.1 77.9,363.1 77.3,363.1 79.5,363.2 80.9,365.2 81.3,368.0 80.4,370.8 77.2,372.8 75.5,373.2 75.1,374.0 76.1,374.0 78.7,374.9 80.6,377.9 80.1,380.9 79.4,382.6 78.8,383.4 79.1,383.2 80.4,383.4 82.0,384.8 83.5,387.0 83.9,390.2 82.8,392.9 79.5,394.6 77.0,394.1 76.6,393.6 78.7,393.8 80.4,396.1 80.5,398.2 80.3,402.1 77.4,405.0 75.6,405.6 75.6,404.7 78.2,404.0 81.3,405.0 83.5,407.0 84.8,409.7 84.9,412.5 84.0,414.9 82.7,416.4 81.1,415.3 82.4,414.9 84.0,416.3 85.3,419.0 84.7,422.6 82.3,424.8 80.3,425.8 78.8,425.5 79.2,425.7 80.8,426.8 81.6,428.6 83.2,431.2 82.4,434.3 81.1,435.3 81.6,435.1 83.2,435.2 85.6,435.8 87.8,437.7 88.5,440.2 88.3,442.3 87.1,443.8 86.8,444.3 87.7,444.6 88.7,445.6 89.7,447.2 90.4,449.5 90.4,451.7 89.6,453.9 89.2,455.1 89.4,455.7 90.7,455.8 92.7,456.6 94.8,458.4 95.8,460.6 95.5,462.8 95.2,464.1 95.0,464.8 96.0,464.7 97.3,465.8 98.5,468.5 97.2,471.8 94.0,473.4 91.7,473.6 90.8,473.2 92.6,473.0 93.1,475.4 92.0,478.0 89.4,479.9 87.0,480.1 85.9,480.3 86.1,480.2 88.3,481.8 89.4,485.2 87.9,488.8 85.1,490.0 82.8,489.7 81.8,489.2 82.1,488.8 84.5,490.0 85.1,492.6 84.2,495.4 81.4,498.1 78.1,499.1 75.5,498.8 74.7,497.9 76.5,498.1 78.1,500.8 78.1,503.7 76.7,506.3 74.5,507.4 73.2,507.0 74.0,507.0 75.8,508.7 76.5,511.7 75.7,514.1 72.8,515.7 70.8,515.9 69.7,515.7 70.1,515.9 70.5,517.3 70.5,519.5 69.8,522.0 68.1,524.3 65.5,525.5 63.9,525.7 64.2,525.0 66.6,526.0 68.1,528.5 67.9,533.0 66.1,535.0 63.5,535.5 62.6,534.8 62.9,535.1 63.8,536.0 65.2,538.3 65.1,541.1 63.0,544.1 58.6,544.8 56.1,543.4 56.4,542.7 57.8,544.1 58.9,547.1 58.1,550.5 56.1,552.7 53.7,553.7 52.0,553.0 52.9,552.3 55.7,553.6 57.4,556.5 57.6,559.7 56.0,562.7 54.0,564.2 51.5,564.2 50.7,563.7 51.3,563.9 53.1,565.6 53.3,568.3 52.1,571.1 49.6,573.5 46.2,574.3 44.3,574.2 43.7,573.6 44.9,574.1 48.4,575.9 50.0,579.9 48.7,583.1 46.7,584.4 45.9,584.7 46.6,584.2 48.6,585.2 49.8,587.3 49.8,590.0 48.4,592.3 46.3,594.0 43.8,594.4 45.5,594.4"/><polyline points="223.5,55.4 225.0,52.8 226.3,50.4 228.6,48.7 231.0,47.2 233.0,45.2 235.4,43.7 236.5,40.5 239.3,39.4 242.6,40.4 245.8,39.8 248.9,41.6 252.9,41.5 254.8,43.4 257.3,44.4 259.4,46.2 261.7,47.5 264.6,47.3 267.1,48.6 269.8,49.6 271.9,52.1 274.6,53.1 277.1,53.4 282.1,51.5 281.4,48.0 283.0,44.7 280.4,42.6 278.4,40.1 278.2,36.9 276.9,34.3 276.9,31.6 278.3,29.6 280.1,26.8 281.4,23.3 284.4,23.6 286.8,21.8 289.5,21.1 291.9,19.2 294.7,20.3 297.3,19.5 300.0,19.7 302.6,19.2 305.1,17.7 307.5,17.7 308.2,15.2 309.3,13.7 306.8,11.1 304.8,8.0 304.6,5.9"/><polyline points="6.0,415.0 79.0,415.0"/><polyline points="184.0,594.4 183.7,597.3 183.5,600.2 181.8,602.4 182.1,605.3 180.5,607.5 180.1,610.1 179.9,612.8 178.3,615.1 178.5,617.5 178.1,620.1 179.1,622.4 179.4,624.9 179.1,627.5 178.8,630.4 181.6,632.0 183.2,634.5 184.3,637.3 185.5,640.1 187.9,642.1 189.3,644.4 189.3,647.4 192.1,649.1 191.7,652.3 193.8,654.4 194.8,656.8 195.6,659.2 195.9,661.8 195.7,664.5 197.0,666.8"/><polyline points="45.5,594.4 184.0,594.4"/><polyline points="299.3,238.0 307.0,247.0 303.0,290.0 299.3,322.4 294.0,380.0 290.0,414.7 285.4,440.0 283.9,480.0 280.3,508.0 281.3,562.6 282.8,597.0 284.0,630.7 285.4,652.5"/><polyline points="146.5,238.0 588.4,238.0 650.0,239.3 678.8,238.5"/><polyline points="207.4,104.3 310.7,105.0 311.8,99.0 309.7,88.5 319.2,89.6 325.5,91.7 420.0,90.6 490.0,94.4 636.0,95.8 650.0,95.8 806.0,97.7"/><polyline points="636.0,95.8 638.9,94.3 641.9,93.1 644.8,91.7 647.0,90.1 649.5,89.2 652.2,89.2 654.7,88.4 657.6,88.8 660.2,87.2 662.7,85.7 665.3,85.2 667.9,84.9 670.3,83.5 673.0,83.6 675.0,83.0 677.7,81.3 677.5,78.1 680.2,76.4 680.7,72.9 683.6,73.3 685.9,71.8 688.4,71.1 691.2,71.2 693.2,68.8 695.1,68.7 697.5,66.1 697.4,63.0 697.4,59.5 700.7,58.4 702.6,56.1 703.2,52.8 705.6,50.9 707.4,48.1 709.8,47.4 712.4,46.8 714.3,44.9 717.0,44.8 718.7,42.6 721.1,41.7 724.0,41.8 725.9,39.9 728.2,38.9 730.6,38.1 732.8,36.8 735.0,35.6 737.0,33.8 740.0,33.9 742.3,32.6 744.4,30.8 746.0,28.6 747.6,26.4 749.7,24.7 752.1,23.4 754.1,21.6 755.4,19.1 757.6,17.5 759.8,15.9 762.0,14.4 765.6,11.5 762.7,10.5 759.8,9.9 757.5,7.7 754.6,7.8 752.0,7.0 749.3,6.4"/><polyline points="765.3,12.0 763.7,20.8 771.7,32.0 784.5,42.4 795.0,40.0 806.0,33.6"/><polyline points="786.0,96.0 786.0,98.7 784.1,100.7 783.5,103.2 782.1,105.6 783.1,108.3 782.8,110.9 781.5,113.3 781.3,115.9 781.3,118.9 778.1,118.1 774.9,118.7 771.3,118.1 769.2,122.0 767.4,124.7 764.6,126.8 764.0,130.1 762.5,133.2 760.4,135.4 757.6,136.3 755.0,137.9 752.1,137.7 749.5,138.1 746.5,137.4 744.4,134.9 742.0,136.9 739.0,137.5 736.4,139.0 733.8,139.5 730.9,141.1 730.3,144.1 727.7,145.9 726.9,148.9 724.2,149.7 721.3,150.2 719.2,151.8 716.6,149.7 715.8,146.6 713.9,143.7 709.7,146.1 707.7,147.8 704.6,148.2 702.9,150.4 700.4,152.0 697.5,152.6 695.3,153.8 693.2,156.0 692.7,158.9 692.2,162.1 689.5,163.4 689.1,166.4 686.8,168.4 684.1,168.9 681.5,167.5 679.2,168.7 676.1,169.6 673.9,172.0 670.8,172.9 668.4,173.9 666.3,175.4 664.1,176.8 661.9,178.0 659.7,179.4 657.1,181.2 655.3,183.9 652.4,185.3 650.0,187.8 648.1,186.6 645.6,186.7 643.3,188.6 640.7,188.7 638.1,187.9 635.6,188.4 633.2,189.7 630.5,188.6 627.7,189.1 625.3,190.9 622.7,192.0 619.9,192.5 617.9,194.2 617.6,197.0 616.1,199.1 614.9,201.3 612.7,203.0 612.5,206.0 612.3,209.1 611.4,212.2 608.7,214.0 605.6,214.6 602.4,214.4 599.5,215.5 596.7,216.4 592.9,215.9 592.2,219.5 590.7,222.6 590.7,225.3 590.0,227.9 589.4,230.5 588.9,233.0 587.7,235.5 588.4,238.0"/><polyline points="678.8,238.5 702.9,230.5 718.9,224.0 730.0,221.0 739.7,220.0 806.0,223.3"/><polyline points="678.8,238.5 677.3,243.4 674.8,244.4 672.5,245.7 670.0,246.9 667.8,248.1 665.7,250.2 664.8,253.1 662.6,255.1 662.2,257.7 661.2,260.8 660.6,263.8 662.8,265.7 663.8,268.6 666.2,270.1 668.4,272.5 670.9,274.4 674.3,274.8 675.5,277.6 677.6,279.3 679.8,280.8 682.1,281.5 684.6,282.6 687.1,283.3 689.7,283.0 692.3,283.1 695.1,283.8 696.8,285.7 697.5,288.3 699.6,290.4 700.7,293.1 701.6,295.9 702.4,298.7 704.9,300.8 705.9,304.0 704.6,307.4 705.5,310.9 707.6,313.2 710.0,315.3 712.4,317.3 714.6,319.7 715.6,322.2 716.5,324.8 718.5,326.9 718.6,330.0 720.7,332.1 723.8,333.2 725.0,336.6 727.7,337.2 729.7,339.2 732.5,339.7 734.4,341.4 736.6,343.1 738.0,345.5 739.8,347.6 742.1,349.2 743.6,351.6 745.0,354.1 746.3,356.7 747.9,359.1 749.3,361.8 751.4,363.2 753.9,364.0 756.2,365.2 758.2,366.8 759.7,368.5 761.6,371.0 763.4,373.5 764.7,376.0 765.8,378.7 766.1,381.3 765.8,383.4 767.9,385.3 770.2,387.0 771.5,389.7 772.6,392.8 775.6,394.7 776.3,397.4 777.5,399.7 779.3,401.5 781.7,402.7 783.1,405.0 785.6,406.0 787.7,407.5 789.9,408.8 791.3,411.2 792.8,413.5 795.8,413.8 798.0,415.9 798.1,418.6 799.3,421.1 799.1,424.0 800.2,426.4 802.2,428.3 804.6,430.3 805.4,433.4 805.8,436.7 806.0,440.0"/><polyline points="493.2,238.0 493.5,240.6 493.3,243.3 493.4,245.9 495.1,248.4 494.5,251.1 495.0,253.7 495.4,256.3 496.9,258.7 497.4,261.3 497.1,264.0 496.7,266.7 498.1,269.2 497.9,271.9 498.7,274.4 498.0,277.2 498.2,279.8 499.6,282.3 498.8,285.0 501.1,287.3 500.0,290.0 500.3,292.6 502.1,294.9 501.4,297.7 502.1,300.2 501.7,302.8 503.6,305.2 503.3,307.8 503.0,310.5 503.9,312.9 505.0,315.4 505.8,317.8 504.6,320.7 506.0,323.0 505.5,325.7 507.6,327.9 506.8,330.7 507.3,333.2 507.5,335.8 509.8,337.9 509.6,340.6 510.7,343.0 509.8,345.8 511.0,348.1 510.3,350.9 511.9,353.2 511.5,355.8 511.7,358.4 513.4,360.8 513.1,363.5 512.7,366.1 514.0,368.6 514.7,371.1 515.3,373.6 514.6,376.3 516.2,378.7 515.8,381.4 516.2,384.0 516.6,386.5 517.9,389.0 517.2,391.7 517.1,394.3 518.6,396.7 519.0,399.3 518.3,402.0 519.3,404.5 520.3,406.9 521.2,409.4 520.1,412.2 521.3,414.6 521.7,417.2 522.8,419.6 522.8,422.4 523.3,424.9 524.8,427.3 525.9,429.7 524.8,432.7 525.6,435.2 528.0,437.2 527.7,440.1 528.7,442.9 530.4,445.4 530.7,448.1 531.2,450.7 532.9,452.8 534.2,455.1 535.5,457.3 536.3,459.8 537.5,462.1 538.5,464.5 539.2,466.9 539.2,469.8 540.9,471.8 541.6,474.3 542.5,476.7 543.9,478.9 546.3,481.5 543.2,482.3 542.7,485.3 539.9,486.4 538.1,488.2 536.6,490.4 535.2,492.7 534.1,494.5 534.1,497.2 533.0,499.9 533.8,502.7 533.2,505.4 533.8,508.1 534.0,510.8 533.7,513.5 532.9,516.3 533.3,519.0 533.5,521.7 533.1,524.2 532.8,526.7 532.6,529.2 532.6,531.8 531.3,534.2 531.6,536.8 532.4,539.4 532.0,541.9 532.1,544.4 531.5,546.9 532.0,549.4 530.3,551.8 530.5,554.4 530.8,557.1 529.8,559.9 530.9,562.6 530.4,565.3 529.7,568.0 530.5,570.8 530.4,573.5 530.8,576.1 530.9,579.0 532.5,581.1 534.4,583.0 535.5,585.4 536.2,587.9 537.5,590.2 538.7,592.5 540.0,595.1 540.0,598.0 540.4,600.8 541.0,603.5 542.0,606.1 542.5,608.8 542.8,611.6 543.2,614.3 543.8,617.1 544.2,619.8"/><polyline points="344.2,594.3 536.0,594.3 538.2,597.0 542.4,601.0"/><polyline points="344.2,594.3 343.3,597.0 342.6,599.7 342.6,602.5 342.1,605.3 343.8,607.3 344.5,610.1 347.2,611.3 348.9,613.2 350.9,615.5 353.0,617.6 355.0,619.8 357.4,622.1 358.4,624.8 358.6,627.7 359.3,630.8 356.8,634.8 358.0,637.2 358.9,639.7 358.6,642.4"/><polyline points="546.5,619.7 549.1,620.9 551.8,620.8 554.5,621.4 557.2,622.0 560.0,621.1 562.5,622.0 564.9,622.7 567.4,622.8 570.0,622.3 572.5,621.7 575.0,622.3 577.4,623.6 580.0,622.0 582.5,622.6 584.9,624.0 587.5,623.1 590.0,622.8 592.5,623.1 594.9,624.5 597.5,623.5 599.9,623.8 602.4,624.3 604.9,624.8 607.4,624.4 610.0,623.7 612.4,624.8 615.0,623.9 617.5,624.1 619.9,624.5 622.4,625.6 624.9,625.0 627.4,625.9 629.9,625.0 632.4,625.1 634.9,625.0 637.4,626.5 639.8,627.0 642.4,625.9 644.9,626.0 647.4,625.7 649.8,627.1 652.4,626.6 654.9,626.4 657.3,627.6 659.8,627.6 662.3,627.5 664.9,627.0 667.3,628.2 669.8,628.1 672.3,628.0 674.9,627.6 677.3,629.3 679.8,629.3 682.3,629.1 684.7,629.9 687.3,629.2 689.8,628.9 692.3,628.6 694.8,629.7 697.3,629.7 699.8,629.6 702.2,630.9 704.7,630.7 707.3,629.4 709.7,631.1 712.3,629.5 714.7,631.0 717.3,630.4 719.7,631.4 722.2,632.0 724.7,631.3 727.2,631.9 729.8,630.6 732.2,632.0 734.8,631.1 737.2,631.9 739.7,631.8 742.3,631.4 744.2,632.5 746.0,634.8 746.2,637.4 747.1,639.9 746.5,643.2 747.7,646.1 747.9,648.4 751.0,648.9 754.0,649.7 757.0,650.8 756.3,647.9 756.6,645.1 758.1,642.4 758.1,639.5 757.6,636.6 758.2,633.9 758.1,631.2 758.6,628.6 759.0,626.0 758.8,623.3 759.0,620.6 759.3,618.0 759.9,615.0 762.6,614.7 765.4,614.6 767.8,613.4 770.3,612.2 772.6,610.6 775.8,610.2 777.8,612.3 780.5,613.1 782.6,615.1 785.0,616.5 787.8,617.0"/></g><g fill="none" stroke="#c8c8c8" stroke-width="1" shape-rendering="crispEdges"><circle cx="407" cy="407" r="158.5"/><circle cx="407" cy="407" r="278.5"/><circle cx="407" cy="407" r="399.5"/><circle cx="407" cy="407" r="519.5"/></g><circle cx="407" cy="407" r="39.5" fill="none" stroke="#ff0000" stroke-width="1.4"/><rect x="393.6" y="6.0" width="24.8" height="9" fill="#5c504b"/><text x="406" y="14.5" fill="#f4eca0" font-size="11" font-family="'DejaVu Sans Condensed', 'Liberation Sans', sans-serif" text-anchor="middle" textLength="19.2" lengthAdjust="spacingAndGlyphs">313</text><rect x="393.6" y="123.5" width="24.8" height="9" fill="#5c504b"/><text x="406" y="132.0" fill="#f4eca0" font-size="11" font-family="'DejaVu Sans Condensed', 'Liberation Sans', sans-serif" text-anchor="middle" textLength="19.2" lengthAdjust="spacingAndGlyphs">219</text><rect x="393.6" y="243.0" width="24.8" height="9" fill="#5c504b"/><text x="406" y="251.5" fill="#f4eca0" font-size="11" font-family="'DejaVu Sans Condensed', 'Liberation Sans', sans-serif" text-anchor="middle" textLength="19.2" lengthAdjust="spacingAndGlyphs">125</text><rect x="396.9" y="363.0" width="18.2" height="9" fill="#5c504b"/><text x="406" y="371.5" fill="#f4eca0" font-size="11" font-family="'DejaVu Sans Condensed', 'Liberation Sans', sans-serif" text-anchor="middle" textLength="12.8" lengthAdjust="spacingAndGlyphs">31</text><path d="M569 144L614 99" stroke="#e8e8e8" stroke-width="1" fill="none"/><circle cx="630" cy="87" r="17" fill="none" stroke="#ffff00" stroke-width="1.2" stroke-dasharray="3 4.2"/><g><use href="#sCp" x="598" y="14" fill="none" stroke="#241e3c" stroke-width="1.6" stroke-opacity="0.45"/><use href="#sCp" x="598" y="14" fill="#ffcc00"/><use href="#sCm" x="569" y="43" fill="none" stroke="#241e3c" stroke-width="1.6" stroke-opacity="0.45"/><use href="#sCm" x="569" y="43" fill="#f05a10"/><use href="#sCm" x="583" y="40" fill="none" stroke="#241e3c" stroke-width="1.6" stroke-opacity="0.45"/><use href="#sCm" x="583" y="40" fill="#f05a10"/><use href="#sCm" x="523" y="59" fill="none" stroke="#241e3c" stroke-width="1.6" stroke-opacity="0.45"/><use href="#sCm" x="523" y="59" fill="#ffa200"/><use href="#sP" x="558" y="58" fill="none" stroke="#241e3c" stroke-width="1.6" stroke-opacity="0.45"/><use href="#sP" x="558" y="58" fill="#ffff00"/><use href="#sCp" x="555" y="66" fill="none" stroke="#241e3c" stroke-width="1.6" stroke-opacity="0.45"/><use href="#sCp" x="555" y="66" fill="#ffff00"/><use href="#sCm" x="556" y="70" fill="none" stroke="#241e3c" stroke-width="1.6" stroke-opacity="0.45"/><use href="#sCm" x="556" y="70" fill="#ffa200"/><use href="#sM" x="548" y="67" fill="none" stroke="#241e3c" stroke-width="1.6" stroke-opacity="0.45"/><use href="#sM" x="548" y="67" fill="#ffa200"/><use href="#sM" x="569" y="64" fill="none" stroke="#241e3c" stroke-width="1.6" stroke-opacity="0.45"/><use href="#sM" x="569" y="64" fill="#ffcc00"/><use href="#sM" x="591" y="66" fill="none" stroke="#241e3c" stroke-width="1.6" stroke-opacity="0.45"/><use href="#sM" x="591" y="66" fill="#ffcc00"/><use href="#sM" x="530" y="70" fill="none" stroke="#241e3c" stroke-width="1.6" stroke-opacity="0.45"/><use href="#sM" x="530" y="70" fill="#ffcc00"/><use href="#sM" x="530" y="76" fill="none" stroke="#241e3c" stroke-width="1.6" stroke-opacity="0.45"/><use href="#sM" x="530" y="76" fill="#ffcc00"/><use href="#sP" x="561" y="80" fill="none" stroke="#241e3c" stroke-width="1.6" stroke-opacity="0.45"/><use href="#sP" x="561" y="80" fill="#ffcc00"/><use href="#sCp" x="576" y="74" fill="none" stroke="#241e3c" stroke-width="1.6" stroke-opacity="0.45"/><use href="#sCp" x="576" y="74" fill="#ffcc00"/><use href="#sCp" x="585" y="74" fill="none" stroke="#241e3c" stroke-width="1.6" stroke-opacity="0.45"/><use href="#sCp" x="585" y="74" fill="#ffcc00"/><use href="#sP" x="581" y="70" fill="none" stroke="#241e3c" stroke-width="1.6" stroke-opacity="0.45"/><use href="#sP" x="581" y="70" fill="#ffcc00"/><use href="#sCp" x="577" y="84" fill="none" stroke="#241e3c" stroke-width="1.6" stroke-opacity="0.45"/><use href="#sCp" x="577" y="84" fill="#ffff00"/><use href="#sCm" x="583" y="82" fill="none" stroke="#241e3c" stroke-width="1.6" stroke-opacity="0.45"/><use href="#sCm" x="583" y="82" fill="#ffff00"/><use href="#sCp" x="589" y="82" fill="none" stroke="#241e3c" stroke-width="1.6" stroke-opacity="0.45"/><use href="#sCp" x="589" y="82" fill="#ffff00"/><use href="#sCp" x="607" y="86" fill="none" stroke="#241e3c" stroke-width="1.6" stroke-opacity="0.45"/><use href="#sCp" x="607" y="86" fill="#ffff00"/><use href="#sM" x="599" y="87" fill="none" stroke="#241e3c" stroke-width="1.6" stroke-opacity="0.45"/><use href="#sM" x="599" y="87" fill="#ffa200"/><use href="#sCp" x="627" y="68" fill="none" stroke="#241e3c" stroke-width="1.6" stroke-opacity="0.45"/><use href="#sCp" x="627" y="68" fill="#00ffff"/><use href="#sP" x="515" y="90" fill="none" stroke="#241e3c" stroke-width="1.6" stroke-opacity="0.45"/><use href="#sP" x="515" y="90" fill="#ffa200"/><use href="#sCp" x="544" y="94" fill="none" stroke="#241e3c" stroke-width="1.6" stroke-opacity="0.45"/><use href="#sCp" x="544" y="94" fill="#ffa200"/><use href="#sM" x="552" y="91" fill="none" stroke="#241e3c" stroke-width="1.6" stroke-opacity="0.45"/><use href="#sM" x="552" y="91" fill="#ffa200"/><use href="#sP" x="554" y="96" fill="none" stroke="#241e3c" stroke-width="1.6" stroke-opacity="0.45"/><use href="#sP" x="554" y="96" fill="#ffcc00"/><use href="#sCp" x="566" y="91" fill="none" stroke="#241e3c" stroke-width="1.6" stroke-opacity="0.45"/><use href="#sCp" x="566" y="91" fill="#ffcc00"/><use href="#sP" x="581" y="92" fill="none" stroke="#241e3c" stroke-width="1.6" stroke-opacity="0.45"/><use href="#sP" x="581" y="92" fill="#ffcc00"/><use href="#sCm" x="602" y="97" fill="none" stroke="#241e3c" stroke-width="1.6" stroke-opacity="0.45"/><use href="#sCm" x="602" y="97" fill="#ffff00"/><use href="#sCm" x="610" y="97" fill="none" stroke="#241e3c" stroke-width="1.6" stroke-opacity="0.45"/><use href="#sCm" x="610" y="97" fill="#ffff00"/><use href="#sCp" x="616" y="98" fill="none" stroke="#241e3c" stroke-width="1.6" stroke-opacity="0.45"/><use href="#sCp" x="616" y="98" fill="#ffff00"/><use href="#sM" x="623" y="99" fill="none" stroke="#241e3c" stroke-width="1.6" stroke-opacity="0.45"/><use href="#sM" x="623" y="99" fill="#ffff00"/><use href="#sCm" x="639" y="101" fill="none" stroke="#241e3c" stroke-width="1.6" stroke-opacity="0.45"/><use href="#sCm" x="639" y="101" fill="#ffff00"/><use href="#sM" x="651" y="105" fill="none" stroke="#241e3c" stroke-width="1.6" stroke-opacity="0.45"/><use href="#sM" x="651" y="105" fill="#00ffff"/><use href="#sCp" x="522" y="105" fill="none" stroke="#241e3c" stroke-width="1.6" stroke-opacity="0.45"/><use href="#sCp" x="522" y="105" fill="#ffff00"/><use href="#sCm" x="552" y="105" fill="none" stroke="#241e3c" stroke-width="1.6" stroke-opacity="0.45"/><use href="#sCm" x="552" y="105" fill="#ffa200"/><use href="#sCp" x="560" y="102" fill="none" stroke="#241e3c" stroke-width="1.6" stroke-opacity="0.45"/><use href="#sCp" x="560" y="102" fill="#ffcc00"/><use href="#sCp" x="588" y="100" fill="none" stroke="#241e3c" stroke-width="1.6" stroke-opacity="0.45"/><use href="#sCp" x="588" y="100" fill="#ffcc00"/><use href="#sCm" x="598" y="105" fill="none" stroke="#241e3c" stroke-width="1.6" stroke-opacity="0.45"/><use href="#sCm" x="598" y="105" fill="#ffa200"/><use href="#sCp" x="533" y="111" fill="none" stroke="#241e3c" stroke-width="1.6" stroke-opacity="0.45"/><use href="#sCp" x="533" y="111" fill="#ffcc00"/><use href="#sCp" x="538" y="111" fill="none" stroke="#241e3c" stroke-width="1.6" stroke-opacity="0.45"/><use href="#sCp" x="538" y="111" fill="#ffa200"/><use href="#sCp" x="538" y="121" fill="none" stroke="#241e3c" stroke-width="1.6" stroke-opacity="0.45"/><use href="#sCp" x="538" y="121" fill="#ffff00"/><use href="#sCp" x="512" y="116" fill="none" stroke="#241e3c" stroke-width="1.6" stroke-opacity="0.45"/><use href="#sCp" x="512" y="116" fill="#ffcc00"/><use href="#sP" x="548" y="119" fill="none" stroke="#241e3c" stroke-width="1.6" stroke-opacity="0.45"/><use href="#sP" x="548" y="119" fill="#ffff00"/><use href="#sM" x="571" y="113" fill="none" stroke="#241e3c" stroke-width="1.6" stroke-opacity="0.45"/><use href="#sM" x="571" y="113" fill="#ff8000"/><use href="#sCp" x="589" y="113" fill="none" stroke="#241e3c" stroke-width="1.6" stroke-opacity="0.45"/><use href="#sCp" x="589" y="113" fill="#ff8000"/><use href="#sM" x="581" y="120" fill="none" stroke="#241e3c" stroke-width="1.6" stroke-opacity="0.45"/><use href="#sM" x="581" y="120" fill="#00ffff"/><use href="#sM" x="593" y="120" fill="none" stroke="#241e3c" stroke-width="1.6" stroke-opacity="0.45"/><use href="#sM" x="593" y="120" fill="#ff8000"/><use href="#sCp" x="613" y="108" fill="none" stroke="#241e3c" stroke-width="1.6" stroke-opacity="0.45"/><use href="#sCp" x="613" y="108" fill="#ffcc00"/><use href="#sCp" x="620" y="109" fill="none" stroke="#241e3c" stroke-width="1.6" stroke-opacity="0.45"/><use href="#sCp" x="620" y="109" fill="#ffff00"/><use href="#sCm" x="624" y="114" fill="none" stroke="#241e3c" stroke-width="1.6" stroke-opacity="0.45"/><use href="#sCm" x="624" y="114" fill="#ffa200"/><use href="#sCm" x="632" y="113" fill="none" stroke="#241e3c" stroke-width="1.6" stroke-opacity="0.45"/><use href="#sCm" x="632" y="113" fill="#ffff00"/><use href="#sCp" x="638" y="112" fill="none" stroke="#241e3c" stroke-width="1.6" stroke-opacity="0.45"/><use href="#sCp" x="638" y="112" fill="#ffff00"/><use href="#sCp" x="640" y="116" fill="none" stroke="#241e3c" stroke-width="1.6" stroke-opacity="0.45"/><use href="#sCp" x="640" y="116" fill="#ffff00"/><use href="#sCp" x="646" y="117" fill="none" stroke="#241e3c" stroke-width="1.6" stroke-opacity="0.45"/><use href="#sCp" x="646" y="117" fill="#ffff00"/><use href="#sM" x="610" y="124" fill="none" stroke="#241e3c" stroke-width="1.6" stroke-opacity="0.45"/><use href="#sM" x="610" y="124" fill="#ff8000"/><use href="#sCm" x="572" y="123" fill="none" stroke="#241e3c" stroke-width="1.6" stroke-opacity="0.45"/><use href="#sCm" x="572" y="123" fill="#ffcc00"/><use href="#sCm" x="571" y="128" fill="none" stroke="#241e3c" stroke-width="1.6" stroke-opacity="0.45"/><use href="#sCm" x="571" y="128" fill="#ffff00"/><use href="#sCp" x="603" y="129" fill="none" stroke="#241e3c" stroke-width="1.6" stroke-opacity="0.45"/><use href="#sCp" x="603" y="129" fill="#ff8000"/><use href="#sP" x="610" y="112" fill="none" stroke="#241e3c" stroke-width="1.6" stroke-opacity="0.45"/><use href="#sP" x="610" y="112" fill="#ff8000"/><use href="#sCm" x="530" y="132" fill="none" stroke="#241e3c" stroke-width="1.6" stroke-opacity="0.45"/><use href="#sCm" x="530" y="132" fill="#ffcc00"/><use href="#sM" x="559" y="131" fill="none" stroke="#241e3c" stroke-width="1.6" stroke-opacity="0.45"/><use href="#sM" x="559" y="131" fill="#ff8000"/><use href="#sM" x="548" y="138" fill="none" stroke="#241e3c" stroke-width="1.6" stroke-opacity="0.45"/><use href="#sM" x="548" y="138" fill="#ff8000"/><use href="#sM" x="555" y="140" fill="none" stroke="#241e3c" stroke-width="1.6" stroke-opacity="0.45"/><use href="#sM" x="555" y="140" fill="#ff8000"/><use href="#sM" x="595" y="132" fill="none" stroke="#241e3c" stroke-width="1.6" stroke-opacity="0.45"/><use href="#sM" x="595" y="132" fill="#ff8000"/><use href="#sCp" x="614" y="136" fill="none" stroke="#241e3c" stroke-width="1.6" stroke-opacity="0.45"/><use href="#sCp" x="614" y="136" fill="#ff8000"/><use href="#sM" x="586" y="133" fill="none" stroke="#241e3c" stroke-width="1.6" stroke-opacity="0.45"/><use href="#sM" x="586" y="133" fill="#ff8000"/><use href="#sCp" x="575" y="143" fill="none" stroke="#241e3c" stroke-width="1.6" stroke-opacity="0.45"/><use href="#sCp" x="575" y="143" fill="#ffa200"/><use href="#sCp" x="585" y="143" fill="none" stroke="#241e3c" stroke-width="1.6" stroke-opacity="0.45"/><use href="#sCp" x="585" y="143" fill="#ffa200"/><use href="#sCp" x="590" y="145" fill="none" stroke="#241e3c" stroke-width="1.6" stroke-opacity="0.45"/><use href="#sCp" x="590" y="145" fill="#ff8000"/><use href="#sCm" x="602" y="150" fill="none" stroke="#241e3c" stroke-width="1.6" stroke-opacity="0.45"/><use href="#sCm" x="602" y="150" fill="#ffff00"/><use href="#sCp" x="616" y="147" fill="none" stroke="#241e3c" stroke-width="1.6" stroke-opacity="0.45"/><use href="#sCp" x="616" y="147" fill="#ffcc00"/><use href="#sCp" x="619" y="145" fill="none" stroke="#241e3c" stroke-width="1.6" stroke-opacity="0.45"/><use href="#sCp" x="619" y="145" fill="#ffcc00"/><use href="#sCp" x="622" y="144" fill="none" stroke="#241e3c" stroke-width="1.6" stroke-opacity="0.45"/><use href="#sCp" x="622" y="144" fill="#ffcc00"/><use href="#sCm" x="624" y="143" fill="none" stroke="#241e3c" stroke-width="1.6" stroke-opacity="0.45"/><use href="#sCm" x="624" y="143" fill="#ffcc00"/><use href="#sCp" x="635" y="136" fill="none" stroke="#241e3c" stroke-width="1.6" stroke-opacity="0.45"/><use href="#sCp" x="635" y="136" fill="#ffcc00"/><use href="#sCm" x="635" y="139" fill="none" stroke="#241e3c" stroke-width="1.6" stroke-opacity="0.45"/><use href="#sCm" x="635" y="139" fill="#ffcc00"/><use href="#sCp" x="644" y="136" fill="none" stroke="#241e3c" stroke-width="1.6" stroke-opacity="0.45"/><use href="#sCp" x="644" y="136" fill="#ffcc00"/><use href="#sCp" x="646" y="142" fill="none" stroke="#241e3c" stroke-width="1.6" stroke-opacity="0.45"/><use href="#sCp" x="646" y="142" fill="#ff8000"/><use href="#sCp" x="653" y="132" fill="none" stroke="#241e3c" stroke-width="1.6" stroke-opacity="0.45"/><use href="#sCp" x="653" y="132" fill="#ffff00"/><use href="#sM" x="661" y="136" fill="none" stroke="#241e3c" stroke-width="1.6" stroke-opacity="0.45"/><use href="#sM" x="661" y="136" fill="#ffff00"/><use href="#sCm" x="674" y="140" fill="none" stroke="#241e3c" stroke-width="1.6" stroke-opacity="0.45"/><use href="#sCm" x="674" y="140" fill="#ffff00"/><use href="#sCp" x="687" y="150" fill="none" stroke="#241e3c" stroke-width="1.6" stroke-opacity="0.45"/><use href="#sCp" x="687" y="150" fill="#ffff00"/><use href="#sCp" x="646" y="150" fill="none" stroke="#241e3c" stroke-width="1.6" stroke-opacity="0.45"/><use href="#sCp" x="646" y="150" fill="#ffcc00"/><use href="#sCp" x="650" y="150" fill="none" stroke="#241e3c" stroke-width="1.6" stroke-opacity="0.45"/><use href="#sCp" x="650" y="150" fill="#ffff00"/><use href="#sCp" x="658" y="151" fill="none" stroke="#241e3c" stroke-width="1.6" stroke-opacity="0.45"/><use href="#sCp" x="658" y="151" fill="#ffff00"/><use href="#sCp" x="549" y="153" fill="none" stroke="#241e3c" stroke-width="1.6" stroke-opacity="0.45"/><use href="#sCp" x="549" y="153" fill="#ff8000"/><use href="#sCp" x="561" y="159" fill="none" stroke="#241e3c" stroke-width="1.6" stroke-opacity="0.45"/><use href="#sCp" x="561" y="159" fill="#ffcc00"/><use href="#sCm" x="590" y="155" fill="none" stroke="#241e3c" stroke-width="1.6" stroke-opacity="0.45"/><use href="#sCm" x="590" y="155" fill="#ffcc00"/><use href="#sM" x="509" y="162" fill="none" stroke="#241e3c" stroke-width="1.6" stroke-opacity="0.45"/><use href="#sM" x="509" y="162" fill="#ff8000"/><use href="#sM" x="512" y="167" fill="none" stroke="#241e3c" stroke-width="1.6" stroke-opacity="0.45"/><use href="#sM" x="512" y="167" fill="#ffcc00"/><use href="#sM" x="549" y="162" fill="none" stroke="#241e3c" stroke-width="1.6" stroke-opacity="0.45"/><use href="#sM" x="549" y="162" fill="#ff8000"/><use href="#sCp" x="553" y="167" fill="none" stroke="#241e3c" stroke-width="1.6" stroke-opacity="0.45"/><use href="#sCp" x="553" y="167" fill="#ff8000"/><use href="#sM" x="573" y="161" fill="none" stroke="#241e3c" stroke-width="1.6" stroke-opacity="0.45"/><use href="#sM" x="573" y="161" fill="#ff8000"/><use href="#sCp" x="544" y="174" fill="none" stroke="#241e3c" stroke-width="1.6" stroke-opacity="0.45"/><use href="#sCp" x="544" y="174" fill="#ff8000"/><use href="#sCm" x="568" y="175" fill="none" stroke="#241e3c" stroke-width="1.6" stroke-opacity="0.45"/><use href="#sCm" x="568" y="175" fill="#ff8000"/><use href="#sM" x="580" y="169" fill="none" stroke="#241e3c" stroke-width="1.6" stroke-opacity="0.45"/><use href="#sM" x="580" y="169" fill="#ffa200"/><use href="#sM" x="597" y="165" fill="none" stroke="#241e3c" stroke-width="1.6" stroke-opacity="0.45"/><use href="#sM" x="597" y="165" fill="#ff8000"/><use href="#sCp" x="610" y="175" fill="none" stroke="#241e3c" stroke-width="1.6" stroke-opacity="0.45"/><use href="#sCp" x="610" y="175" fill="#ffa200"/><use href="#sM" x="602" y="175" fill="none" stroke="#241e3c" stroke-width="1.6" stroke-opacity="0.45"/><use href="#sM" x="602" y="175" fill="#ffa200"/><use href="#sCp" x="624" y="175" fill="none" stroke="#241e3c" stroke-width="1.6" stroke-opacity="0.45"/><use href="#sCp" x="624" y="175" fill="#ffa200"/><use href="#sCp" x="646" y="172" fill="none" stroke="#241e3c" stroke-width="1.6" stroke-opacity="0.45"/><use href="#sCp" x="646" y="172" fill="#ffa200"/><use href="#sCp" x="667" y="175" fill="none" stroke="#241e3c" stroke-width="1.6" stroke-opacity="0.45"/><use href="#sCp" x="667" y="175" fill="#ffff00"/><use href="#sM" x="680" y="184" fill="none" stroke="#241e3c" stroke-width="1.6" stroke-opacity="0.45"/><use href="#sM" x="680" y="184" fill="#ffff00"/><use href="#sM" x="590" y="182" fill="none" stroke="#241e3c" stroke-width="1.6" stroke-opacity="0.45"/><use href="#sM" x="590" y="182" fill="#ffa200"/><use href="#sM" x="561" y="177" fill="none" stroke="#241e3c" stroke-width="1.6" stroke-opacity="0.45"/><use href="#sM" x="561" y="177" fill="#ff8000"/><use href="#sCp" x="569" y="182" fill="none" stroke="#241e3c" stroke-width="1.6" stroke-opacity="0.45"/><use href="#sCp" x="569" y="182" fill="#ff8000"/><use href="#sM" x="562" y="186" fill="none" stroke="#241e3c" stroke-width="1.6" stroke-opacity="0.45"/><use href="#sM" x="562" y="186" fill="#ff8000"/><use href="#sM" x="578" y="187" fill="none" stroke="#241e3c" stroke-width="1.6" stroke-opacity="0.45"/><use href="#sM" x="578" y="187" fill="#ff8000"/><use href="#sCp" x="541" y="188" fill="none" stroke="#241e3c" stroke-width="1.6" stroke-opacity="0.45"/><use href="#sCp" x="541" y="188" fill="#ff8000"/><use href="#sCp" x="564" y="200" fill="none" stroke="#241e3c" stroke-width="1.6" stroke-opacity="0.45"/><use href="#sCp" x="564" y="200" fill="#f05a10"/><use href="#sCp" x="570" y="197" fill="none" stroke="#241e3c" stroke-width="1.6" stroke-opacity="0.45"/><use href="#sCp" x="570" y="197" fill="#ff8000"/><use href="#sM" x="558" y="200" fill="none" stroke="#241e3c" stroke-width="1.6" stroke-opacity="0.45"/><use href="#sM" x="558" y="200" fill="#f05a10"/><use href="#sM" x="573" y="202" fill="none" stroke="#241e3c" stroke-width="1.6" stroke-opacity="0.45"/><use href="#sM" x="573" y="202" fill="#ff8000"/><use href="#sCm" x="584" y="203" fill="none" stroke="#241e3c" stroke-width="1.6" stroke-opacity="0.45"/><use href="#sCm" x="584" y="203" fill="#f05a10"/><use href="#sCm" x="584" y="205" fill="none" stroke="#241e3c" stroke-width="1.6" stroke-opacity="0.45"/><use href="#sCm" x="584" y="205" fill="#f05a10"/><use href="#sCp" x="746" y="28" fill="none" stroke="#241e3c" stroke-width="1.6" stroke-opacity="0.45"/><use href="#sCp" x="746" y="28" fill="#f05a10"/><use href="#sCp" x="735" y="66" fill="none" stroke="#241e3c" stroke-width="1.6" stroke-opacity="0.45"/><use href="#sCp" x="735" y="66" fill="#f05a10"/><use href="#sCp" x="777" y="86" fill="none" stroke="#241e3c" stroke-width="1.6" stroke-opacity="0.45"/><use href="#sCp" x="777" y="86" fill="#ffff00"/><use href="#sCp" x="774" y="93" fill="none" stroke="#241e3c" stroke-width="1.6" stroke-opacity="0.45"/><use href="#sCp" x="774" y="93" fill="#ffcc00"/><use href="#sM" x="789" y="82" fill="none" stroke="#241e3c" stroke-width="1.6" stroke-opacity="0.45"/><use href="#sM" x="789" y="82" fill="#f05a10"/><use href="#sCp" x="787" y="102" fill="none" stroke="#241e3c" stroke-width="1.6" stroke-opacity="0.45"/><use href="#sCp" x="787" y="102" fill="#f05a10"/><use href="#sCp" x="793" y="106" fill="none" stroke="#241e3c" stroke-width="1.6" stroke-opacity="0.45"/><use href="#sCp" x="793" y="106" fill="#ffff00"/><use href="#sCp" x="725" y="111" fill="none" stroke="#241e3c" stroke-width="1.6" stroke-opacity="0.45"/><use href="#sCp" x="725" y="111" fill="#f05a10"/><use href="#sCp" x="727" y="113" fill="none" stroke="#241e3c" stroke-width="1.6" stroke-opacity="0.45"/><use href="#sCp" x="727" y="113" fill="#f05a10"/><use href="#sM" x="775" y="125" fill="none" stroke="#241e3c" stroke-width="1.6" stroke-opacity="0.45"/><use href="#sM" x="775" y="125" fill="#ffa200"/><use href="#sCm" x="698" y="135" fill="none" stroke="#241e3c" stroke-width="1.6" stroke-opacity="0.45"/><use href="#sCm" x="698" y="135" fill="#ffa200"/><use href="#sP" x="710" y="146" fill="none" stroke="#241e3c" stroke-width="1.6" stroke-opacity="0.45"/><use href="#sP" x="710" y="146" fill="#f05a10"/><use href="#sCp" x="688" y="150" fill="none" stroke="#241e3c" stroke-width="1.6" stroke-opacity="0.45"/><use href="#sCp" x="688" y="150" fill="#ffcc00"/><use href="#sCp" x="793" y="151" fill="none" stroke="#241e3c" stroke-width="1.6" stroke-opacity="0.45"/><use href="#sCp" x="793" y="151" fill="#ffff00"/><use href="#sCp" x="730" y="192" fill="none" stroke="#241e3c" stroke-width="1.6" stroke-opacity="0.45"/><use href="#sCp" x="730" y="192" fill="#f05a10"/><use href="#sM" x="768" y="198" fill="none" stroke="#241e3c" stroke-width="1.6" stroke-opacity="0.45"/><use href="#sM" x="768" y="198" fill="#ff8000"/><use href="#sCp" x="754" y="214" fill="none" stroke="#241e3c" stroke-width="1.6" stroke-opacity="0.45"/><use href="#sCp" x="754" y="214" fill="#ffa200"/><use href="#sCp" x="786" y="214" fill="none" stroke="#241e3c" stroke-width="1.6" stroke-opacity="0.45"/><use href="#sCp" x="786" y="214" fill="#ffa200"/><use href="#sCp" x="792" y="249" fill="none" stroke="#241e3c" stroke-width="1.6" stroke-opacity="0.45"/><use href="#sCp" x="792" y="249" fill="#f05a10"/><use href="#sM" x="740" y="249" fill="none" stroke="#241e3c" stroke-width="1.6" stroke-opacity="0.45"/><use href="#sM" x="740" y="249" fill="#ffff00"/><use href="#sCp" x="773" y="268" fill="none" stroke="#241e3c" stroke-width="1.6" stroke-opacity="0.45"/><use href="#sCp" x="773" y="268" fill="#ffcc00"/><use href="#sM" x="728" y="277" fill="none" stroke="#241e3c" stroke-width="1.6" stroke-opacity="0.45"/><use href="#sM" x="728" y="277" fill="#ff8000"/><use href="#sCp" x="683" y="286" fill="none" stroke="#241e3c" stroke-width="1.6" stroke-opacity="0.45"/><use href="#sCp" x="683" y="286" fill="#f05a10"/><use href="#sCp" x="768" y="288" fill="none" stroke="#241e3c" stroke-width="1.6" stroke-opacity="0.45"/><use href="#sCp" x="768" y="288" fill="#ffa200"/><use href="#sCp" x="775" y="289" fill="none" stroke="#241e3c" stroke-width="1.6" stroke-opacity="0.45"/><use href="#sCp" x="775" y="289" fill="#ffcc00"/><use href="#sCp" x="775" y="296" fill="none" stroke="#241e3c" stroke-width="1.6" stroke-opacity="0.45"/><use href="#sCp" x="775" y="296" fill="#ffa200"/><use href="#sM" x="770" y="296" fill="none" stroke="#241e3c" stroke-width="1.6" stroke-opacity="0.45"/><use href="#sM" x="770" y="296" fill="#ffa200"/><use href="#sCp" x="786" y="297" fill="none" stroke="#241e3c" stroke-width="1.6" stroke-opacity="0.45"/><use href="#sCp" x="786" y="297" fill="#ffa200"/><use href="#sCp" x="772" y="306" fill="none" stroke="#241e3c" stroke-width="1.6" stroke-opacity="0.45"/><use href="#sCp" x="772" y="306" fill="#ffcc00"/><use href="#sCp" x="728" y="310" fill="none" stroke="#241e3c" stroke-width="1.6" stroke-opacity="0.45"/><use href="#sCp" x="728" y="310" fill="#ffcc00"/><use href="#sCp" x="752" y="309" fill="none" stroke="#241e3c" stroke-width="1.6" stroke-opacity="0.45"/><use href="#sCp" x="752" y="309" fill="#f05a10"/><use href="#sCp" x="798" y="320" fill="none" stroke="#241e3c" stroke-width="1.6" stroke-opacity="0.45"/><use href="#sCp" x="798" y="320" fill="#ffcc00"/><use href="#sCp" x="802" y="327" fill="none" stroke="#241e3c" stroke-width="1.6" stroke-opacity="0.45"/><use href="#sCp" x="802" y="327" fill="#ffcc00"/><use href="#sM" x="653" y="333" fill="none" stroke="#241e3c" stroke-width="1.6" stroke-opacity="0.45"/><use href="#sM" x="653" y="333" fill="#f05a10"/><use href="#sM" x="684" y="343" fill="none" stroke="#241e3c" stroke-width="1.6" stroke-opacity="0.45"/><use href="#sM" x="684" y="343" fill="#ff8000"/><use href="#sCm" x="739" y="342" fill="none" stroke="#241e3c" stroke-width="1.6" stroke-opacity="0.45"/><use href="#sCm" x="739" y="342" fill="#ffcc00"/><use href="#sCp" x="738" y="354" fill="none" stroke="#241e3c" stroke-width="1.6" stroke-opacity="0.45"/><use href="#sCp" x="738" y="354" fill="#ffcc00"/><use href="#sCp" x="734" y="359" fill="none" stroke="#241e3c" stroke-width="1.6" stroke-opacity="0.45"/><use href="#sCp" x="734" y="359" fill="#ffa200"/><use href="#sCp" x="746" y="366" fill="none" stroke="#241e3c" stroke-width="1.6" stroke-opacity="0.45"/><use href="#sCp" x="746" y="366" fill="#ffcc00"/><use href="#sCp" x="755" y="363" fill="none" stroke="#241e3c" stroke-width="1.6" stroke-opacity="0.45"/><use href="#sCp" x="755" y="363" fill="#ffff00"/><use href="#sP" x="745" y="374" fill="none" stroke="#241e3c" stroke-width="1.6" stroke-opacity="0.45"/><use href="#sP" x="745" y="374" fill="#ffcc00"/><use href="#sM" x="754" y="376" fill="none" stroke="#241e3c" stroke-width="1.6" stroke-opacity="0.45"/><use href="#sM" x="754" y="376" fill="#ff8000"/><use href="#sCm" x="719" y="388" fill="none" stroke="#241e3c" stroke-width="1.6" stroke-opacity="0.45"/><use href="#sCm" x="719" y="388" fill="#ffcc00"/><use href="#sM" x="784" y="386" fill="none" stroke="#241e3c" stroke-width="1.6" stroke-opacity="0.45"/><use href="#sM" x="784" y="386" fill="#ffa200"/><use href="#sCm" x="797" y="392" fill="none" stroke="#241e3c" stroke-width="1.6" stroke-opacity="0.45"/><use href="#sCm" x="797" y="392" fill="#ff8000"/><use href="#sCp" x="765" y="398" fill="none" stroke="#241e3c" stroke-width="1.6" stroke-opacity="0.45"/><use href="#sCp" x="765" y="398" fill="#ffa200"/><use href="#sCp" x="776" y="398" fill="none" stroke="#241e3c" stroke-width="1.6" stroke-opacity="0.45"/><use href="#sCp" x="776" y="398" fill="#ffff00"/><use href="#sCm" x="785" y="401" fill="none" stroke="#241e3c" stroke-width="1.6" stroke-opacity="0.45"/><use href="#sCm" x="785" y="401" fill="#ffff00"/><use href="#sCm" x="786" y="403" fill="none" stroke="#241e3c" stroke-width="1.6" stroke-opacity="0.45"/><use href="#sCm" x="786" y="403" fill="#ffff00"/><use href="#sM" x="716" y="404" fill="none" stroke="#241e3c" stroke-width="1.6" stroke-opacity="0.45"/><use href="#sM" x="716" y="404" fill="#ffcc00"/><use href="#sCm" x="725" y="405" fill="none" stroke="#241e3c" stroke-width="1.6" stroke-opacity="0.45"/><use href="#sCm" x="725" y="405" fill="#ffcc00"/><use href="#sM" x="739" y="406" fill="none" stroke="#241e3c" stroke-width="1.6" stroke-opacity="0.45"/><use href="#sM" x="739" y="406" fill="#ffcc00"/><use href="#sM" x="741" y="404" fill="none" stroke="#241e3c" stroke-width="1.6" stroke-opacity="0.45"/><use href="#sM" x="741" y="404" fill="#ffcc00"/><use href="#sCp" x="742" y="412" fill="none" stroke="#241e3c" stroke-width="1.6" stroke-opacity="0.45"/><use href="#sCp" x="742" y="412" fill="#ff8000"/><use href="#sCp" x="740" y="414" fill="none" stroke="#241e3c" stroke-width="1.6" stroke-opacity="0.45"/><use href="#sCp" x="740" y="414" fill="#f05a10"/><use href="#sM" x="719" y="420" fill="none" stroke="#241e3c" stroke-width="1.6" stroke-opacity="0.45"/><use href="#sM" x="719" y="420" fill="#ffcc00"/><use href="#sP" x="730" y="417" fill="none" stroke="#241e3c" stroke-width="1.6" stroke-opacity="0.45"/><use href="#sP" x="730" y="417" fill="#ffff00"/><use href="#sCp" x="735" y="423" fill="none" stroke="#241e3c" stroke-width="1.6" stroke-opacity="0.45"/><use href="#sCp" x="735" y="423" fill="#f05a10"/><use href="#sCp" x="771" y="420" fill="none" stroke="#241e3c" stroke-width="1.6" stroke-opacity="0.45"/><use href="#sCp" x="771" y="420" fill="#ffff00"/><use href="#sCp" x="792" y="421" fill="none" stroke="#241e3c" stroke-width="1.6" stroke-opacity="0.45"/><use href="#sCp" x="792" y="421" fill="#ffff00"/><use href="#sCp" x="800" y="424" fill="none" stroke="#241e3c" stroke-width="1.6" stroke-opacity="0.45"/><use href="#sCp" x="800" y="424" fill="#ffff00"/><use href="#sCm" x="737" y="432" fill="none" stroke="#241e3c" stroke-width="1.6" stroke-opacity="0.45"/><use href="#sCm" x="737" y="432" fill="#ffcc00"/><use href="#sCp" x="744" y="434" fill="none" stroke="#241e3c" stroke-width="1.6" stroke-opacity="0.45"/><use href="#sCp" x="744" y="434" fill="#ffcc00"/><use href="#sCp" x="739" y="437" fill="none" stroke="#241e3c" stroke-width="1.6" stroke-opacity="0.45"/><use href="#sCp" x="739" y="437" fill="#ffcc00"/><use href="#sCp" x="714" y="437" fill="none" stroke="#241e3c" stroke-width="1.6" stroke-opacity="0.45"/><use href="#sCp" x="714" y="437" fill="#ffcc00"/><use href="#sCp" x="766" y="450" fill="none" stroke="#241e3c" stroke-width="1.6" stroke-opacity="0.45"/><use href="#sCp" x="766" y="450" fill="#ffa200"/><use href="#sCp" x="630" y="268" fill="none" stroke="#241e3c" stroke-width="1.6" stroke-opacity="0.45"/><use href="#sCp" x="630" y="268" fill="#ffa200"/><use href="#sM" x="641" y="278" fill="none" stroke="#241e3c" stroke-width="1.6" stroke-opacity="0.45"/><use href="#sM" x="641" y="278" fill="#ff8000"/><use href="#sM" x="632" y="283" fill="none" stroke="#241e3c" stroke-width="1.6" stroke-opacity="0.45"/><use href="#sM" x="632" y="283" fill="#ff8000"/><use href="#sM" x="650" y="365" fill="none" stroke="#241e3c" stroke-width="1.6" stroke-opacity="0.45"/><use href="#sM" x="650" y="365" fill="#f05a10"/><use href="#sM" x="584" y="414" fill="none" stroke="#241e3c" stroke-width="1.6" stroke-opacity="0.45"/><use href="#sM" x="584" y="414" fill="#ffff00"/><use href="#sM" x="593" y="520" fill="none" stroke="#241e3c" stroke-width="1.6" stroke-opacity="0.45"/><use href="#sM" x="593" y="520" fill="#ff8000"/><use href="#sM" x="778" y="509" fill="none" stroke="#241e3c" stroke-width="1.6" stroke-opacity="0.45"/><use href="#sM" x="778" y="509" fill="#ff8000"/><use href="#sM" x="714" y="594" fill="none" stroke="#241e3c" stroke-width="1.6" stroke-opacity="0.45"/><use href="#sM" x="714" y="594" fill="#ffff00"/><use href="#sM" x="701" y="638" fill="none" stroke="#241e3c" stroke-width="1.6" stroke-opacity="0.45"/><use href="#sM" x="701" y="638" fill="#ff8000"/><use href="#sM" x="685" y="648" fill="none" stroke="#241e3c" stroke-width="1.6" stroke-opacity="0.45"/><use href="#sM" x="685" y="648" fill="#ffff00"/><use href="#sM" x="662" y="656" fill="none" stroke="#241e3c" stroke-width="1.6" stroke-opacity="0.45"/><use href="#sM" x="662" y="656" fill="#ffcc00"/><use href="#sCp" x="658" y="667" fill="none" stroke="#241e3c" stroke-width="1.6" stroke-opacity="0.45"/><use href="#sCp" x="658" y="667" fill="#ffff00"/><use href="#sCp" x="665" y="672" fill="none" stroke="#241e3c" stroke-width="1.6" stroke-opacity="0.45"/><use href="#sCp" x="665" y="672" fill="#ffff00"/><use href="#sCp" x="673" y="673" fill="none" stroke="#241e3c" stroke-width="1.6" stroke-opacity="0.45"/><use href="#sCp" x="673" y="673" fill="#ffcc00"/><use href="#sCp" x="685" y="663" fill="none" stroke="#241e3c" stroke-width="1.6" stroke-opacity="0.45"/><use href="#sCp" x="685" y="663" fill="#ffcc00"/><use href="#sCp" x="756" y="669" fill="none" stroke="#241e3c" stroke-width="1.6" stroke-opacity="0.45"/><use href="#sCp" x="756" y="669" fill="#ff8000"/><use href="#sCp" x="749" y="696" fill="none" stroke="#241e3c" stroke-width="1.6" stroke-opacity="0.45"/><use href="#sCp" x="749" y="696" fill="#ffcc00"/><use href="#sCp" x="719" y="711" fill="none" stroke="#241e3c" stroke-width="1.6" stroke-opacity="0.45"/><use href="#sCp" x="719" y="711" fill="#ffcc00"/><use href="#sM" x="743" y="720" fill="none" stroke="#241e3c" stroke-width="1.6" stroke-opacity="0.45"/><use href="#sM" x="743" y="720" fill="#ffcc00"/><use href="#sM" x="660" y="774" fill="none" stroke="#241e3c" stroke-width="1.6" stroke-opacity="0.45"/><use href="#sM" x="660" y="774" fill="#ffcc00"/><use href="#sM" x="746" y="770" fill="none" stroke="#241e3c" stroke-width="1.6" stroke-opacity="0.45"/><use href="#sM" x="746" y="770" fill="#ffcc00"/><use href="#sM" x="385" y="76" fill="none" stroke="#241e3c" stroke-width="1.6" stroke-opacity="0.45"/><use href="#sM" x="385" y="76" fill="#ffa200"/><use href="#sCp" x="404" y="87" fill="none" stroke="#241e3c" stroke-width="1.6" stroke-opacity="0.45"/><use href="#sCp" x="404" y="87" fill="#ffa200"/><use href="#sM" x="393" y="155" fill="none" stroke="#241e3c" stroke-width="1.6" stroke-opacity="0.45"/><use href="#sM" x="393" y="155" fill="#ffa200"/><use href="#sM" x="433" y="90" fill="none" stroke="#241e3c" stroke-width="1.6" stroke-opacity="0.45"/><use href="#sM" x="433" y="90" fill="#ffff00"/></g><path d="M595.5 153H604M599.8 149V157" stroke="#ff1010" stroke-width="1.4"/><text x="558" y="157.5" fill="#f8f8f8" font-size="11" font-family="'DejaVu Sans Condensed', 'Liberation Sans', sans-serif">J-2225 7</text></g><rect x="8" y="758" width="245" height="47" fill="#000"/><rect x="9.5" y="759.5" width="242" height="42.5" fill="none" stroke="#a8a8a8" stroke-width="1" shape-rendering="crispEdges"/><text x="13" y="771" fill="#d8d8e0" font-size="10" font-family="'DejaVu Sans Condensed', 'Liberation Sans', sans-serif" textLength="36" lengthAdjust="spacingAndGlyphs">Symbols</text><text x="52.5" y="771" fill="#e4e4e4" font-size="10" font-family="'DejaVu Sans Condensed', 'Liberation Sans', sans-serif" textLength="17" lengthAdjust="spacingAndGlyphs">-CG</text><text x="77.5" y="771" fill="#e4e4e4" font-size="10" font-family="'DejaVu Sans Condensed', 'Liberation Sans', sans-serif" textLength="14" lengthAdjust="spacingAndGlyphs">-IC</text><text x="98.5" y="771" fill="#e4e4e4" font-size="10" font-family="'DejaVu Sans Condensed', 'Liberation Sans', sans-serif" textLength="20" lengthAdjust="spacingAndGlyphs">+CG</text><text x="123.5" y="771" fill="#e4e4e4" font-size="10" font-family="'DejaVu Sans Condensed', 'Liberation Sans', sans-serif" textLength="17" lengthAdjust="spacingAndGlyphs">+IC</text><text x="154" y="771" fill="#d0d8e8" font-size="10" font-family="'DejaVu Sans Condensed', 'Liberation Sans', sans-serif" textLength="89" lengthAdjust="spacingAndGlyphs">Strike age color codes</text><text x="13" y="784" fill="#d8d8e0" font-size="10" font-family="'DejaVu Sans Condensed', 'Liberation Sans', sans-serif" textLength="30" lengthAdjust="spacingAndGlyphs">Recent</text><text x="13" y="797" fill="#d8d8e0" font-size="10" font-family="'DejaVu Sans Condensed', 'Liberation Sans', sans-serif" textLength="15" lengthAdjust="spacingAndGlyphs">Old</text><use href="#sCm" x="60" y="780" fill="#00ffff"/><use href="#sM" x="85" y="780" fill="#00ffff"/><use href="#sCp" x="110" y="780" fill="#00ffff"/><use href="#sP" x="135" y="780" fill="#00ffff"/><use href="#sCm" x="60" y="793" fill="#ffff00"/><use href="#sM" x="85" y="793" fill="#ffff00"/><use href="#sCp" x="110" y="793" fill="#ffff00"/><use href="#sP" x="135" y="793" fill="#ffff00"/><text x="154" y="784" fill="#e8e000" font-size="10" font-family="'DejaVu Sans Condensed', 'Liberation Sans', sans-serif" textLength="17" lengthAdjust="spacingAndGlyphs">15+</text><text x="188" y="784" fill="#f0b000" font-size="10" font-family="'DejaVu Sans Condensed', 'Liberation Sans', sans-serif" textLength="17" lengthAdjust="spacingAndGlyphs">30+</text><text x="223" y="784" fill="#e8a000" font-size="10" font-family="'DejaVu Sans Condensed', 'Liberation Sans', sans-serif" textLength="17" lengthAdjust="spacingAndGlyphs">45+</text><text x="154" y="797" fill="#e88000" font-size="10" font-family="'DejaVu Sans Condensed', 'Liberation Sans', sans-serif" textLength="17" lengthAdjust="spacingAndGlyphs">60+</text><text x="188" y="797" fill="#e86000" font-size="10" font-family="'DejaVu Sans Condensed', 'Liberation Sans', sans-serif" textLength="17" lengthAdjust="spacingAndGlyphs">75+</text><text x="223" y="797" fill="#e84000" font-size="10" font-family="'DejaVu Sans Condensed', 'Liberation Sans', sans-serif" textLength="17" lengthAdjust="spacingAndGlyphs">90+</text><rect x="685" y="791" width="121" height="15" fill="#000"/><text x="688.5" y="802.5" fill="#f0f0f0" font-size="10.5" font-family="'DejaVu Sans Condensed', 'Liberation Sans', sans-serif" textLength="114" lengthAdjust="spacingAndGlyphs">©2005 Astrogenic Systems</text><path d="M822 777.5H1088.5M1088.5 777.5V542" stroke="#c8c8c8" stroke-width="1" fill="none" shape-rendering="crispEdges"/><path d="M1086 738.5H1090" stroke="#c8c8c8" stroke-width="1" shape-rendering="crispEdges"/><path d="M1084 699.5H1091" stroke="#c8c8c8" stroke-width="1" shape-rendering="crispEdges"/><path d="M1086 659.5H1090" stroke="#c8c8c8" stroke-width="1" shape-rendering="crispEdges"/><path d="M1084 620.5H1091" stroke="#c8c8c8" stroke-width="1" shape-rendering="crispEdges"/><path d="M1086 581.5H1090" stroke="#c8c8c8" stroke-width="1" shape-rendering="crispEdges"/><path d="M1084 542.5H1091" stroke="#c8c8c8" stroke-width="1" shape-rendering="crispEdges"/><text x="1092" y="704.1" font-family="'DejaVu Sans Condensed', 'Liberation Sans', sans-serif" font-size="12.5" fill="#c8c8c8">10</text><text x="1092" y="624.5" font-family="'DejaVu Sans Condensed', 'Liberation Sans', sans-serif" font-size="12.5" fill="#c8c8c8">20</text><text x="1092" y="546.8" font-family="'DejaVu Sans Condensed', 'Liberation Sans', sans-serif" font-size="12.5" fill="#c8c8c8">30</text><text x="826.7" y="793" text-anchor="middle" font-family="'DejaVu Sans Condensed', 'Liberation Sans', sans-serif" font-size="12.5" fill="#c8c8c8">60</text><text x="870.5" y="793" text-anchor="middle" font-family="'DejaVu Sans Condensed', 'Liberation Sans', sans-serif" font-size="12.5" fill="#c8c8c8">50</text><text x="915" y="793" text-anchor="middle" font-family="'DejaVu Sans Condensed', 'Liberation Sans', sans-serif" font-size="12.5" fill="#c8c8c8">40</text><text x="960" y="793" text-anchor="middle" font-family="'DejaVu Sans Condensed', 'Liberation Sans', sans-serif" font-size="12.5" fill="#c8c8c8">30</text><text x="1004" y="793" text-anchor="middle" font-family="'DejaVu Sans Condensed', 'Liberation Sans', sans-serif" font-size="12.5" fill="#c8c8c8">20</text><text x="1048.6" y="793" text-anchor="middle" font-family="'DejaVu Sans Condensed', 'Liberation Sans', sans-serif" font-size="12.5" fill="#c8c8c8">10</text><text x="1090" y="793" text-anchor="middle" font-family="'DejaVu Sans Condensed', 'Liberation Sans', sans-serif" font-size="12.5" fill="#c8c8c8">0</text><text x="1098" y="793" font-family="'DejaVu Sans Condensed', 'Liberation Sans', sans-serif" font-size="12.5" fill="#c8c8c8">min</text><polyline points="822.0,777.0 824.2,777.0 826.4,769.2 828.6,777.0 830.8,777.0 833.0,777.0 835.2,777.0 837.4,777.0 839.6,777.0 841.8,769.2 844.0,777.0 846.2,769.2 848.4,769.2 850.6,777.0 852.8,777.0 855.0,777.0 857.2,769.2 859.4,761.4 861.6,769.2 863.8,777.0 866.0,769.2 868.2,769.2 870.4,769.2 872.6,769.2 874.8,777.0 877.0,777.0 879.2,769.2 881.4,777.0 883.6,769.2 885.8,777.0 888.0,777.0 890.2,777.0 892.4,769.2 894.6,777.0 896.8,769.2 899.0,777.0 901.2,769.2 903.4,777.0 905.6,777.0 907.8,777.0 910.0,769.2 912.2,777.0 914.4,777.0 916.6,777.0 918.8,777.0 921.0,777.0 923.2,769.2 925.4,769.2 927.6,777.0 929.8,777.0 932.0,777.0 934.2,777.0 936.4,777.0 938.6,769.2 940.8,777.0 943.0,777.0 945.2,777.0 947.4,777.0 949.6,777.0 951.8,777.0 954.0,769.2 956.2,769.2 958.4,769.2 960.6,769.2 962.8,777.0 965.0,777.0 967.2,769.2 969.4,777.0 971.6,769.2 973.8,777.0 976.0,777.0 978.2,777.0 980.4,777.0 982.6,769.2 984.8,777.0 987.0,777.0 989.2,777.0 991.4,777.0 993.6,769.2 995.8,777.0 998.0,777.0 1000.2,777.0 1002.4,777.0 1004.6,777.0 1006.8,777.0 1009.0,777.0 1011.2,777.0 1013.4,769.2 1015.6,769.2 1017.8,777.0 1020.0,777.0 1022.2,777.0 1024.4,777.0 1026.6,769.2 1028.8,769.2 1031.0,769.2 1033.2,769.2 1035.4,777.0 1037.6,769.2 1039.8,769.2 1042.0,777.0 1044.2,769.2 1046.4,769.2 1048.6,777.0 1050.8,777.0 1053.0,769.2 1055.2,777.0 1057.4,769.2 1059.6,777.0 1061.8,777.0 1064.0,777.0 1066.2,769.2 1068.4,769.2 1070.6,769.2 1072.8,777.0 1075.0,769.2 1077.2,761.4 1079.4,769.2 1081.6,777.0 1083.8,777.0 1086.0,777.0" fill="none" stroke="#ff80c8" stroke-width="1" shape-rendering="crispEdges"/><polyline points="822.0,777.0 824.2,777.0 826.4,777.0 828.6,769.2 830.8,777.0 833.0,777.0 835.2,769.2 837.4,761.4 839.6,769.2 841.8,769.2 844.0,777.0 846.2,777.0 848.4,769.2 850.6,761.4 852.8,769.2 855.0,777.0 857.2,769.2 859.4,777.0 861.6,769.2 863.8,769.2 866.0,769.2 868.2,777.0 870.4,769.2 872.6,777.0 874.8,769.2 877.0,777.0 879.2,769.2 881.4,777.0 883.6,777.0 885.8,777.0 888.0,777.0 890.2,777.0 892.4,777.0 894.6,769.2 896.8,769.2 899.0,769.2 901.2,769.2 903.4,777.0 905.6,769.2 907.8,777.0 910.0,769.2 912.2,777.0 914.4,777.0 916.6,777.0 918.8,777.0 921.0,777.0 923.2,769.2 925.4,769.2 927.6,777.0 929.8,777.0 932.0,777.0 934.2,769.2 936.4,769.2 938.6,777.0 940.8,761.4 943.0,753.6 945.2,761.4 947.4,769.2 949.6,777.0 951.8,777.0 954.0,777.0 956.2,769.2 958.4,777.0 960.6,769.2 962.8,777.0 965.0,777.0 967.2,769.2 969.4,777.0 971.6,777.0 973.8,769.2 976.0,777.0 978.2,777.0 980.4,769.2 982.6,777.0 984.8,769.2 987.0,761.4 989.2,769.2 991.4,769.2 993.6,769.2 995.8,769.2 998.0,777.0 1000.2,769.2 1002.4,769.2 1004.6,777.0 1006.8,777.0 1009.0,777.0 1011.2,777.0 1013.4,777.0 1015.6,777.0 1017.8,777.0 1020.0,777.0 1022.2,777.0 1024.4,777.0 1026.6,769.2 1028.8,777.0 1031.0,777.0 1033.2,777.0 1035.4,777.0 1037.6,777.0 1039.8,777.0 1042.0,777.0 1044.2,769.2 1046.4,761.4 1048.6,769.2 1050.8,777.0 1053.0,777.0 1055.2,777.0 1057.4,777.0 1059.6,769.2 1061.8,777.0 1064.0,777.0 1066.2,777.0 1068.4,769.2 1070.6,753.6 1072.8,761.4 1075.0,769.2 1077.2,761.4 1079.4,769.2 1081.6,769.2 1083.8,769.2 1086.0,777.0" fill="none" stroke="#90c8ff" stroke-width="1" shape-rendering="crispEdges"/><polyline points="822.0,753.6 824.2,761.4 826.4,777.0 828.6,769.2 830.8,777.0 833.0,769.2 835.2,769.2 837.4,769.2 839.6,769.2 841.8,777.0 844.0,769.2 846.2,777.0 848.4,769.2 850.6,761.4 852.8,769.2 855.0,777.0 857.2,769.2 859.4,769.2 861.6,777.0 863.8,777.0 866.0,777.0 868.2,769.2 870.4,769.2 872.6,769.2 874.8,777.0 877.0,769.2 879.2,769.2 881.4,769.2 883.6,769.2 885.8,769.2 888.0,769.2 890.2,761.4 892.4,769.2 894.6,769.2 896.8,769.2 899.0,769.2 901.2,777.0 903.4,769.2 905.6,777.0 907.8,769.2 910.0,769.2 912.2,769.2 914.4,769.2 916.6,769.2 918.8,769.2 921.0,769.2 923.2,769.2 925.4,769.2 927.6,777.0 929.8,769.2 932.0,777.0 934.2,769.2 936.4,769.2 938.6,769.2 940.8,769.2 943.0,769.2 945.2,769.2 947.4,777.0 949.6,777.0 951.8,777.0 954.0,769.2 956.2,769.2 958.4,753.6 960.6,745.8 962.8,761.4 965.0,769.2 967.2,777.0 969.4,777.0 971.6,777.0 973.8,769.2 976.0,777.0 978.2,769.2 980.4,769.2 982.6,769.2 984.8,769.2 987.0,769.2 989.2,769.2 991.4,777.0 993.6,769.2 995.8,769.2 998.0,769.2 1000.2,769.2 1002.4,769.2 1004.6,761.4 1006.8,769.2 1009.0,777.0 1011.2,769.2 1013.4,761.4 1015.6,769.2 1017.8,777.0 1020.0,769.2 1022.2,769.2 1024.4,777.0 1026.6,769.2 1028.8,769.2 1031.0,777.0 1033.2,769.2 1035.4,769.2 1037.6,777.0 1039.8,769.2 1042.0,777.0 1044.2,769.2 1046.4,777.0 1048.6,769.2 1050.8,753.6 1053.0,753.6 1055.2,769.2 1057.4,777.0 1059.6,777.0 1061.8,777.0 1064.0,769.2 1066.2,777.0 1068.4,777.0 1070.6,769.2 1072.8,769.2 1075.0,769.2 1077.2,769.2 1079.4,769.2 1081.6,777.0 1083.8,769.2 1086.0,777.0" fill="none" stroke="#00ff00" stroke-width="1" shape-rendering="crispEdges"/><polyline points="822.0,769.2 824.2,769.2 826.4,769.2 828.6,777.0 830.8,777.0 833.0,777.0 835.2,777.0 837.4,777.0 839.6,769.2 841.8,769.2 844.0,777.0 846.2,769.2 848.4,761.4 850.6,753.6 852.8,769.2 855.0,769.2 857.2,761.4 859.4,769.2 861.6,769.2 863.8,769.2 866.0,769.2 868.2,777.0 870.4,777.0 872.6,769.2 874.8,777.0 877.0,769.2 879.2,769.2 881.4,769.2 883.6,769.2 885.8,769.2 888.0,769.2 890.2,777.0 892.4,769.2 894.6,769.2 896.8,769.2 899.0,777.0 901.2,769.2 903.4,769.2 905.6,769.2 907.8,761.4 910.0,753.6 912.2,761.4 914.4,769.2 916.6,769.2 918.8,777.0 921.0,777.0 923.2,769.2 925.4,769.2 927.6,769.2 929.8,777.0 932.0,769.2 934.2,777.0 936.4,777.0 938.6,769.2 940.8,769.2 943.0,777.0 945.2,769.2 947.4,769.2 949.6,769.2 951.8,769.2 954.0,745.8 956.2,745.8 958.4,753.6 960.6,753.6 962.8,761.4 965.0,769.2 967.2,777.0 969.4,769.2 971.6,777.0 973.8,769.2 976.0,769.2 978.2,769.2 980.4,761.4 982.6,769.2 984.8,777.0 987.0,769.2 989.2,769.2 991.4,769.2 993.6,769.2 995.8,777.0 998.0,769.2 1000.2,761.4 1002.4,761.4 1004.6,769.2 1006.8,777.0 1009.0,777.0 1011.2,769.2 1013.4,769.2 1015.6,769.2 1017.8,761.4 1020.0,769.2 1022.2,769.2 1024.4,777.0 1026.6,769.2 1028.8,769.2 1031.0,761.4 1033.2,769.2 1035.4,769.2 1037.6,769.2 1039.8,769.2 1042.0,761.4 1044.2,753.6 1046.4,769.2 1048.6,769.2 1050.8,769.2 1053.0,777.0 1055.2,769.2 1057.4,777.0 1059.6,777.0 1061.8,769.2 1064.0,769.2 1066.2,769.2 1068.4,769.2 1070.6,769.2 1072.8,777.0 1075.0,769.2 1077.2,761.4 1079.4,769.2 1081.6,769.2 1083.8,769.2 1086.0,769.2" fill="none" stroke="#ff0000" stroke-width="1" shape-rendering="crispEdges"/><polyline points="822.3,745.8 823.5,761.0 826.6,761.0 828.5,769.2 830.3,769.2 830.9,777.0 832.1,751.3 834.6,745.8 836.4,757.5 838.3,761.4 840.8,761.4 842.0,768.4 846.3,768.4 848.1,748.9 850.6,737.6 852.4,737.6 853.7,746.6 856.1,761.4 859.2,752.8 862.3,752.8 864.1,761.4 866.0,768.4 870.9,768.4 872.7,773.1 874.0,761.4 876.4,761.4 878.3,773.1 880.7,761.4 882.6,761.4 884.4,773.1 888.1,768.4 891.2,745.8 893.6,758.3 896.7,768.4 902.9,768.4 906.0,738.0 908.4,738.0 909.6,745.8 912.1,745.8 914.0,751.3 915.8,768.4 917.6,773.1 920.1,761.4 923.2,768.4 926.2,752.8 927.5,752.8 930.0,770.8 932.4,768.4 937.9,768.4 939.8,751.3 942.2,746.6 944.7,738.0 947.1,721.6 949.0,746.6 950.8,755.9 952.0,736.4 954.0,721.6 956.0,721.6 957.4,734.1 959.2,713.8 961.0,711.5 962.3,706.0 963.5,719.3 964.8,732.5 966.6,761.0 969.0,768.4 974.0,768.4 975.8,752.0 977.3,745.8 979.0,752.8 986.0,752.8 988.0,761.4 990.0,761.4 992.4,752.8 995.0,752.8 998.6,752.8 1000.4,740.3 1002.3,729.4 1004.0,740.3 1006.6,768.4 1009.0,775.4 1011.5,768.4 1014.0,752.0 1016.4,738.0 1019.0,752.8 1024.0,752.8 1026.0,768.4 1028.7,768.4 1031.0,746.6 1032.3,752.0 1033.6,748.9 1036.0,768.4 1038.6,774.7 1041.0,752.0 1042.9,745.8 1045.3,738.0 1047.2,745.8 1049.6,738.0 1051.5,745.8 1052.7,738.0 1054.6,752.0 1056.4,761.4 1060.7,761.4 1062.0,768.4 1063.8,752.8 1066.2,768.4 1068.0,768.4 1070.0,738.0 1073.0,738.0 1074.8,752.0 1076.7,746.6 1084.7,746.6 1086.0,763.7 1087.8,768.4" fill="none" stroke="#ffffff" stroke-width="1" shape-rendering="crispEdges"/></svg>
<div class="box" style="top:8px;height:318px"></div>
<div class="box" style="top:333px;height:113px"></div>
<div class="box" style="top:453px;height:348px"></div>
<div class="btn" style="left:819px;top:16px;width:56px;height:16px;background:#5a0000;color:#ddd4cc;font-family:'DejaVu Sans','Liberation Sans',sans-serif;font-weight:bold;font-size:12px;line-height:17px;text-align:center">STRIKE</div>
<div class="btn" style="left:883px;top:16px;width:56px;height:16px;background:#333;color:#c4c4c4;font-family:'DejaVu Sans','Liberation Sans',sans-serif;font-weight:bold;font-size:12px;line-height:17px;text-align:center">NOISE</div>
<div class="btn" style="left:994px;top:16px;width:126px;height:16px;background:#333;font-family:'DejaVu Sans','Liberation Sans',sans-serif;font-weight:bold;font-size:12px;line-height:17px"><span style="position:absolute;left:4px;color:#f4f4f4">Bng 31°</span><span style="position:absolute;right:4px;color:#10f010">262mi</span></div>
<div class="btn" style="left:821px;top:64px;width:80px;height:14px;background:#626262;color:#e8e8e8;font-family:'DejaVu Sans Condensed','Liberation Sans',sans-serif;font-size:13px;line-height:14px;text-align:center">Strikes/min</div>
<div class="btn" style="left:931px;top:64px;width:80px;height:14px;background:#626262;color:#e8e8e8;font-family:'DejaVu Sans Condensed','Liberation Sans',sans-serif;font-size:13px;line-height:14px;text-align:center">Close/min</div>
<div class="btn" style="left:1041px;top:64px;width:80px;height:14px;background:#626262;color:#e8e8e8;font-family:'DejaVu Sans Condensed','Liberation Sans',sans-serif;font-size:13px;line-height:14px;text-align:center">Noises/min</div>
<div class="t" style="right:235px;top:85px;font-family:'DejaVu Sans','Liberation Sans',sans-serif;font-weight:bold;font-size:30px;line-height:36px;color:#fff">3</div>
<div class="t" style="right:125px;top:85px;font-family:'DejaVu Sans','Liberation Sans',sans-serif;font-weight:bold;font-size:30px;line-height:36px;color:#fff">0</div>
<div class="t" style="right:15px;top:85px;font-family:'DejaVu Sans','Liberation Sans',sans-serif;font-weight:bold;font-size:30px;line-height:36px;color:#c4c4c4">0</div>
<div class="t" style="right:235px;top:131px;font-family:'DejaVu Sans Condensed','Liberation Sans',sans-serif;font-size:13px;letter-spacing:0.5px;line-height:16px;color:#ececec;text-align:right">Total Strikes</div>
<div class="t" style="right:235px;top:149px;font-family:'DejaVu Sans Condensed','Liberation Sans',sans-serif;font-size:13px;letter-spacing:0.5px;line-height:16px;color:#ececec;text-align:right">749</div>
<div class="t" style="right:125px;top:131px;font-family:'DejaVu Sans Condensed','Liberation Sans',sans-serif;font-size:13px;letter-spacing:0.5px;line-height:16px;color:#ececec;text-align:right">Total Close</div>
<div class="t" style="right:125px;top:149px;font-family:'DejaVu Sans Condensed','Liberation Sans',sans-serif;font-size:13px;letter-spacing:0.5px;line-height:16px;color:#ececec;text-align:right">0</div>
<div class="t" style="right:15px;top:131px;font-family:'DejaVu Sans Condensed','Liberation Sans',sans-serif;font-size:13px;letter-spacing:0.5px;line-height:16px;color:#c4c4c4;text-align:right">Total Noises</div>
<div class="t" style="right:15px;top:149px;font-family:'DejaVu Sans Condensed','Liberation Sans',sans-serif;font-size:13px;letter-spacing:0.5px;line-height:16px;color:#c4c4c4;text-align:right">53</div>
<div class="t" style="left:821px;top:203px;font-family:'DejaVu Sans Condensed','Liberation Sans',sans-serif;font-size:13px;letter-spacing:0.45px;line-height:16px;color:#c4c4c4">Lightning type distribution</div>
<div style="position:absolute;left:821px;top:217px;width:303px;height:1px;background:#a8a8a8"></div>
<div class="t" style="left:821px;top:225px;font-family:'DejaVu Sans Condensed','Liberation Sans',sans-serif;font-weight:bold;font-size:12.5px;line-height:16px;color:#fff">Cloud-ground</div>
<div class="t" style="left:912px;top:225px;font-family:'DejaVu Sans Condensed','Liberation Sans',sans-serif;font-weight:bold;font-size:13px;line-height:16px;color:#d0d0d0">+</div>
<div class="bar" style="left:925px;top:227px"><div style="width:24px;background:#ff0000"></div></div>
<div class="t" style="left:979px;top:225px;font-family:'DejaVu Sans Condensed','Liberation Sans',sans-serif;font-weight:bold;font-size:12.5px;line-height:16px;color:#fff">48%</div>
<div style="position:absolute;left:1016px;top:232px;width:6px;height:2px;background:#c8c8c8"></div>
<div class="bar" style="left:1028px;top:227px"><div style="width:6px;background:#a8d4ff"></div></div>
<div class="t" style="left:1083px;top:225px;font-family:'DejaVu Sans Condensed','Liberation Sans',sans-serif;font-weight:bold;font-size:12.5px;line-height:16px;color:#fff">12%</div>
<div class="t" style="left:821px;top:279px;font-family:'DejaVu Sans Condensed','Liberation Sans',sans-serif;font-weight:bold;font-size:12.5px;line-height:16px;color:#fff">Intracloud</div>
<div class="t" style="left:912px;top:279px;font-family:'DejaVu Sans Condensed','Liberation Sans',sans-serif;font-weight:bold;font-size:13px;line-height:16px;color:#d0d0d0">+</div>
<div class="bar" style="left:925px;top:281px"><div style="width:4px;background:#f060b0"></div></div>
<div class="t" style="left:979px;top:279px;font-family:'DejaVu Sans Condensed','Liberation Sans',sans-serif;font-weight:bold;font-size:12.5px;line-height:16px;color:#fff">7%</div>
<div style="position:absolute;left:1016px;top:286px;width:6px;height:2px;background:#c8c8c8"></div>
<div class="bar" style="left:1028px;top:281px"><div style="width:16px;background:#00ff00"></div></div>
<div class="t" style="left:1083px;top:279px;font-family:'DejaVu Sans Condensed','Liberation Sans',sans-serif;font-weight:bold;font-size:12.5px;line-height:16px;color:#fff">32%</div>
<div class="t" style="left:821px;top:249px;font-family:'DejaVu Sans Condensed','Liberation Sans',sans-serif;font-weight:bold;font-size:12.5px;line-height:16px;color:#c4c4c4">Count</div>
<div class="t" style="left:925px;top:249px;font-family:'DejaVu Sans Condensed','Liberation Sans',sans-serif;font-weight:bold;font-size:12.5px;line-height:16px;color:#fff">362</div>
<div class="t" style="left:1028px;top:249px;font-family:'DejaVu Sans Condensed','Liberation Sans',sans-serif;font-weight:bold;font-size:12.5px;line-height:16px;color:#fff">92</div>
<div class="t" style="left:821px;top:303px;font-family:'DejaVu Sans Condensed','Liberation Sans',sans-serif;font-weight:bold;font-size:12.5px;line-height:16px;color:#c4c4c4">Count</div>
<div class="t" style="left:925px;top:303px;font-family:'DejaVu Sans Condensed','Liberation Sans',sans-serif;font-weight:bold;font-size:12.5px;line-height:16px;color:#fff">54</div>
<div class="t" style="left:1028px;top:303px;font-family:'DejaVu Sans Condensed','Liberation Sans',sans-serif;font-weight:bold;font-size:12.5px;line-height:16px;color:#fff">241</div>
<div class="t" style="left:821px;top:337px;font-family:'DejaVu Sans','Liberation Sans',sans-serif;font-weight:bold;font-size:16px;letter-spacing:0.35px;line-height:20px;color:#10ee10">10/22/2025 3:49:16 AM</div>
<div style="position:absolute;left:821px;top:358px;width:301px;height:1px;background:#a8a8a8"></div>
<div class="t" style="left:821px;top:376px;font-family:'DejaVu Sans Condensed','Liberation Sans',sans-serif;font-size:13px;letter-spacing:0.5px;line-height:16px;color:#ececec">Squelch</div>
<div class="t" style="left:909px;top:376px;font-family:'DejaVu Sans Condensed','Liberation Sans',sans-serif;font-size:13px;letter-spacing:0.5px;line-height:16px;color:#ececec">0</div>
<div class="t" style="left:981px;top:376px;font-family:'DejaVu Sans Condensed','Liberation Sans',sans-serif;font-size:13px;letter-spacing:0.5px;line-height:16px;color:#ececec">Upload</div>
<div class="t" style="left:1061px;top:376px;font-family:'DejaVu Sans Condensed','Liberation Sans',sans-serif;font-size:13px;letter-spacing:0.5px;line-height:16px;color:#c4c4c4">Disabled</div>
<div class="t" style="left:821px;top:396px;font-family:'DejaVu Sans Condensed','Liberation Sans',sans-serif;font-size:13px;letter-spacing:0.5px;line-height:16px;color:#ececec">Persistence</div>
<div class="t" style="left:909px;top:396px;font-family:'DejaVu Sans Condensed','Liberation Sans',sans-serif;font-size:13px;letter-spacing:0.5px;line-height:16px;color:#ececec">90 min</div>
<div class="t" style="left:981px;top:396px;font-family:'DejaVu Sans Condensed','Liberation Sans',sans-serif;font-size:13px;letter-spacing:0.5px;line-height:16px;color:#ececec">Capture</div>
<div class="t" style="left:1061px;top:396px;font-family:'DejaVu Sans Condensed','Liberation Sans',sans-serif;font-size:13px;letter-spacing:0.5px;line-height:16px;color:#20e020">Active</div>
<div class="t" style="left:821px;top:416px;font-family:'DejaVu Sans Condensed','Liberation Sans',sans-serif;font-size:13px;letter-spacing:0.5px;line-height:16px;color:#ececec">Range</div>
<div class="t" style="left:909px;top:416px;font-family:'DejaVu Sans Condensed','Liberation Sans',sans-serif;font-size:13px;letter-spacing:0.5px;line-height:16px;color:#ececec">313 mi</div>
<div class="t" style="left:981px;top:416px;font-family:'DejaVu Sans Condensed','Liberation Sans',sans-serif;font-size:13px;letter-spacing:0.5px;line-height:16px;color:#ececec">Receiver</div>
<div class="t" style="left:1061px;top:416px;font-family:'DejaVu Sans Condensed','Liberation Sans',sans-serif;font-size:13px;letter-spacing:0.5px;line-height:16px;color:#20e020">Enabled</div>
<div class="t" style="left:821px;top:463px;font-family:'DejaVu Sans Condensed','Liberation Sans',sans-serif;font-size:13px;letter-spacing:0.5px;line-height:16px;color:#d4d4d4">Uptime</div>
<div class="t" style="left:910px;top:463px;font-family:'DejaVu Sans Condensed','Liberation Sans',sans-serif;font-size:13px;letter-spacing:0.5px;line-height:16px;color:#fff">119:19</div>
<div class="t" style="left:981px;top:463px;font-family:'DejaVu Sans Condensed','Liberation Sans',sans-serif;font-size:13px;letter-spacing:0.5px;line-height:16px;color:#d4d4d4">Peak time</div>
<div class="t" style="left:1061px;top:463px;font-family:'DejaVu Sans Condensed','Liberation Sans',sans-serif;font-size:13px;letter-spacing:0.5px;line-height:16px;color:#d4d4d4">Plot</div>
<div class="t" style="left:821px;top:486px;font-family:'DejaVu Sans Condensed','Liberation Sans',sans-serif;font-size:13px;letter-spacing:0.5px;line-height:16px;color:#d4d4d4">Peak rate</div>
<div class="t" style="left:910px;top:486px;font-family:'DejaVu Sans Condensed','Liberation Sans',sans-serif;font-size:13px;letter-spacing:0.5px;line-height:16px;color:#fff">11/min</div>
<div class="t" style="left:982px;top:486px;font-family:'DejaVu Sans Condensed','Liberation Sans',sans-serif;font-size:13px;letter-spacing:0.5px;line-height:16px;color:#fff">12:06 AM</div>
<div class="t" style="left:1061px;top:486px;font-family:'DejaVu Sans Condensed','Liberation Sans',sans-serif;font-size:13px;letter-spacing:0.5px;line-height:16px;color:#fff">Strike</div>
<div class="t" style="left:822px;top:515px;font-family:'DejaVu Sans Condensed','Liberation Sans',sans-serif;font-size:13px;letter-spacing:0.5px;line-height:16px;color:#d4d4d4">Trend graph</div>
<div class="t" style="left:908px;top:515px;font-family:'DejaVu Sans Condensed','Liberation Sans',sans-serif;font-size:13px;letter-spacing:0.5px;line-height:16px;color:#fff">60 min</div>
</body></html>
